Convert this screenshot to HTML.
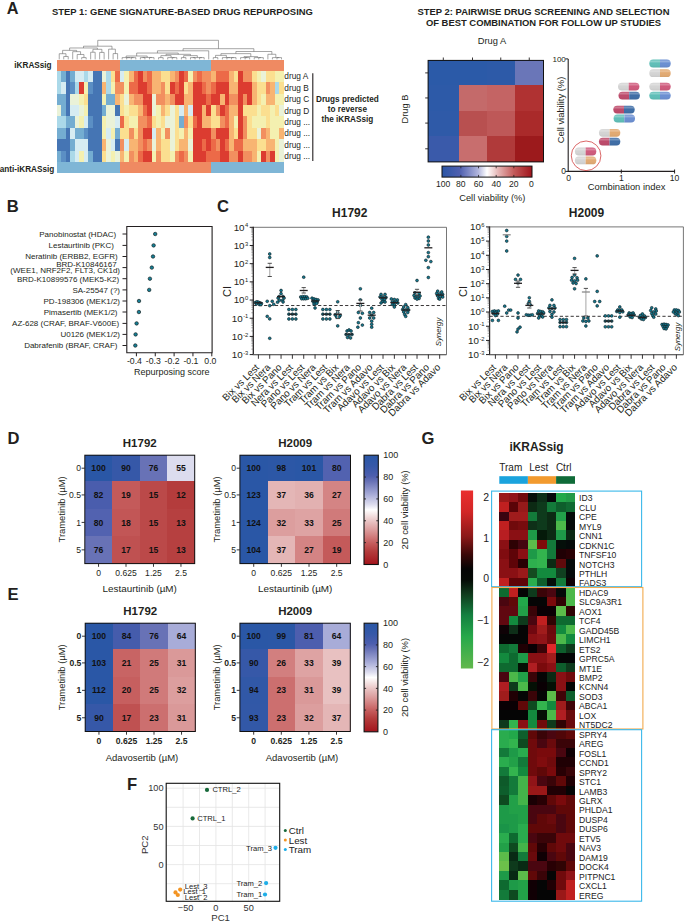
<!DOCTYPE html><html><head><meta charset="utf-8"><style>html,body{margin:0;padding:0;background:#fff}svg{display:block}text{font-family:"Liberation Sans",sans-serif}</style></head><body><svg width="685" height="924" viewBox="0 0 685 924"><rect width="685" height="924" fill="#fff"/><text x="6.80" y="13.90" font-size="16.3" font-weight="bold" fill="#231f20">A</text>
<text x="52.00" y="15.30" font-size="9.43" font-weight="bold" fill="#231f20">STEP 1: GENE SIGNATURE-BASED DRUG REPURPOSING</text>
<text x="543.50" y="14.80" font-size="9.43" font-weight="bold" text-anchor="middle" fill="#231f20">STEP 2: PAIRWISE DRUG SCREENING AND SELECTION</text>
<text x="543.50" y="26.10" font-size="9.43" font-weight="bold" text-anchor="middle" fill="#231f20">OF BEST COMBINATION FOR FOLLOW UP STUDIES</text>
<g shape-rendering="crispEdges">
<rect x="57.00" y="70.80" width="4.89" height="11.79" fill="#abd9e9"/>
<rect x="61.49" y="70.80" width="4.89" height="11.79" fill="#74add1"/>
<rect x="65.98" y="70.80" width="4.89" height="11.79" fill="#4575b4"/>
<rect x="70.47" y="70.80" width="4.89" height="11.79" fill="#74add1"/>
<rect x="74.96" y="70.80" width="4.89" height="11.79" fill="#d6ecf2"/>
<rect x="79.45" y="70.80" width="4.89" height="11.79" fill="#d6ecf2"/>
<rect x="83.94" y="70.80" width="4.89" height="11.79" fill="#abd9e9"/>
<rect x="88.42" y="70.80" width="4.89" height="11.79" fill="#d6ecf2"/>
<rect x="92.91" y="70.80" width="4.89" height="11.79" fill="#4575b4"/>
<rect x="97.40" y="70.80" width="4.89" height="11.79" fill="#4575b4"/>
<rect x="101.89" y="70.80" width="4.89" height="11.79" fill="#eaf2d8"/>
<rect x="106.38" y="70.80" width="4.89" height="11.79" fill="#abd9e9"/>
<rect x="110.87" y="70.80" width="4.89" height="11.79" fill="#fbdf90"/>
<rect x="115.36" y="70.80" width="4.89" height="11.79" fill="#ec6a48"/>
<rect x="119.85" y="70.80" width="4.96" height="11.79" fill="#d6ecf2"/>
<rect x="124.41" y="70.80" width="4.96" height="11.79" fill="#f4f0b0"/>
<rect x="128.97" y="70.80" width="4.96" height="11.79" fill="#f8b472"/>
<rect x="133.52" y="70.80" width="4.96" height="11.79" fill="#ec6a48"/>
<rect x="138.08" y="70.80" width="4.96" height="11.79" fill="#dc3c30"/>
<rect x="142.64" y="70.80" width="4.96" height="11.79" fill="#f28f5f"/>
<rect x="147.19" y="70.80" width="4.96" height="11.79" fill="#ec6a48"/>
<rect x="151.75" y="70.80" width="4.96" height="11.79" fill="#f8b472"/>
<rect x="156.31" y="70.80" width="4.96" height="11.79" fill="#f8b472"/>
<rect x="160.87" y="70.80" width="4.96" height="11.79" fill="#fbdf90"/>
<rect x="165.43" y="70.80" width="4.96" height="11.79" fill="#fbdf90"/>
<rect x="169.98" y="70.80" width="4.96" height="11.79" fill="#f8b472"/>
<rect x="174.54" y="70.80" width="4.96" height="11.79" fill="#f28f5f"/>
<rect x="179.10" y="70.80" width="4.96" height="11.79" fill="#dc3c30"/>
<rect x="183.66" y="70.80" width="4.96" height="11.79" fill="#ec6a48"/>
<rect x="188.21" y="70.80" width="4.96" height="11.79" fill="#f4f0b0"/>
<rect x="192.77" y="70.80" width="4.96" height="11.79" fill="#f28f5f"/>
<rect x="197.33" y="70.80" width="4.96" height="11.79" fill="#ec6a48"/>
<rect x="201.88" y="70.80" width="4.96" height="11.79" fill="#f28f5f"/>
<rect x="206.44" y="70.80" width="4.96" height="11.79" fill="#f28f5f"/>
<rect x="211.00" y="70.80" width="4.95" height="11.79" fill="#f8b472"/>
<rect x="215.55" y="70.80" width="4.95" height="11.79" fill="#ec6a48"/>
<rect x="220.10" y="70.80" width="4.95" height="11.79" fill="#ec6a48"/>
<rect x="224.65" y="70.80" width="4.95" height="11.79" fill="#ec6a48"/>
<rect x="229.20" y="70.80" width="4.95" height="11.79" fill="#f8b472"/>
<rect x="233.75" y="70.80" width="4.95" height="11.79" fill="#fbdf90"/>
<rect x="238.30" y="70.80" width="4.95" height="11.79" fill="#dc3c30"/>
<rect x="242.85" y="70.80" width="4.95" height="11.79" fill="#f28f5f"/>
<rect x="247.40" y="70.80" width="4.95" height="11.79" fill="#f28f5f"/>
<rect x="251.95" y="70.80" width="4.95" height="11.79" fill="#fbdf90"/>
<rect x="256.50" y="70.80" width="4.95" height="11.79" fill="#f4f0b0"/>
<rect x="261.05" y="70.80" width="4.95" height="11.79" fill="#eaf2d8"/>
<rect x="265.60" y="70.80" width="4.95" height="11.79" fill="#fbdf90"/>
<rect x="270.15" y="70.80" width="4.95" height="11.79" fill="#fbdf90"/>
<rect x="274.70" y="70.80" width="4.95" height="11.79" fill="#f4f0b0"/>
<rect x="279.25" y="70.80" width="4.95" height="11.79" fill="#f4f0b0"/>
<rect x="57.00" y="82.19" width="4.89" height="11.79" fill="#abd9e9"/>
<rect x="61.49" y="82.19" width="4.89" height="11.79" fill="#d6ecf2"/>
<rect x="65.98" y="82.19" width="4.89" height="11.79" fill="#4575b4"/>
<rect x="70.47" y="82.19" width="4.89" height="11.79" fill="#5b8fc4"/>
<rect x="74.96" y="82.19" width="4.89" height="11.79" fill="#abd9e9"/>
<rect x="79.45" y="82.19" width="4.89" height="11.79" fill="#dc3c30"/>
<rect x="83.94" y="82.19" width="4.89" height="11.79" fill="#f4f0b0"/>
<rect x="88.42" y="82.19" width="4.89" height="11.79" fill="#5b8fc4"/>
<rect x="92.91" y="82.19" width="4.89" height="11.79" fill="#4575b4"/>
<rect x="97.40" y="82.19" width="4.89" height="11.79" fill="#4575b4"/>
<rect x="101.89" y="82.19" width="4.89" height="11.79" fill="#f8b472"/>
<rect x="106.38" y="82.19" width="4.89" height="11.79" fill="#abd9e9"/>
<rect x="110.87" y="82.19" width="4.89" height="11.79" fill="#f4f0b0"/>
<rect x="115.36" y="82.19" width="4.89" height="11.79" fill="#f28f5f"/>
<rect x="119.85" y="82.19" width="4.96" height="11.79" fill="#f28f5f"/>
<rect x="124.41" y="82.19" width="4.96" height="11.79" fill="#f4f0b0"/>
<rect x="128.97" y="82.19" width="4.96" height="11.79" fill="#ec6a48"/>
<rect x="133.52" y="82.19" width="4.96" height="11.79" fill="#ec6a48"/>
<rect x="138.08" y="82.19" width="4.96" height="11.79" fill="#dc3c30"/>
<rect x="142.64" y="82.19" width="4.96" height="11.79" fill="#dc3c30"/>
<rect x="147.19" y="82.19" width="4.96" height="11.79" fill="#ec6a48"/>
<rect x="151.75" y="82.19" width="4.96" height="11.79" fill="#f8b472"/>
<rect x="156.31" y="82.19" width="4.96" height="11.79" fill="#f8b472"/>
<rect x="160.87" y="82.19" width="4.96" height="11.79" fill="#f28f5f"/>
<rect x="165.43" y="82.19" width="4.96" height="11.79" fill="#fbdf90"/>
<rect x="169.98" y="82.19" width="4.96" height="11.79" fill="#dc3c30"/>
<rect x="174.54" y="82.19" width="4.96" height="11.79" fill="#ec6a48"/>
<rect x="179.10" y="82.19" width="4.96" height="11.79" fill="#dc3c30"/>
<rect x="183.66" y="82.19" width="4.96" height="11.79" fill="#fbdf90"/>
<rect x="188.21" y="82.19" width="4.96" height="11.79" fill="#f8b472"/>
<rect x="192.77" y="82.19" width="4.96" height="11.79" fill="#dc3c30"/>
<rect x="197.33" y="82.19" width="4.96" height="11.79" fill="#dc3c30"/>
<rect x="201.88" y="82.19" width="4.96" height="11.79" fill="#ec6a48"/>
<rect x="206.44" y="82.19" width="4.96" height="11.79" fill="#f28f5f"/>
<rect x="211.00" y="82.19" width="4.95" height="11.79" fill="#ec6a48"/>
<rect x="215.55" y="82.19" width="4.95" height="11.79" fill="#dc3c30"/>
<rect x="220.10" y="82.19" width="4.95" height="11.79" fill="#dc3c30"/>
<rect x="224.65" y="82.19" width="4.95" height="11.79" fill="#dc3c30"/>
<rect x="229.20" y="82.19" width="4.95" height="11.79" fill="#f8b472"/>
<rect x="233.75" y="82.19" width="4.95" height="11.79" fill="#f8b472"/>
<rect x="238.30" y="82.19" width="4.95" height="11.79" fill="#dc3c30"/>
<rect x="242.85" y="82.19" width="4.95" height="11.79" fill="#dc3c30"/>
<rect x="247.40" y="82.19" width="4.95" height="11.79" fill="#dc3c30"/>
<rect x="251.95" y="82.19" width="4.95" height="11.79" fill="#f8b472"/>
<rect x="256.50" y="82.19" width="4.95" height="11.79" fill="#fbdf90"/>
<rect x="261.05" y="82.19" width="4.95" height="11.79" fill="#fbdf90"/>
<rect x="265.60" y="82.19" width="4.95" height="11.79" fill="#f28f5f"/>
<rect x="270.15" y="82.19" width="4.95" height="11.79" fill="#f8b472"/>
<rect x="274.70" y="82.19" width="4.95" height="11.79" fill="#abd9e9"/>
<rect x="279.25" y="82.19" width="4.95" height="11.79" fill="#fbdf90"/>
<rect x="57.00" y="93.58" width="4.89" height="11.79" fill="#74add1"/>
<rect x="61.49" y="93.58" width="4.89" height="11.79" fill="#74add1"/>
<rect x="65.98" y="93.58" width="4.89" height="11.79" fill="#4575b4"/>
<rect x="70.47" y="93.58" width="4.89" height="11.79" fill="#eaf2d8"/>
<rect x="74.96" y="93.58" width="4.89" height="11.79" fill="#eaf2d8"/>
<rect x="79.45" y="93.58" width="4.89" height="11.79" fill="#f4f0b0"/>
<rect x="83.94" y="93.58" width="4.89" height="11.79" fill="#fbdf90"/>
<rect x="88.42" y="93.58" width="4.89" height="11.79" fill="#4575b4"/>
<rect x="92.91" y="93.58" width="4.89" height="11.79" fill="#4575b4"/>
<rect x="97.40" y="93.58" width="4.89" height="11.79" fill="#4575b4"/>
<rect x="101.89" y="93.58" width="4.89" height="11.79" fill="#f4f0b0"/>
<rect x="106.38" y="93.58" width="4.89" height="11.79" fill="#74add1"/>
<rect x="110.87" y="93.58" width="4.89" height="11.79" fill="#74add1"/>
<rect x="115.36" y="93.58" width="4.89" height="11.79" fill="#f8b472"/>
<rect x="119.85" y="93.58" width="4.96" height="11.79" fill="#fbdf90"/>
<rect x="124.41" y="93.58" width="4.96" height="11.79" fill="#eaf2d8"/>
<rect x="128.97" y="93.58" width="4.96" height="11.79" fill="#f8b472"/>
<rect x="133.52" y="93.58" width="4.96" height="11.79" fill="#f28f5f"/>
<rect x="138.08" y="93.58" width="4.96" height="11.79" fill="#f28f5f"/>
<rect x="142.64" y="93.58" width="4.96" height="11.79" fill="#dc3c30"/>
<rect x="147.19" y="93.58" width="4.96" height="11.79" fill="#dc3c30"/>
<rect x="151.75" y="93.58" width="4.96" height="11.79" fill="#eaf2d8"/>
<rect x="156.31" y="93.58" width="4.96" height="11.79" fill="#f28f5f"/>
<rect x="160.87" y="93.58" width="4.96" height="11.79" fill="#f28f5f"/>
<rect x="165.43" y="93.58" width="4.96" height="11.79" fill="#f8b472"/>
<rect x="169.98" y="93.58" width="4.96" height="11.79" fill="#f28f5f"/>
<rect x="174.54" y="93.58" width="4.96" height="11.79" fill="#dc3c30"/>
<rect x="179.10" y="93.58" width="4.96" height="11.79" fill="#dc3c30"/>
<rect x="183.66" y="93.58" width="4.96" height="11.79" fill="#f8b472"/>
<rect x="188.21" y="93.58" width="4.96" height="11.79" fill="#f8b472"/>
<rect x="192.77" y="93.58" width="4.96" height="11.79" fill="#dc3c30"/>
<rect x="197.33" y="93.58" width="4.96" height="11.79" fill="#dc3c30"/>
<rect x="201.88" y="93.58" width="4.96" height="11.79" fill="#dc3c30"/>
<rect x="206.44" y="93.58" width="4.96" height="11.79" fill="#ec6a48"/>
<rect x="211.00" y="93.58" width="4.95" height="11.79" fill="#dc3c30"/>
<rect x="215.55" y="93.58" width="4.95" height="11.79" fill="#dc3c30"/>
<rect x="220.10" y="93.58" width="4.95" height="11.79" fill="#f8b472"/>
<rect x="224.65" y="93.58" width="4.95" height="11.79" fill="#dc3c30"/>
<rect x="229.20" y="93.58" width="4.95" height="11.79" fill="#f28f5f"/>
<rect x="233.75" y="93.58" width="4.95" height="11.79" fill="#f28f5f"/>
<rect x="238.30" y="93.58" width="4.95" height="11.79" fill="#dc3c30"/>
<rect x="242.85" y="93.58" width="4.95" height="11.79" fill="#f28f5f"/>
<rect x="247.40" y="93.58" width="4.95" height="11.79" fill="#dc3c30"/>
<rect x="251.95" y="93.58" width="4.95" height="11.79" fill="#f8b472"/>
<rect x="256.50" y="93.58" width="4.95" height="11.79" fill="#fbdf90"/>
<rect x="261.05" y="93.58" width="4.95" height="11.79" fill="#f4f0b0"/>
<rect x="265.60" y="93.58" width="4.95" height="11.79" fill="#f8b472"/>
<rect x="270.15" y="93.58" width="4.95" height="11.79" fill="#f8b472"/>
<rect x="274.70" y="93.58" width="4.95" height="11.79" fill="#f4f0b0"/>
<rect x="279.25" y="93.58" width="4.95" height="11.79" fill="#f4f0b0"/>
<rect x="57.00" y="104.96" width="4.89" height="11.79" fill="#eaf2d8"/>
<rect x="61.49" y="104.96" width="4.89" height="11.79" fill="#74add1"/>
<rect x="65.98" y="104.96" width="4.89" height="11.79" fill="#4575b4"/>
<rect x="70.47" y="104.96" width="4.89" height="11.79" fill="#d6ecf2"/>
<rect x="74.96" y="104.96" width="4.89" height="11.79" fill="#d6ecf2"/>
<rect x="79.45" y="104.96" width="4.89" height="11.79" fill="#eaf2d8"/>
<rect x="83.94" y="104.96" width="4.89" height="11.79" fill="#f4f0b0"/>
<rect x="88.42" y="104.96" width="4.89" height="11.79" fill="#4575b4"/>
<rect x="92.91" y="104.96" width="4.89" height="11.79" fill="#4575b4"/>
<rect x="97.40" y="104.96" width="4.89" height="11.79" fill="#4575b4"/>
<rect x="101.89" y="104.96" width="4.89" height="11.79" fill="#74add1"/>
<rect x="106.38" y="104.96" width="4.89" height="11.79" fill="#eaf2d8"/>
<rect x="110.87" y="104.96" width="4.89" height="11.79" fill="#eaf2d8"/>
<rect x="115.36" y="104.96" width="4.89" height="11.79" fill="#4575b4"/>
<rect x="119.85" y="104.96" width="4.96" height="11.79" fill="#fbdf90"/>
<rect x="124.41" y="104.96" width="4.96" height="11.79" fill="#f4f0b0"/>
<rect x="128.97" y="104.96" width="4.96" height="11.79" fill="#fbdf90"/>
<rect x="133.52" y="104.96" width="4.96" height="11.79" fill="#fbdf90"/>
<rect x="138.08" y="104.96" width="4.96" height="11.79" fill="#f8b472"/>
<rect x="142.64" y="104.96" width="4.96" height="11.79" fill="#ec6a48"/>
<rect x="147.19" y="104.96" width="4.96" height="11.79" fill="#dc3c30"/>
<rect x="151.75" y="104.96" width="4.96" height="11.79" fill="#eaf2d8"/>
<rect x="156.31" y="104.96" width="4.96" height="11.79" fill="#f4f0b0"/>
<rect x="160.87" y="104.96" width="4.96" height="11.79" fill="#f8b472"/>
<rect x="165.43" y="104.96" width="4.96" height="11.79" fill="#fbdf90"/>
<rect x="169.98" y="104.96" width="4.96" height="11.79" fill="#eaf2d8"/>
<rect x="174.54" y="104.96" width="4.96" height="11.79" fill="#fbdf90"/>
<rect x="179.10" y="104.96" width="4.96" height="11.79" fill="#d6ecf2"/>
<rect x="183.66" y="104.96" width="4.96" height="11.79" fill="#f8b472"/>
<rect x="188.21" y="104.96" width="4.96" height="11.79" fill="#d6ecf2"/>
<rect x="192.77" y="104.96" width="4.96" height="11.79" fill="#dc3c30"/>
<rect x="197.33" y="104.96" width="4.96" height="11.79" fill="#dc3c30"/>
<rect x="201.88" y="104.96" width="4.96" height="11.79" fill="#f8b472"/>
<rect x="206.44" y="104.96" width="4.96" height="11.79" fill="#dc3c30"/>
<rect x="211.00" y="104.96" width="4.95" height="11.79" fill="#fbdf90"/>
<rect x="215.55" y="104.96" width="4.95" height="11.79" fill="#f28f5f"/>
<rect x="220.10" y="104.96" width="4.95" height="11.79" fill="#dc3c30"/>
<rect x="224.65" y="104.96" width="4.95" height="11.79" fill="#ec6a48"/>
<rect x="229.20" y="104.96" width="4.95" height="11.79" fill="#f8b472"/>
<rect x="233.75" y="104.96" width="4.95" height="11.79" fill="#f8b472"/>
<rect x="238.30" y="104.96" width="4.95" height="11.79" fill="#dc3c30"/>
<rect x="242.85" y="104.96" width="4.95" height="11.79" fill="#fbdf90"/>
<rect x="247.40" y="104.96" width="4.95" height="11.79" fill="#fbdf90"/>
<rect x="251.95" y="104.96" width="4.95" height="11.79" fill="#fbdf90"/>
<rect x="256.50" y="104.96" width="4.95" height="11.79" fill="#f4f0b0"/>
<rect x="261.05" y="104.96" width="4.95" height="11.79" fill="#fbdf90"/>
<rect x="265.60" y="104.96" width="4.95" height="11.79" fill="#fbdf90"/>
<rect x="270.15" y="104.96" width="4.95" height="11.79" fill="#f4f0b0"/>
<rect x="274.70" y="104.96" width="4.95" height="11.79" fill="#fbdf90"/>
<rect x="279.25" y="104.96" width="4.95" height="11.79" fill="#eaf2d8"/>
<rect x="57.00" y="116.35" width="4.89" height="11.79" fill="#abd9e9"/>
<rect x="61.49" y="116.35" width="4.89" height="11.79" fill="#abd9e9"/>
<rect x="65.98" y="116.35" width="4.89" height="11.79" fill="#74add1"/>
<rect x="70.47" y="116.35" width="4.89" height="11.79" fill="#74add1"/>
<rect x="74.96" y="116.35" width="4.89" height="11.79" fill="#eaf2d8"/>
<rect x="79.45" y="116.35" width="4.89" height="11.79" fill="#f4f0b0"/>
<rect x="83.94" y="116.35" width="4.89" height="11.79" fill="#d6ecf2"/>
<rect x="88.42" y="116.35" width="4.89" height="11.79" fill="#5b8fc4"/>
<rect x="92.91" y="116.35" width="4.89" height="11.79" fill="#4575b4"/>
<rect x="97.40" y="116.35" width="4.89" height="11.79" fill="#4575b4"/>
<rect x="101.89" y="116.35" width="4.89" height="11.79" fill="#f4f0b0"/>
<rect x="106.38" y="116.35" width="4.89" height="11.79" fill="#eaf2d8"/>
<rect x="110.87" y="116.35" width="4.89" height="11.79" fill="#eaf2d8"/>
<rect x="115.36" y="116.35" width="4.89" height="11.79" fill="#d6ecf2"/>
<rect x="119.85" y="116.35" width="4.96" height="11.79" fill="#ec6a48"/>
<rect x="124.41" y="116.35" width="4.96" height="11.79" fill="#fbdf90"/>
<rect x="128.97" y="116.35" width="4.96" height="11.79" fill="#f4f0b0"/>
<rect x="133.52" y="116.35" width="4.96" height="11.79" fill="#f4f0b0"/>
<rect x="138.08" y="116.35" width="4.96" height="11.79" fill="#f28f5f"/>
<rect x="142.64" y="116.35" width="4.96" height="11.79" fill="#f28f5f"/>
<rect x="147.19" y="116.35" width="4.96" height="11.79" fill="#ec6a48"/>
<rect x="151.75" y="116.35" width="4.96" height="11.79" fill="#fbdf90"/>
<rect x="156.31" y="116.35" width="4.96" height="11.79" fill="#f4f0b0"/>
<rect x="160.87" y="116.35" width="4.96" height="11.79" fill="#fbdf90"/>
<rect x="165.43" y="116.35" width="4.96" height="11.79" fill="#eaf2d8"/>
<rect x="169.98" y="116.35" width="4.96" height="11.79" fill="#eaf2d8"/>
<rect x="174.54" y="116.35" width="4.96" height="11.79" fill="#fbdf90"/>
<rect x="179.10" y="116.35" width="4.96" height="11.79" fill="#74add1"/>
<rect x="183.66" y="116.35" width="4.96" height="11.79" fill="#f28f5f"/>
<rect x="188.21" y="116.35" width="4.96" height="11.79" fill="#fbdf90"/>
<rect x="192.77" y="116.35" width="4.96" height="11.79" fill="#ec6a48"/>
<rect x="197.33" y="116.35" width="4.96" height="11.79" fill="#dc3c30"/>
<rect x="201.88" y="116.35" width="4.96" height="11.79" fill="#f8b472"/>
<rect x="206.44" y="116.35" width="4.96" height="11.79" fill="#f8b472"/>
<rect x="211.00" y="116.35" width="4.95" height="11.79" fill="#fbdf90"/>
<rect x="215.55" y="116.35" width="4.95" height="11.79" fill="#fbdf90"/>
<rect x="220.10" y="116.35" width="4.95" height="11.79" fill="#f28f5f"/>
<rect x="224.65" y="116.35" width="4.95" height="11.79" fill="#ec6a48"/>
<rect x="229.20" y="116.35" width="4.95" height="11.79" fill="#f8b472"/>
<rect x="233.75" y="116.35" width="4.95" height="11.79" fill="#f4f0b0"/>
<rect x="238.30" y="116.35" width="4.95" height="11.79" fill="#dc3c30"/>
<rect x="242.85" y="116.35" width="4.95" height="11.79" fill="#f28f5f"/>
<rect x="247.40" y="116.35" width="4.95" height="11.79" fill="#fbdf90"/>
<rect x="251.95" y="116.35" width="4.95" height="11.79" fill="#f4f0b0"/>
<rect x="256.50" y="116.35" width="4.95" height="11.79" fill="#f4f0b0"/>
<rect x="261.05" y="116.35" width="4.95" height="11.79" fill="#f4f0b0"/>
<rect x="265.60" y="116.35" width="4.95" height="11.79" fill="#fbdf90"/>
<rect x="270.15" y="116.35" width="4.95" height="11.79" fill="#f4f0b0"/>
<rect x="274.70" y="116.35" width="4.95" height="11.79" fill="#f4f0b0"/>
<rect x="279.25" y="116.35" width="4.95" height="11.79" fill="#f4f0b0"/>
<rect x="57.00" y="127.74" width="4.89" height="11.79" fill="#74add1"/>
<rect x="61.49" y="127.74" width="4.89" height="11.79" fill="#74add1"/>
<rect x="65.98" y="127.74" width="4.89" height="11.79" fill="#4575b4"/>
<rect x="70.47" y="127.74" width="4.89" height="11.79" fill="#d6ecf2"/>
<rect x="74.96" y="127.74" width="4.89" height="11.79" fill="#74add1"/>
<rect x="79.45" y="127.74" width="4.89" height="11.79" fill="#74add1"/>
<rect x="83.94" y="127.74" width="4.89" height="11.79" fill="#5b8fc4"/>
<rect x="88.42" y="127.74" width="4.89" height="11.79" fill="#4575b4"/>
<rect x="92.91" y="127.74" width="4.89" height="11.79" fill="#4575b4"/>
<rect x="97.40" y="127.74" width="4.89" height="11.79" fill="#4575b4"/>
<rect x="101.89" y="127.74" width="4.89" height="11.79" fill="#f4f0b0"/>
<rect x="106.38" y="127.74" width="4.89" height="11.79" fill="#d6ecf2"/>
<rect x="110.87" y="127.74" width="4.89" height="11.79" fill="#f4f0b0"/>
<rect x="115.36" y="127.74" width="4.89" height="11.79" fill="#74add1"/>
<rect x="119.85" y="127.74" width="4.96" height="11.79" fill="#fbdf90"/>
<rect x="124.41" y="127.74" width="4.96" height="11.79" fill="#fbdf90"/>
<rect x="128.97" y="127.74" width="4.96" height="11.79" fill="#f28f5f"/>
<rect x="133.52" y="127.74" width="4.96" height="11.79" fill="#fbdf90"/>
<rect x="138.08" y="127.74" width="4.96" height="11.79" fill="#f28f5f"/>
<rect x="142.64" y="127.74" width="4.96" height="11.79" fill="#dc3c30"/>
<rect x="147.19" y="127.74" width="4.96" height="11.79" fill="#dc3c30"/>
<rect x="151.75" y="127.74" width="4.96" height="11.79" fill="#d6ecf2"/>
<rect x="156.31" y="127.74" width="4.96" height="11.79" fill="#f8b472"/>
<rect x="160.87" y="127.74" width="4.96" height="11.79" fill="#f4f0b0"/>
<rect x="165.43" y="127.74" width="4.96" height="11.79" fill="#f28f5f"/>
<rect x="169.98" y="127.74" width="4.96" height="11.79" fill="#eaf2d8"/>
<rect x="174.54" y="127.74" width="4.96" height="11.79" fill="#fbdf90"/>
<rect x="179.10" y="127.74" width="4.96" height="11.79" fill="#f4f0b0"/>
<rect x="183.66" y="127.74" width="4.96" height="11.79" fill="#f8b472"/>
<rect x="188.21" y="127.74" width="4.96" height="11.79" fill="#f4f0b0"/>
<rect x="192.77" y="127.74" width="4.96" height="11.79" fill="#dc3c30"/>
<rect x="197.33" y="127.74" width="4.96" height="11.79" fill="#dc3c30"/>
<rect x="201.88" y="127.74" width="4.96" height="11.79" fill="#dc3c30"/>
<rect x="206.44" y="127.74" width="4.96" height="11.79" fill="#dc3c30"/>
<rect x="211.00" y="127.74" width="4.95" height="11.79" fill="#f28f5f"/>
<rect x="215.55" y="127.74" width="4.95" height="11.79" fill="#dc3c30"/>
<rect x="220.10" y="127.74" width="4.95" height="11.79" fill="#dc3c30"/>
<rect x="224.65" y="127.74" width="4.95" height="11.79" fill="#dc3c30"/>
<rect x="229.20" y="127.74" width="4.95" height="11.79" fill="#f8b472"/>
<rect x="233.75" y="127.74" width="4.95" height="11.79" fill="#fbdf90"/>
<rect x="238.30" y="127.74" width="4.95" height="11.79" fill="#dc3c30"/>
<rect x="242.85" y="127.74" width="4.95" height="11.79" fill="#f28f5f"/>
<rect x="247.40" y="127.74" width="4.95" height="11.79" fill="#fbdf90"/>
<rect x="251.95" y="127.74" width="4.95" height="11.79" fill="#fbdf90"/>
<rect x="256.50" y="127.74" width="4.95" height="11.79" fill="#eaf2d8"/>
<rect x="261.05" y="127.74" width="4.95" height="11.79" fill="#f28f5f"/>
<rect x="265.60" y="127.74" width="4.95" height="11.79" fill="#f8b472"/>
<rect x="270.15" y="127.74" width="4.95" height="11.79" fill="#f4f0b0"/>
<rect x="274.70" y="127.74" width="4.95" height="11.79" fill="#f4f0b0"/>
<rect x="279.25" y="127.74" width="4.95" height="11.79" fill="#f8b472"/>
<rect x="57.00" y="139.12" width="4.89" height="11.79" fill="#4575b4"/>
<rect x="61.49" y="139.12" width="4.89" height="11.79" fill="#4575b4"/>
<rect x="65.98" y="139.12" width="4.89" height="11.79" fill="#4575b4"/>
<rect x="70.47" y="139.12" width="4.89" height="11.79" fill="#74add1"/>
<rect x="74.96" y="139.12" width="4.89" height="11.79" fill="#d6ecf2"/>
<rect x="79.45" y="139.12" width="4.89" height="11.79" fill="#d6ecf2"/>
<rect x="83.94" y="139.12" width="4.89" height="11.79" fill="#d6ecf2"/>
<rect x="88.42" y="139.12" width="4.89" height="11.79" fill="#4575b4"/>
<rect x="92.91" y="139.12" width="4.89" height="11.79" fill="#4575b4"/>
<rect x="97.40" y="139.12" width="4.89" height="11.79" fill="#4575b4"/>
<rect x="101.89" y="139.12" width="4.89" height="11.79" fill="#f8b472"/>
<rect x="106.38" y="139.12" width="4.89" height="11.79" fill="#eaf2d8"/>
<rect x="110.87" y="139.12" width="4.89" height="11.79" fill="#d6ecf2"/>
<rect x="115.36" y="139.12" width="4.89" height="11.79" fill="#4575b4"/>
<rect x="119.85" y="139.12" width="4.96" height="11.79" fill="#f28f5f"/>
<rect x="124.41" y="139.12" width="4.96" height="11.79" fill="#d6ecf2"/>
<rect x="128.97" y="139.12" width="4.96" height="11.79" fill="#f8b472"/>
<rect x="133.52" y="139.12" width="4.96" height="11.79" fill="#f8b472"/>
<rect x="138.08" y="139.12" width="4.96" height="11.79" fill="#f28f5f"/>
<rect x="142.64" y="139.12" width="4.96" height="11.79" fill="#ec6a48"/>
<rect x="147.19" y="139.12" width="4.96" height="11.79" fill="#f28f5f"/>
<rect x="151.75" y="139.12" width="4.96" height="11.79" fill="#eaf2d8"/>
<rect x="156.31" y="139.12" width="4.96" height="11.79" fill="#f8b472"/>
<rect x="160.87" y="139.12" width="4.96" height="11.79" fill="#fbdf90"/>
<rect x="165.43" y="139.12" width="4.96" height="11.79" fill="#fbdf90"/>
<rect x="169.98" y="139.12" width="4.96" height="11.79" fill="#eaf2d8"/>
<rect x="174.54" y="139.12" width="4.96" height="11.79" fill="#fbdf90"/>
<rect x="179.10" y="139.12" width="4.96" height="11.79" fill="#f8b472"/>
<rect x="183.66" y="139.12" width="4.96" height="11.79" fill="#f8b472"/>
<rect x="188.21" y="139.12" width="4.96" height="11.79" fill="#eaf2d8"/>
<rect x="192.77" y="139.12" width="4.96" height="11.79" fill="#dc3c30"/>
<rect x="197.33" y="139.12" width="4.96" height="11.79" fill="#dc3c30"/>
<rect x="201.88" y="139.12" width="4.96" height="11.79" fill="#ec6a48"/>
<rect x="206.44" y="139.12" width="4.96" height="11.79" fill="#dc3c30"/>
<rect x="211.00" y="139.12" width="4.95" height="11.79" fill="#ec6a48"/>
<rect x="215.55" y="139.12" width="4.95" height="11.79" fill="#f28f5f"/>
<rect x="220.10" y="139.12" width="4.95" height="11.79" fill="#dc3c30"/>
<rect x="224.65" y="139.12" width="4.95" height="11.79" fill="#ec6a48"/>
<rect x="229.20" y="139.12" width="4.95" height="11.79" fill="#f8b472"/>
<rect x="233.75" y="139.12" width="4.95" height="11.79" fill="#ec6a48"/>
<rect x="238.30" y="139.12" width="4.95" height="11.79" fill="#ec6a48"/>
<rect x="242.85" y="139.12" width="4.95" height="11.79" fill="#f8b472"/>
<rect x="247.40" y="139.12" width="4.95" height="11.79" fill="#f8b472"/>
<rect x="251.95" y="139.12" width="4.95" height="11.79" fill="#f8b472"/>
<rect x="256.50" y="139.12" width="4.95" height="11.79" fill="#fbdf90"/>
<rect x="261.05" y="139.12" width="4.95" height="11.79" fill="#fbdf90"/>
<rect x="265.60" y="139.12" width="4.95" height="11.79" fill="#f8b472"/>
<rect x="270.15" y="139.12" width="4.95" height="11.79" fill="#f8b472"/>
<rect x="274.70" y="139.12" width="4.95" height="11.79" fill="#f4f0b0"/>
<rect x="279.25" y="139.12" width="4.95" height="11.79" fill="#eaf2d8"/>
<rect x="57.00" y="150.51" width="4.89" height="11.79" fill="#74add1"/>
<rect x="61.49" y="150.51" width="4.89" height="11.79" fill="#5b8fc4"/>
<rect x="65.98" y="150.51" width="4.89" height="11.79" fill="#4575b4"/>
<rect x="70.47" y="150.51" width="4.89" height="11.79" fill="#abd9e9"/>
<rect x="74.96" y="150.51" width="4.89" height="11.79" fill="#d6ecf2"/>
<rect x="79.45" y="150.51" width="4.89" height="11.79" fill="#f4f0b0"/>
<rect x="83.94" y="150.51" width="4.89" height="11.79" fill="#d6ecf2"/>
<rect x="88.42" y="150.51" width="4.89" height="11.79" fill="#74add1"/>
<rect x="92.91" y="150.51" width="4.89" height="11.79" fill="#4575b4"/>
<rect x="97.40" y="150.51" width="4.89" height="11.79" fill="#4575b4"/>
<rect x="101.89" y="150.51" width="4.89" height="11.79" fill="#fbdf90"/>
<rect x="106.38" y="150.51" width="4.89" height="11.79" fill="#eaf2d8"/>
<rect x="110.87" y="150.51" width="4.89" height="11.79" fill="#f4f0b0"/>
<rect x="115.36" y="150.51" width="4.89" height="11.79" fill="#eaf2d8"/>
<rect x="119.85" y="150.51" width="4.96" height="11.79" fill="#f8b472"/>
<rect x="124.41" y="150.51" width="4.96" height="11.79" fill="#f4f0b0"/>
<rect x="128.97" y="150.51" width="4.96" height="11.79" fill="#f28f5f"/>
<rect x="133.52" y="150.51" width="4.96" height="11.79" fill="#f8b472"/>
<rect x="138.08" y="150.51" width="4.96" height="11.79" fill="#ec6a48"/>
<rect x="142.64" y="150.51" width="4.96" height="11.79" fill="#dc3c30"/>
<rect x="147.19" y="150.51" width="4.96" height="11.79" fill="#dc3c30"/>
<rect x="151.75" y="150.51" width="4.96" height="11.79" fill="#f4f0b0"/>
<rect x="156.31" y="150.51" width="4.96" height="11.79" fill="#f28f5f"/>
<rect x="160.87" y="150.51" width="4.96" height="11.79" fill="#fbdf90"/>
<rect x="165.43" y="150.51" width="4.96" height="11.79" fill="#fbdf90"/>
<rect x="169.98" y="150.51" width="4.96" height="11.79" fill="#f4f0b0"/>
<rect x="174.54" y="150.51" width="4.96" height="11.79" fill="#f28f5f"/>
<rect x="179.10" y="150.51" width="4.96" height="11.79" fill="#ec6a48"/>
<rect x="183.66" y="150.51" width="4.96" height="11.79" fill="#f28f5f"/>
<rect x="188.21" y="150.51" width="4.96" height="11.79" fill="#f4f0b0"/>
<rect x="192.77" y="150.51" width="4.96" height="11.79" fill="#dc3c30"/>
<rect x="197.33" y="150.51" width="4.96" height="11.79" fill="#dc3c30"/>
<rect x="201.88" y="150.51" width="4.96" height="11.79" fill="#dc3c30"/>
<rect x="206.44" y="150.51" width="4.96" height="11.79" fill="#ec6a48"/>
<rect x="211.00" y="150.51" width="4.95" height="11.79" fill="#ec6a48"/>
<rect x="215.55" y="150.51" width="4.95" height="11.79" fill="#ec6a48"/>
<rect x="220.10" y="150.51" width="4.95" height="11.79" fill="#dc3c30"/>
<rect x="224.65" y="150.51" width="4.95" height="11.79" fill="#dc3c30"/>
<rect x="229.20" y="150.51" width="4.95" height="11.79" fill="#f28f5f"/>
<rect x="233.75" y="150.51" width="4.95" height="11.79" fill="#f28f5f"/>
<rect x="238.30" y="150.51" width="4.95" height="11.79" fill="#dc3c30"/>
<rect x="242.85" y="150.51" width="4.95" height="11.79" fill="#f28f5f"/>
<rect x="247.40" y="150.51" width="4.95" height="11.79" fill="#f28f5f"/>
<rect x="251.95" y="150.51" width="4.95" height="11.79" fill="#f8b472"/>
<rect x="256.50" y="150.51" width="4.95" height="11.79" fill="#f4f0b0"/>
<rect x="261.05" y="150.51" width="4.95" height="11.79" fill="#dc3c30"/>
<rect x="265.60" y="150.51" width="4.95" height="11.79" fill="#f28f5f"/>
<rect x="270.15" y="150.51" width="4.95" height="11.79" fill="#dc3c30"/>
<rect x="274.70" y="150.51" width="4.95" height="11.79" fill="#f4f0b0"/>
<rect x="279.25" y="150.51" width="4.95" height="11.79" fill="#eaf2d8"/>
<rect x="57.00" y="59.60" width="62.85" height="11.20" fill="#ef8a62"/>
<rect x="119.85" y="59.60" width="91.15" height="11.20" fill="#7fb6d6"/>
<rect x="211.00" y="59.60" width="72.80" height="11.20" fill="#ef8a62"/>
<rect x="57.00" y="161.90" width="62.85" height="11.40" fill="#7fb6d6"/>
<rect x="119.85" y="161.90" width="91.15" height="11.40" fill="#ef8a62"/>
<rect x="211.00" y="161.90" width="72.80" height="11.40" fill="#7fb6d6"/>
</g>
<text x="51.60" y="68.40" font-size="8.2" font-weight="bold" text-anchor="end" fill="#231f20">iKRASsig</text>
<text x="54.30" y="171.80" font-size="8.2" font-weight="bold" text-anchor="end" fill="#231f20">anti-iKRASsig</text>
<text x="284.30" y="79.49" font-size="8.3" fill="#231f20">drug A</text>
<text x="284.30" y="90.88" font-size="8.3" fill="#231f20">drug B</text>
<text x="284.30" y="102.27" font-size="8.3" fill="#231f20">drug C</text>
<text x="284.30" y="113.66" font-size="8.3" fill="#231f20">drug D</text>
<text x="284.30" y="125.04" font-size="8.3" fill="#231f20">drug ...</text>
<text x="284.30" y="136.43" font-size="8.3" fill="#231f20">drug ...</text>
<text x="284.30" y="147.82" font-size="8.3" fill="#231f20">drug ...</text>
<text x="284.30" y="159.21" font-size="8.3" fill="#231f20">drug ...</text>
<line x1="312.80" y1="73.20" x2="312.80" y2="160.90" stroke="#231f20" stroke-width="1.1"/>
<text x="347.40" y="101.90" font-size="8.2" font-weight="bold" text-anchor="middle" fill="#231f20">Drugs predicted</text>
<text x="347.40" y="111.90" font-size="8.2" font-weight="bold" text-anchor="middle" fill="#231f20">to reverse</text>
<text x="347.40" y="121.90" font-size="8.2" font-weight="bold" text-anchor="middle" fill="#231f20">the iKRASsig</text>
<g stroke="#6a6a6a" stroke-width="0.6" fill="none">
<line x1="63.73" y1="59.40" x2="63.73" y2="56.48"/>
<line x1="68.22" y1="59.40" x2="68.22" y2="56.48"/>
<line x1="63.73" y1="56.48" x2="68.22" y2="56.48"/>
<line x1="59.24" y1="59.40" x2="59.24" y2="53.71"/>
<line x1="65.98" y1="56.48" x2="65.98" y2="53.71"/>
<line x1="59.24" y1="53.71" x2="65.98" y2="53.71"/>
<line x1="81.69" y1="59.40" x2="81.69" y2="57.60"/>
<line x1="86.18" y1="59.40" x2="86.18" y2="57.60"/>
<line x1="81.69" y1="57.60" x2="86.18" y2="57.60"/>
<line x1="77.20" y1="59.40" x2="77.20" y2="54.48"/>
<line x1="83.94" y1="57.60" x2="83.94" y2="54.48"/>
<line x1="77.20" y1="54.48" x2="83.94" y2="54.48"/>
<line x1="72.71" y1="59.40" x2="72.71" y2="51.66"/>
<line x1="80.57" y1="54.48" x2="80.57" y2="51.66"/>
<line x1="72.71" y1="51.66" x2="80.57" y2="51.66"/>
<line x1="62.61" y1="53.71" x2="62.61" y2="50.35"/>
<line x1="76.64" y1="51.66" x2="76.64" y2="50.35"/>
<line x1="62.61" y1="50.35" x2="76.64" y2="50.35"/>
<line x1="90.67" y1="59.40" x2="90.67" y2="52.24"/>
<line x1="95.16" y1="59.40" x2="95.16" y2="52.24"/>
<line x1="90.67" y1="52.24" x2="95.16" y2="52.24"/>
<line x1="99.65" y1="59.40" x2="99.65" y2="52.42"/>
<line x1="104.14" y1="59.40" x2="104.14" y2="52.42"/>
<line x1="99.65" y1="52.42" x2="104.14" y2="52.42"/>
<line x1="92.91" y1="52.24" x2="92.91" y2="49.31"/>
<line x1="101.89" y1="52.42" x2="101.89" y2="49.31"/>
<line x1="92.91" y1="49.31" x2="101.89" y2="49.31"/>
<line x1="69.63" y1="50.35" x2="69.63" y2="47.98"/>
<line x1="97.40" y1="49.31" x2="97.40" y2="47.98"/>
<line x1="69.63" y1="47.98" x2="97.40" y2="47.98"/>
<line x1="113.12" y1="59.40" x2="113.12" y2="53.58"/>
<line x1="117.61" y1="59.40" x2="117.61" y2="53.58"/>
<line x1="113.12" y1="53.58" x2="117.61" y2="53.58"/>
<line x1="108.63" y1="59.40" x2="108.63" y2="49.17"/>
<line x1="115.36" y1="53.58" x2="115.36" y2="49.17"/>
<line x1="108.63" y1="49.17" x2="115.36" y2="49.17"/>
<line x1="83.51" y1="47.98" x2="83.51" y2="46.20"/>
<line x1="111.99" y1="49.17" x2="111.99" y2="46.20"/>
<line x1="83.51" y1="46.20" x2="111.99" y2="46.20"/>
<line x1="131.24" y1="59.40" x2="131.24" y2="57.60"/>
<line x1="135.80" y1="59.40" x2="135.80" y2="57.60"/>
<line x1="131.24" y1="57.60" x2="135.80" y2="57.60"/>
<line x1="126.69" y1="59.40" x2="126.69" y2="57.60"/>
<line x1="133.52" y1="57.60" x2="133.52" y2="57.60"/>
<line x1="126.69" y1="57.60" x2="133.52" y2="57.60"/>
<line x1="122.13" y1="59.40" x2="122.13" y2="57.60"/>
<line x1="130.10" y1="57.60" x2="130.10" y2="57.60"/>
<line x1="122.13" y1="57.60" x2="130.10" y2="57.60"/>
<line x1="140.36" y1="59.40" x2="140.36" y2="57.60"/>
<line x1="144.92" y1="59.40" x2="144.92" y2="57.60"/>
<line x1="140.36" y1="57.60" x2="144.92" y2="57.60"/>
<line x1="149.47" y1="59.40" x2="149.47" y2="57.60"/>
<line x1="154.03" y1="59.40" x2="154.03" y2="57.60"/>
<line x1="149.47" y1="57.60" x2="154.03" y2="57.60"/>
<line x1="142.64" y1="57.60" x2="142.64" y2="57.46"/>
<line x1="151.75" y1="57.60" x2="151.75" y2="57.46"/>
<line x1="142.64" y1="57.46" x2="151.75" y2="57.46"/>
<line x1="126.12" y1="57.60" x2="126.12" y2="56.00"/>
<line x1="147.19" y1="57.46" x2="147.19" y2="56.00"/>
<line x1="126.12" y1="56.00" x2="147.19" y2="56.00"/>
<line x1="158.59" y1="59.40" x2="158.59" y2="57.60"/>
<line x1="163.15" y1="59.40" x2="163.15" y2="57.60"/>
<line x1="158.59" y1="57.60" x2="163.15" y2="57.60"/>
<line x1="172.26" y1="59.40" x2="172.26" y2="57.60"/>
<line x1="176.82" y1="59.40" x2="176.82" y2="57.60"/>
<line x1="172.26" y1="57.60" x2="176.82" y2="57.60"/>
<line x1="167.70" y1="59.40" x2="167.70" y2="57.60"/>
<line x1="174.54" y1="57.60" x2="174.54" y2="57.60"/>
<line x1="167.70" y1="57.60" x2="174.54" y2="57.60"/>
<line x1="160.87" y1="57.60" x2="160.87" y2="55.64"/>
<line x1="171.12" y1="57.60" x2="171.12" y2="55.64"/>
<line x1="160.87" y1="55.64" x2="171.12" y2="55.64"/>
<line x1="181.38" y1="59.40" x2="181.38" y2="57.60"/>
<line x1="185.93" y1="59.40" x2="185.93" y2="57.60"/>
<line x1="181.38" y1="57.60" x2="185.93" y2="57.60"/>
<line x1="190.49" y1="59.40" x2="190.49" y2="57.60"/>
<line x1="195.05" y1="59.40" x2="195.05" y2="57.60"/>
<line x1="190.49" y1="57.60" x2="195.05" y2="57.60"/>
<line x1="199.61" y1="59.40" x2="199.61" y2="57.60"/>
<line x1="204.16" y1="59.40" x2="204.16" y2="57.60"/>
<line x1="199.61" y1="57.60" x2="204.16" y2="57.60"/>
<line x1="192.77" y1="57.60" x2="192.77" y2="57.60"/>
<line x1="201.88" y1="57.60" x2="201.88" y2="57.60"/>
<line x1="192.77" y1="57.60" x2="201.88" y2="57.60"/>
<line x1="183.66" y1="57.60" x2="183.66" y2="55.63"/>
<line x1="197.33" y1="57.60" x2="197.33" y2="55.63"/>
<line x1="183.66" y1="55.63" x2="197.33" y2="55.63"/>
<line x1="165.99" y1="55.64" x2="165.99" y2="54.32"/>
<line x1="190.49" y1="55.63" x2="190.49" y2="54.32"/>
<line x1="165.99" y1="54.32" x2="190.49" y2="54.32"/>
<line x1="136.66" y1="56.00" x2="136.66" y2="53.04"/>
<line x1="178.24" y1="54.32" x2="178.24" y2="53.04"/>
<line x1="136.66" y1="53.04" x2="178.24" y2="53.04"/>
<line x1="157.45" y1="53.04" x2="157.45" y2="50.80"/>
<line x1="208.72" y1="59.40" x2="208.72" y2="50.80"/>
<line x1="157.45" y1="50.80" x2="208.72" y2="50.80"/>
<line x1="213.28" y1="59.40" x2="213.28" y2="57.60"/>
<line x1="217.83" y1="59.40" x2="217.83" y2="57.60"/>
<line x1="213.28" y1="57.60" x2="217.83" y2="57.60"/>
<line x1="231.47" y1="59.40" x2="231.47" y2="57.60"/>
<line x1="236.03" y1="59.40" x2="236.03" y2="57.60"/>
<line x1="231.47" y1="57.60" x2="236.03" y2="57.60"/>
<line x1="226.93" y1="59.40" x2="226.93" y2="57.60"/>
<line x1="233.75" y1="57.60" x2="233.75" y2="57.60"/>
<line x1="226.93" y1="57.60" x2="233.75" y2="57.60"/>
<line x1="222.38" y1="59.40" x2="222.38" y2="57.60"/>
<line x1="230.34" y1="57.60" x2="230.34" y2="57.60"/>
<line x1="222.38" y1="57.60" x2="230.34" y2="57.60"/>
<line x1="215.55" y1="57.60" x2="215.55" y2="55.36"/>
<line x1="226.36" y1="57.60" x2="226.36" y2="55.36"/>
<line x1="215.55" y1="55.36" x2="226.36" y2="55.36"/>
<line x1="245.12" y1="59.40" x2="245.12" y2="57.60"/>
<line x1="249.68" y1="59.40" x2="249.68" y2="57.60"/>
<line x1="245.12" y1="57.60" x2="249.68" y2="57.60"/>
<line x1="240.58" y1="59.40" x2="240.58" y2="57.60"/>
<line x1="247.40" y1="57.60" x2="247.40" y2="57.60"/>
<line x1="240.58" y1="57.60" x2="247.40" y2="57.60"/>
<line x1="258.77" y1="59.40" x2="258.77" y2="57.60"/>
<line x1="263.32" y1="59.40" x2="263.32" y2="57.60"/>
<line x1="258.77" y1="57.60" x2="263.32" y2="57.60"/>
<line x1="254.22" y1="59.40" x2="254.22" y2="57.60"/>
<line x1="261.05" y1="57.60" x2="261.05" y2="57.60"/>
<line x1="254.22" y1="57.60" x2="261.05" y2="57.60"/>
<line x1="243.99" y1="57.60" x2="243.99" y2="56.61"/>
<line x1="257.64" y1="57.60" x2="257.64" y2="56.61"/>
<line x1="243.99" y1="56.61" x2="257.64" y2="56.61"/>
<line x1="220.95" y1="55.36" x2="220.95" y2="53.65"/>
<line x1="250.81" y1="56.61" x2="250.81" y2="53.65"/>
<line x1="220.95" y1="53.65" x2="250.81" y2="53.65"/>
<line x1="276.97" y1="59.40" x2="276.97" y2="57.60"/>
<line x1="281.52" y1="59.40" x2="281.52" y2="57.60"/>
<line x1="276.97" y1="57.60" x2="281.52" y2="57.60"/>
<line x1="272.42" y1="59.40" x2="272.42" y2="57.60"/>
<line x1="279.25" y1="57.60" x2="279.25" y2="57.60"/>
<line x1="272.42" y1="57.60" x2="279.25" y2="57.60"/>
<line x1="267.88" y1="59.40" x2="267.88" y2="54.28"/>
<line x1="275.84" y1="57.60" x2="275.84" y2="54.28"/>
<line x1="267.88" y1="54.28" x2="275.84" y2="54.28"/>
<line x1="235.88" y1="53.65" x2="235.88" y2="51.50"/>
<line x1="271.86" y1="54.28" x2="271.86" y2="51.50"/>
<line x1="235.88" y1="51.50" x2="271.86" y2="51.50"/>
<line x1="183.09" y1="50.80" x2="183.09" y2="48.70"/>
<line x1="253.87" y1="51.50" x2="253.87" y2="48.70"/>
<line x1="183.09" y1="48.70" x2="253.87" y2="48.70"/>
<line x1="97.75" y1="46.20" x2="97.75" y2="40.30"/>
<line x1="218.48" y1="48.70" x2="218.48" y2="40.30"/>
<line x1="97.75" y1="40.30" x2="218.48" y2="40.30"/>
</g>
<text x="492.00" y="44.20" font-size="9.3" text-anchor="middle" fill="#231f20">Drug A</text>
<text x="408.30" y="109.00" font-size="9.3" text-anchor="middle" fill="#231f20" transform="rotate(-90 408.3 109)">Drug B</text>
<g shape-rendering="crispEdges">
<rect x="428.10" y="60.40" width="30.70" height="25.30" fill="#2b5aa8"/>
<rect x="458.50" y="60.40" width="28.30" height="25.30" fill="#2b5aa8"/>
<rect x="486.50" y="60.40" width="28.80" height="25.30" fill="#2d5aa8"/>
<rect x="515.00" y="60.40" width="28.80" height="25.30" fill="#6a76b8"/>
<rect x="428.10" y="85.40" width="30.70" height="25.40" fill="#2d5aa8"/>
<rect x="458.50" y="85.40" width="28.30" height="25.40" fill="#c46a6a"/>
<rect x="486.50" y="85.40" width="28.80" height="25.40" fill="#c46464"/>
<rect x="515.00" y="85.40" width="28.80" height="25.40" fill="#b03232"/>
<rect x="428.10" y="110.50" width="30.70" height="25.50" fill="#2f5aa8"/>
<rect x="458.50" y="110.50" width="28.30" height="25.50" fill="#b85050"/>
<rect x="486.50" y="110.50" width="28.80" height="25.50" fill="#be5858"/>
<rect x="515.00" y="110.50" width="28.80" height="25.50" fill="#aa2a2a"/>
<rect x="428.10" y="135.70" width="30.70" height="26.50" fill="#3a5aaa"/>
<rect x="458.50" y="135.70" width="28.30" height="26.50" fill="#c86e6e"/>
<rect x="486.50" y="135.70" width="28.80" height="26.50" fill="#b03a3a"/>
<rect x="515.00" y="135.70" width="28.80" height="26.50" fill="#9c1a1c"/>
</g>
<rect x="428.1" y="60.4" width="115.4" height="101.5" fill="none" stroke="#111" stroke-width="1"/>
<line x1="443.30" y1="57.50" x2="443.30" y2="60.40" stroke="#231f20" stroke-width="0.9"/>
<line x1="472.50" y1="57.50" x2="472.50" y2="60.40" stroke="#231f20" stroke-width="0.9"/>
<line x1="500.75" y1="57.50" x2="500.75" y2="60.40" stroke="#231f20" stroke-width="0.9"/>
<line x1="529.25" y1="57.50" x2="529.25" y2="60.40" stroke="#231f20" stroke-width="0.9"/>
<line x1="425.20" y1="72.90" x2="428.10" y2="72.90" stroke="#231f20" stroke-width="0.9"/>
<line x1="425.20" y1="97.95" x2="428.10" y2="97.95" stroke="#231f20" stroke-width="0.9"/>
<line x1="425.20" y1="123.10" x2="428.10" y2="123.10" stroke="#231f20" stroke-width="0.9"/>
<line x1="425.20" y1="148.80" x2="428.10" y2="148.80" stroke="#231f20" stroke-width="0.9"/>
<defs><linearGradient id="cbA" x1="0" x2="1" y1="0" y2="0"><stop offset="0" stop-color="#2a55a5"/><stop offset="0.2" stop-color="#5060b0"/><stop offset="0.4" stop-color="#b0b4dc"/><stop offset="0.5" stop-color="#ffffff"/><stop offset="0.62" stop-color="#e6b8b8"/><stop offset="0.8" stop-color="#c45a5a"/><stop offset="1" stop-color="#a0141c"/></linearGradient></defs>
<rect x="442" y="166.1" width="90" height="11" fill="url(#cbA)" stroke="#111" stroke-width="1"/>
<text x="443.20" y="186.60" font-size="8.6" text-anchor="middle" fill="#231f20">100</text>
<text x="460.86" y="186.60" font-size="8.6" text-anchor="middle" fill="#231f20">80</text>
<line x1="460.86" y1="166.10" x2="460.86" y2="168.30" stroke="#231f20" stroke-width="0.8"/>
<line x1="460.86" y1="174.90" x2="460.86" y2="177.10" stroke="#231f20" stroke-width="0.8"/>
<text x="478.52" y="186.60" font-size="8.6" text-anchor="middle" fill="#231f20">60</text>
<line x1="478.52" y1="166.10" x2="478.52" y2="168.30" stroke="#231f20" stroke-width="0.8"/>
<line x1="478.52" y1="174.90" x2="478.52" y2="177.10" stroke="#231f20" stroke-width="0.8"/>
<text x="496.18" y="186.60" font-size="8.6" text-anchor="middle" fill="#231f20">40</text>
<line x1="496.18" y1="166.10" x2="496.18" y2="168.30" stroke="#231f20" stroke-width="0.8"/>
<line x1="496.18" y1="174.90" x2="496.18" y2="177.10" stroke="#231f20" stroke-width="0.8"/>
<text x="513.84" y="186.60" font-size="8.6" text-anchor="middle" fill="#231f20">20</text>
<line x1="513.84" y1="166.10" x2="513.84" y2="168.30" stroke="#231f20" stroke-width="0.8"/>
<line x1="513.84" y1="174.90" x2="513.84" y2="177.10" stroke="#231f20" stroke-width="0.8"/>
<text x="531.50" y="186.60" font-size="8.6" text-anchor="middle" fill="#231f20">0</text>
<text x="492.30" y="200.50" font-size="9.3" text-anchor="middle" fill="#231f20">Cell viability (%)</text>
<line x1="568.20" y1="58.90" x2="568.20" y2="171.80" stroke="#231f20" stroke-width="1.1"/>
<line x1="567.70" y1="171.40" x2="675.00" y2="171.40" stroke="#231f20" stroke-width="1.1"/>
<line x1="565.30" y1="58.90" x2="568.20" y2="58.90" stroke="#231f20" stroke-width="1"/>
<line x1="565.30" y1="171.40" x2="568.20" y2="171.40" stroke="#231f20" stroke-width="1"/>
<line x1="621.30" y1="169.50" x2="621.30" y2="173.50" stroke="#231f20" stroke-width="1"/>
<line x1="674.60" y1="169.50" x2="674.60" y2="173.50" stroke="#231f20" stroke-width="1"/>
<text x="565.80" y="61.80" font-size="8.0" text-anchor="end" fill="#231f20">100</text>
<text x="565.80" y="174.40" font-size="8.4" text-anchor="end" fill="#231f20">0</text>
<text x="568.70" y="180.70" font-size="8.6" text-anchor="middle" fill="#231f20">0</text>
<text x="621.30" y="180.70" font-size="8.6" text-anchor="middle" fill="#231f20">1</text>
<text x="674.60" y="180.70" font-size="8.6" text-anchor="middle" fill="#231f20">10</text>
<text x="626.50" y="189.60" font-size="9.4" text-anchor="middle" fill="#231f20">Combination index</text>
<text x="563.60" y="110.00" font-size="9.4" text-anchor="middle" fill="#231f20" transform="rotate(-90 563.6 110)">Cell viability (%)</text>
<defs><linearGradient id="pillG" x1="0" x2="0" y1="0" y2="1"><stop offset="0" stop-color="#fff" stop-opacity="0.05"/><stop offset="0.25" stop-color="#fff" stop-opacity="0.28"/><stop offset="0.45" stop-color="#fff" stop-opacity="0"/><stop offset="1" stop-color="#000" stop-opacity="0.06"/></linearGradient></defs>
<path d="M660.00,59.60 H653.20 A3.90,3.90 0 0 0 653.20,67.40 H660.00 Z" fill="#5fbfb8"/>
<path d="M660.00,59.60 H666.80 A3.90,3.90 0 0 1 666.80,67.40 H660.00 Z" fill="#6b8fd2"/>
<path d="M653.20,59.60 H666.80 A3.90,3.90 0 0 1 666.80,67.40 H653.20 A3.90,3.90 0 0 1 653.20,59.60 Z" fill="url(#pillG)"/>
<path d="M660.00,69.30 H653.20 A3.90,3.90 0 0 0 653.20,77.10 H660.00 Z" fill="#d4d4d4"/>
<path d="M660.00,69.30 H666.80 A3.90,3.90 0 0 1 666.80,77.10 H660.00 Z" fill="#e2aa72"/>
<path d="M653.20,69.30 H666.80 A3.90,3.90 0 0 1 666.80,77.10 H653.20 A3.90,3.90 0 0 1 653.20,69.30 Z" fill="url(#pillG)"/>
<path d="M628.70,82.70 H621.90 A3.90,3.90 0 0 0 621.90,90.50 H628.70 Z" fill="#d4d4d4"/>
<path d="M628.70,82.70 H635.50 A3.90,3.90 0 0 1 635.50,90.50 H628.70 Z" fill="#cf5a7c"/>
<path d="M621.90,82.70 H635.50 A3.90,3.90 0 0 1 635.50,90.50 H621.90 A3.90,3.90 0 0 1 621.90,82.70 Z" fill="url(#pillG)"/>
<path d="M660.00,82.70 H653.20 A3.90,3.90 0 0 0 653.20,90.50 H660.00 Z" fill="#d4d4d4"/>
<path d="M660.00,82.70 H666.80 A3.90,3.90 0 0 1 666.80,90.50 H660.00 Z" fill="#cf5a7c"/>
<path d="M653.20,82.70 H666.80 A3.90,3.90 0 0 1 666.80,90.50 H653.20 A3.90,3.90 0 0 1 653.20,82.70 Z" fill="url(#pillG)"/>
<path d="M629.20,91.70 H622.40 A3.90,3.90 0 0 0 622.40,99.50 H629.20 Z" fill="#bd4a6a"/>
<path d="M629.20,91.70 H636.00 A3.90,3.90 0 0 1 636.00,99.50 H629.20 Z" fill="#3e6da6"/>
<path d="M622.40,91.70 H636.00 A3.90,3.90 0 0 1 636.00,99.50 H622.40 A3.90,3.90 0 0 1 622.40,91.70 Z" fill="url(#pillG)"/>
<path d="M660.00,91.70 H653.20 A3.90,3.90 0 0 0 653.20,99.50 H660.00 Z" fill="#5fbfb8"/>
<path d="M660.00,91.70 H666.80 A3.90,3.90 0 0 1 666.80,99.50 H660.00 Z" fill="#6b8fd2"/>
<path d="M653.20,91.70 H666.80 A3.90,3.90 0 0 1 666.80,99.50 H653.20 A3.90,3.90 0 0 1 653.20,91.70 Z" fill="url(#pillG)"/>
<path d="M624.00,105.70 H617.20 A3.90,3.90 0 0 0 617.20,113.50 H624.00 Z" fill="#bd4a6a"/>
<path d="M624.00,105.70 H630.80 A3.90,3.90 0 0 1 630.80,113.50 H624.00 Z" fill="#3e6da6"/>
<path d="M617.20,105.70 H630.80 A3.90,3.90 0 0 1 630.80,113.50 H617.20 A3.90,3.90 0 0 1 617.20,105.70 Z" fill="url(#pillG)"/>
<path d="M624.30,114.60 H617.50 A3.90,3.90 0 0 0 617.50,122.40 H624.30 Z" fill="#5fbfb8"/>
<path d="M624.30,114.60 H631.10 A3.90,3.90 0 0 1 631.10,122.40 H624.30 Z" fill="#6b8fd2"/>
<path d="M617.50,114.60 H631.10 A3.90,3.90 0 0 1 631.10,122.40 H617.50 A3.90,3.90 0 0 1 617.50,114.60 Z" fill="url(#pillG)"/>
<path d="M609.60,128.90 H602.80 A3.90,3.90 0 0 0 602.80,136.70 H609.60 Z" fill="#d4d4d4"/>
<path d="M609.60,128.90 H616.40 A3.90,3.90 0 0 1 616.40,136.70 H609.60 Z" fill="#e2aa72"/>
<path d="M602.80,128.90 H616.40 A3.90,3.90 0 0 1 616.40,136.70 H602.80 A3.90,3.90 0 0 1 602.80,128.90 Z" fill="url(#pillG)"/>
<path d="M609.60,137.70 H602.80 A3.90,3.90 0 0 0 602.80,145.50 H609.60 Z" fill="#bd4a6a"/>
<path d="M609.60,137.70 H616.40 A3.90,3.90 0 0 1 616.40,145.50 H609.60 Z" fill="#3e6da6"/>
<path d="M602.80,137.70 H616.40 A3.90,3.90 0 0 1 616.40,145.50 H602.80 A3.90,3.90 0 0 1 602.80,137.70 Z" fill="url(#pillG)"/>
<path d="M585.60,147.60 H578.80 A3.90,3.90 0 0 0 578.80,155.40 H585.60 Z" fill="#d4d4d4"/>
<path d="M585.60,147.60 H592.40 A3.90,3.90 0 0 1 592.40,155.40 H585.60 Z" fill="#cf5a7c"/>
<path d="M578.80,147.60 H592.40 A3.90,3.90 0 0 1 592.40,155.40 H578.80 A3.90,3.90 0 0 1 578.80,147.60 Z" fill="url(#pillG)"/>
<path d="M585.60,156.50 H578.80 A3.90,3.90 0 0 0 578.80,164.30 H585.60 Z" fill="#d4d4d4"/>
<path d="M585.60,156.50 H592.40 A3.90,3.90 0 0 1 592.40,164.30 H585.60 Z" fill="#e2aa72"/>
<path d="M578.80,156.50 H592.40 A3.90,3.90 0 0 1 592.40,164.30 H578.80 A3.90,3.90 0 0 1 578.80,156.50 Z" fill="url(#pillG)"/>
<circle cx="586.1" cy="155.8" r="14.8" fill="none" stroke="#d04040" stroke-width="0.8"/>
<text x="6.70" y="212.40" font-size="16.6" font-weight="bold" fill="#231f20">B</text>
<text x="116.20" y="236.90" font-size="8" text-anchor="end" fill="#231f20">Panobinostat (HDAC)</text>
<line x1="122.50" y1="234.00" x2="126.80" y2="234.00" stroke="#231f20" stroke-width="1"/>
<circle cx="155.20" cy="234.00" r="1.75" fill="#167f96" stroke="#101818" stroke-width="0.65"/>
<text x="113.90" y="248.30" font-size="8" text-anchor="end" fill="#231f20">Lestaurtinib (PKC)</text>
<line x1="122.50" y1="245.40" x2="126.80" y2="245.40" stroke="#231f20" stroke-width="1"/>
<circle cx="153.60" cy="245.40" r="1.75" fill="#167f96" stroke="#101818" stroke-width="0.65"/>
<text x="117.70" y="259.40" font-size="8" text-anchor="end" fill="#231f20">Neratinib (ERBB2, EGFR)</text>
<line x1="122.50" y1="256.50" x2="126.80" y2="256.50" stroke="#231f20" stroke-width="1"/>
<circle cx="153.00" cy="256.50" r="1.75" fill="#167f96" stroke="#101818" stroke-width="0.65"/>
<line x1="122.50" y1="267.60" x2="126.80" y2="267.60" stroke="#231f20" stroke-width="1"/>
<circle cx="151.80" cy="267.60" r="1.75" fill="#167f96" stroke="#101818" stroke-width="0.65"/>
<text x="119.20" y="281.60" font-size="8" text-anchor="end" fill="#231f20">BRD-K10899576 (MEK5-K2)</text>
<line x1="122.50" y1="278.70" x2="126.80" y2="278.70" stroke="#231f20" stroke-width="1"/>
<circle cx="149.90" cy="278.70" r="1.75" fill="#167f96" stroke="#101818" stroke-width="0.65"/>
<text x="120.00" y="292.80" font-size="8" text-anchor="end" fill="#231f20">SA-25547 (?)</text>
<line x1="122.50" y1="289.90" x2="126.80" y2="289.90" stroke="#231f20" stroke-width="1"/>
<circle cx="149.20" cy="289.90" r="1.75" fill="#167f96" stroke="#101818" stroke-width="0.65"/>
<text x="120.00" y="303.90" font-size="8" text-anchor="end" fill="#231f20">PD-198306 (MEK1/2)</text>
<line x1="122.50" y1="301.00" x2="126.80" y2="301.00" stroke="#231f20" stroke-width="1"/>
<circle cx="139.00" cy="301.00" r="1.75" fill="#167f96" stroke="#101818" stroke-width="0.65"/>
<text x="117.50" y="314.90" font-size="8" text-anchor="end" fill="#231f20">Pimasertib (MEK1/2)</text>
<line x1="122.50" y1="312.00" x2="126.80" y2="312.00" stroke="#231f20" stroke-width="1"/>
<circle cx="138.90" cy="312.00" r="1.75" fill="#167f96" stroke="#101818" stroke-width="0.65"/>
<text x="119.20" y="326.30" font-size="8" text-anchor="end" fill="#231f20">AZ-628 (CRAF, BRAF-V600E)</text>
<line x1="122.50" y1="323.40" x2="126.80" y2="323.40" stroke="#231f20" stroke-width="1"/>
<circle cx="136.60" cy="323.40" r="1.75" fill="#167f96" stroke="#101818" stroke-width="0.65"/>
<text x="120.00" y="337.30" font-size="8" text-anchor="end" fill="#231f20">U0126 (MEK1/2)</text>
<line x1="122.50" y1="334.40" x2="126.80" y2="334.40" stroke="#231f20" stroke-width="1"/>
<circle cx="135.60" cy="334.40" r="1.75" fill="#167f96" stroke="#101818" stroke-width="0.65"/>
<text x="117.50" y="348.40" font-size="8" text-anchor="end" fill="#231f20">Dabrafenib (BRAF, CRAF)</text>
<line x1="122.50" y1="345.50" x2="126.80" y2="345.50" stroke="#231f20" stroke-width="1"/>
<circle cx="135.30" cy="345.50" r="1.75" fill="#167f96" stroke="#101818" stroke-width="0.65"/>
<text x="116.70" y="267.40" font-size="8" text-anchor="end" fill="#231f20">BRD-K10846167</text>
<text x="120.00" y="273.40" font-size="8" text-anchor="end" fill="#231f20">(WEE1, NRF2F2, FLT3, CK1d)</text>
<path d="M126.8,226.5 H212.1 V352.8 H126.8 Z" fill="none" stroke="#231f20" stroke-width="1.1"/>
<line x1="136.40" y1="352.80" x2="136.40" y2="356.30" stroke="#231f20" stroke-width="1"/>
<text x="134.40" y="364.40" font-size="8.7" text-anchor="middle" fill="#231f20">-0.4</text>
<line x1="155.25" y1="352.80" x2="155.25" y2="356.30" stroke="#231f20" stroke-width="1"/>
<text x="153.25" y="364.40" font-size="8.7" text-anchor="middle" fill="#231f20">-0.3</text>
<line x1="174.10" y1="352.80" x2="174.10" y2="356.30" stroke="#231f20" stroke-width="1"/>
<text x="172.10" y="364.40" font-size="8.7" text-anchor="middle" fill="#231f20">-0.2</text>
<line x1="192.95" y1="352.80" x2="192.95" y2="356.30" stroke="#231f20" stroke-width="1"/>
<text x="190.95" y="364.40" font-size="8.7" text-anchor="middle" fill="#231f20">-0.1</text>
<line x1="211.80" y1="352.80" x2="211.80" y2="356.30" stroke="#231f20" stroke-width="1"/>
<text x="210.40" y="364.40" font-size="8.7" text-anchor="middle" fill="#231f20">0.0</text>
<text x="171.80" y="375.30" font-size="9.0" text-anchor="middle" fill="#231f20">Repurposing score</text>
<text x="217.00" y="212.30" font-size="16.6" font-weight="bold" fill="#231f20">C</text>
<text x="349.80" y="217.20" font-size="12" font-weight="bold" text-anchor="middle" fill="#231f20">H1792</text>
<text x="586.50" y="217.20" font-size="12" font-weight="bold" text-anchor="middle" fill="#231f20">H2009</text>
<path d="M253.3,227.3 H446.5 V354.6 H253.3 Z" fill="none" stroke="#666" stroke-width="0.9"/>
<line x1="253.30" y1="226.80" x2="253.30" y2="355.10" stroke="#231f20" stroke-width="1.1"/>
<line x1="252.80" y1="354.60" x2="446.50" y2="354.60" stroke="#666" stroke-width="1.1"/>
<line x1="249.70" y1="354.60" x2="253.30" y2="354.60" stroke="#231f20" stroke-width="1"/>
<text x="248.30" y="357.90" font-size="9.8" text-anchor="end" fill="#231f20">10<tspan dx="0.5" dy="-3.2" font-size="5.8">-3</tspan></text>
<line x1="251.30" y1="349.13" x2="253.30" y2="349.13" stroke="#555" stroke-width="0.5"/>
<line x1="251.30" y1="345.92" x2="253.30" y2="345.92" stroke="#555" stroke-width="0.5"/>
<line x1="251.30" y1="343.65" x2="253.30" y2="343.65" stroke="#555" stroke-width="0.5"/>
<line x1="251.30" y1="341.89" x2="253.30" y2="341.89" stroke="#555" stroke-width="0.5"/>
<line x1="251.30" y1="340.45" x2="253.30" y2="340.45" stroke="#555" stroke-width="0.5"/>
<line x1="251.30" y1="339.23" x2="253.30" y2="339.23" stroke="#555" stroke-width="0.5"/>
<line x1="251.30" y1="338.18" x2="253.30" y2="338.18" stroke="#555" stroke-width="0.5"/>
<line x1="251.30" y1="337.25" x2="253.30" y2="337.25" stroke="#555" stroke-width="0.5"/>
<line x1="249.70" y1="336.41" x2="253.30" y2="336.41" stroke="#231f20" stroke-width="1"/>
<text x="248.30" y="339.71" font-size="9.8" text-anchor="end" fill="#231f20">10<tspan dx="0.5" dy="-3.2" font-size="5.8">-2</tspan></text>
<line x1="251.30" y1="330.94" x2="253.30" y2="330.94" stroke="#555" stroke-width="0.5"/>
<line x1="251.30" y1="327.74" x2="253.30" y2="327.74" stroke="#555" stroke-width="0.5"/>
<line x1="251.30" y1="325.47" x2="253.30" y2="325.47" stroke="#555" stroke-width="0.5"/>
<line x1="251.30" y1="323.70" x2="253.30" y2="323.70" stroke="#555" stroke-width="0.5"/>
<line x1="251.30" y1="322.26" x2="253.30" y2="322.26" stroke="#555" stroke-width="0.5"/>
<line x1="251.30" y1="321.05" x2="253.30" y2="321.05" stroke="#555" stroke-width="0.5"/>
<line x1="251.30" y1="319.99" x2="253.30" y2="319.99" stroke="#555" stroke-width="0.5"/>
<line x1="251.30" y1="319.06" x2="253.30" y2="319.06" stroke="#555" stroke-width="0.5"/>
<line x1="249.70" y1="318.23" x2="253.30" y2="318.23" stroke="#231f20" stroke-width="1"/>
<text x="248.30" y="321.53" font-size="9.8" text-anchor="end" fill="#231f20">10<tspan dx="0.5" dy="-3.2" font-size="5.8">-1</tspan></text>
<line x1="251.30" y1="312.75" x2="253.30" y2="312.75" stroke="#555" stroke-width="0.5"/>
<line x1="251.30" y1="309.55" x2="253.30" y2="309.55" stroke="#555" stroke-width="0.5"/>
<line x1="251.30" y1="307.28" x2="253.30" y2="307.28" stroke="#555" stroke-width="0.5"/>
<line x1="251.30" y1="305.52" x2="253.30" y2="305.52" stroke="#555" stroke-width="0.5"/>
<line x1="251.30" y1="304.08" x2="253.30" y2="304.08" stroke="#555" stroke-width="0.5"/>
<line x1="251.30" y1="302.86" x2="253.30" y2="302.86" stroke="#555" stroke-width="0.5"/>
<line x1="251.30" y1="301.81" x2="253.30" y2="301.81" stroke="#555" stroke-width="0.5"/>
<line x1="251.30" y1="300.87" x2="253.30" y2="300.87" stroke="#555" stroke-width="0.5"/>
<line x1="249.70" y1="300.04" x2="253.30" y2="300.04" stroke="#231f20" stroke-width="1"/>
<text x="248.30" y="303.34" font-size="9.8" text-anchor="end" fill="#231f20">10<tspan dx="0.5" dy="-3.2" font-size="5.8">0</tspan></text>
<line x1="251.30" y1="294.57" x2="253.30" y2="294.57" stroke="#555" stroke-width="0.5"/>
<line x1="251.30" y1="291.37" x2="253.30" y2="291.37" stroke="#555" stroke-width="0.5"/>
<line x1="251.30" y1="289.09" x2="253.30" y2="289.09" stroke="#555" stroke-width="0.5"/>
<line x1="251.30" y1="287.33" x2="253.30" y2="287.33" stroke="#555" stroke-width="0.5"/>
<line x1="251.30" y1="285.89" x2="253.30" y2="285.89" stroke="#555" stroke-width="0.5"/>
<line x1="251.30" y1="284.67" x2="253.30" y2="284.67" stroke="#555" stroke-width="0.5"/>
<line x1="251.30" y1="283.62" x2="253.30" y2="283.62" stroke="#555" stroke-width="0.5"/>
<line x1="251.30" y1="282.69" x2="253.30" y2="282.69" stroke="#555" stroke-width="0.5"/>
<line x1="249.70" y1="281.86" x2="253.30" y2="281.86" stroke="#231f20" stroke-width="1"/>
<text x="248.30" y="285.16" font-size="9.8" text-anchor="end" fill="#231f20">10<tspan dx="0.5" dy="-3.2" font-size="5.8">1</tspan></text>
<line x1="251.30" y1="276.38" x2="253.30" y2="276.38" stroke="#555" stroke-width="0.5"/>
<line x1="251.30" y1="273.18" x2="253.30" y2="273.18" stroke="#555" stroke-width="0.5"/>
<line x1="251.30" y1="270.91" x2="253.30" y2="270.91" stroke="#555" stroke-width="0.5"/>
<line x1="251.30" y1="269.15" x2="253.30" y2="269.15" stroke="#555" stroke-width="0.5"/>
<line x1="251.30" y1="267.71" x2="253.30" y2="267.71" stroke="#555" stroke-width="0.5"/>
<line x1="251.30" y1="266.49" x2="253.30" y2="266.49" stroke="#555" stroke-width="0.5"/>
<line x1="251.30" y1="265.43" x2="253.30" y2="265.43" stroke="#555" stroke-width="0.5"/>
<line x1="251.30" y1="264.50" x2="253.30" y2="264.50" stroke="#555" stroke-width="0.5"/>
<line x1="249.70" y1="263.67" x2="253.30" y2="263.67" stroke="#231f20" stroke-width="1"/>
<text x="248.30" y="266.97" font-size="9.8" text-anchor="end" fill="#231f20">10<tspan dx="0.5" dy="-3.2" font-size="5.8">2</tspan></text>
<line x1="251.30" y1="258.20" x2="253.30" y2="258.20" stroke="#555" stroke-width="0.5"/>
<line x1="251.30" y1="254.99" x2="253.30" y2="254.99" stroke="#555" stroke-width="0.5"/>
<line x1="251.30" y1="252.72" x2="253.30" y2="252.72" stroke="#555" stroke-width="0.5"/>
<line x1="251.30" y1="250.96" x2="253.30" y2="250.96" stroke="#555" stroke-width="0.5"/>
<line x1="251.30" y1="249.52" x2="253.30" y2="249.52" stroke="#555" stroke-width="0.5"/>
<line x1="251.30" y1="248.30" x2="253.30" y2="248.30" stroke="#555" stroke-width="0.5"/>
<line x1="251.30" y1="247.25" x2="253.30" y2="247.25" stroke="#555" stroke-width="0.5"/>
<line x1="251.30" y1="246.32" x2="253.30" y2="246.32" stroke="#555" stroke-width="0.5"/>
<line x1="249.70" y1="245.49" x2="253.30" y2="245.49" stroke="#231f20" stroke-width="1"/>
<text x="248.30" y="248.79" font-size="9.8" text-anchor="end" fill="#231f20">10<tspan dx="0.5" dy="-3.2" font-size="5.8">3</tspan></text>
<line x1="251.30" y1="240.01" x2="253.30" y2="240.01" stroke="#555" stroke-width="0.5"/>
<line x1="251.30" y1="236.81" x2="253.30" y2="236.81" stroke="#555" stroke-width="0.5"/>
<line x1="251.30" y1="234.54" x2="253.30" y2="234.54" stroke="#555" stroke-width="0.5"/>
<line x1="251.30" y1="232.77" x2="253.30" y2="232.77" stroke="#555" stroke-width="0.5"/>
<line x1="251.30" y1="231.33" x2="253.30" y2="231.33" stroke="#555" stroke-width="0.5"/>
<line x1="251.30" y1="230.12" x2="253.30" y2="230.12" stroke="#555" stroke-width="0.5"/>
<line x1="251.30" y1="229.06" x2="253.30" y2="229.06" stroke="#555" stroke-width="0.5"/>
<line x1="251.30" y1="228.13" x2="253.30" y2="228.13" stroke="#555" stroke-width="0.5"/>
<line x1="249.70" y1="227.30" x2="253.30" y2="227.30" stroke="#231f20" stroke-width="1"/>
<text x="248.30" y="230.60" font-size="9.8" text-anchor="end" fill="#231f20">10<tspan dx="0.5" dy="-3.2" font-size="5.8">4</tspan></text>
<line x1="258.40" y1="354.60" x2="258.40" y2="358.80" stroke="#231f20" stroke-width="0.9"/>
<text x="259.80" y="368.00" font-size="9.8" text-anchor="end" fill="#231f20" transform="rotate(-45 259.79999999999995 368.0)">Bix vs Lest</text>
<line x1="269.73" y1="354.60" x2="269.73" y2="358.80" stroke="#231f20" stroke-width="0.9"/>
<text x="271.13" y="368.00" font-size="9.8" text-anchor="end" fill="#231f20" transform="rotate(-45 271.12999999999994 368.0)">Bix vs Nera</text>
<line x1="281.06" y1="354.60" x2="281.06" y2="358.80" stroke="#231f20" stroke-width="0.9"/>
<text x="282.46" y="368.00" font-size="9.8" text-anchor="end" fill="#231f20" transform="rotate(-45 282.46 368.0)">Bix vs Pano</text>
<line x1="292.39" y1="354.60" x2="292.39" y2="358.80" stroke="#231f20" stroke-width="0.9"/>
<text x="293.79" y="368.00" font-size="9.8" text-anchor="end" fill="#231f20" transform="rotate(-45 293.78999999999996 368.0)">Nera vs Lest</text>
<line x1="303.72" y1="354.60" x2="303.72" y2="358.80" stroke="#231f20" stroke-width="0.9"/>
<text x="305.12" y="368.00" font-size="9.8" text-anchor="end" fill="#231f20" transform="rotate(-45 305.11999999999995 368.0)">Pano vs Lest</text>
<line x1="315.05" y1="354.60" x2="315.05" y2="358.80" stroke="#231f20" stroke-width="0.9"/>
<text x="316.45" y="368.00" font-size="9.8" text-anchor="end" fill="#231f20" transform="rotate(-45 316.44999999999993 368.0)">Pano vs Nera</text>
<line x1="326.38" y1="354.60" x2="326.38" y2="358.80" stroke="#231f20" stroke-width="0.9"/>
<text x="327.78" y="368.00" font-size="9.8" text-anchor="end" fill="#231f20" transform="rotate(-45 327.78 368.0)">Tram vs Lest</text>
<line x1="337.71" y1="354.60" x2="337.71" y2="358.80" stroke="#231f20" stroke-width="0.9"/>
<text x="339.11" y="368.00" font-size="9.8" text-anchor="end" fill="#231f20" transform="rotate(-45 339.10999999999996 368.0)">Tram vs Bix</text>
<line x1="349.04" y1="354.60" x2="349.04" y2="358.80" stroke="#231f20" stroke-width="0.9"/>
<text x="350.44" y="368.00" font-size="9.8" text-anchor="end" fill="#231f20" transform="rotate(-45 350.43999999999994 368.0)">Tram vs Nera</text>
<line x1="360.37" y1="354.60" x2="360.37" y2="358.80" stroke="#231f20" stroke-width="0.9"/>
<text x="361.77" y="368.00" font-size="9.8" text-anchor="end" fill="#231f20" transform="rotate(-45 361.77 368.0)">Tram vs Pano</text>
<line x1="371.70" y1="354.60" x2="371.70" y2="358.80" stroke="#231f20" stroke-width="0.9"/>
<text x="373.10" y="368.00" font-size="9.8" text-anchor="end" fill="#231f20" transform="rotate(-45 373.09999999999997 368.0)">Tram vs Adavo</text>
<line x1="383.03" y1="354.60" x2="383.03" y2="358.80" stroke="#231f20" stroke-width="0.9"/>
<text x="384.43" y="368.00" font-size="9.8" text-anchor="end" fill="#231f20" transform="rotate(-45 384.42999999999995 368.0)">Adavo vs Lest</text>
<line x1="394.36" y1="354.60" x2="394.36" y2="358.80" stroke="#231f20" stroke-width="0.9"/>
<text x="395.76" y="368.00" font-size="9.8" text-anchor="end" fill="#231f20" transform="rotate(-45 395.76 368.0)">Adavo vs Bix</text>
<line x1="405.69" y1="354.60" x2="405.69" y2="358.80" stroke="#231f20" stroke-width="0.9"/>
<text x="407.09" y="368.00" font-size="9.8" text-anchor="end" fill="#231f20" transform="rotate(-45 407.0899999999999 368.0)">Adavo vs Nera</text>
<line x1="417.02" y1="354.60" x2="417.02" y2="358.80" stroke="#231f20" stroke-width="0.9"/>
<text x="418.42" y="368.00" font-size="9.8" text-anchor="end" fill="#231f20" transform="rotate(-45 418.41999999999996 368.0)">Dabra vs Lest</text>
<line x1="428.35" y1="354.60" x2="428.35" y2="358.80" stroke="#231f20" stroke-width="0.9"/>
<text x="429.75" y="368.00" font-size="9.8" text-anchor="end" fill="#231f20" transform="rotate(-45 429.74999999999994 368.0)">Dabra vs Pano</text>
<line x1="439.68" y1="354.60" x2="439.68" y2="358.80" stroke="#231f20" stroke-width="0.9"/>
<text x="441.08" y="368.00" font-size="9.8" text-anchor="end" fill="#231f20" transform="rotate(-45 441.0799999999999 368.0)">Dabra vs Adavo</text>
<line x1="253.30" y1="305.52" x2="446.50" y2="305.52" stroke="#231f20" stroke-width="0.9" stroke-dasharray="3.2,2.2"/>
<text x="231.10" y="291.40" font-size="11" text-anchor="middle" fill="#231f20" transform="rotate(-90 231.1 291.4)">CI</text>
<path d="M489.6,226.9 H683.4 V354.6 H489.6 Z" fill="none" stroke="#666" stroke-width="0.9"/>
<line x1="489.60" y1="226.40" x2="489.60" y2="355.10" stroke="#231f20" stroke-width="1.1"/>
<line x1="489.10" y1="354.60" x2="683.40" y2="354.60" stroke="#666" stroke-width="1.1"/>
<line x1="486.00" y1="354.60" x2="489.60" y2="354.60" stroke="#231f20" stroke-width="1"/>
<text x="484.60" y="357.90" font-size="9.8" text-anchor="end" fill="#231f20">10<tspan dx="0.5" dy="-3.2" font-size="5.8">-3</tspan></text>
<line x1="487.60" y1="350.33" x2="489.60" y2="350.33" stroke="#555" stroke-width="0.5"/>
<line x1="487.60" y1="347.83" x2="489.60" y2="347.83" stroke="#555" stroke-width="0.5"/>
<line x1="487.60" y1="346.06" x2="489.60" y2="346.06" stroke="#555" stroke-width="0.5"/>
<line x1="487.60" y1="344.68" x2="489.60" y2="344.68" stroke="#555" stroke-width="0.5"/>
<line x1="487.60" y1="343.56" x2="489.60" y2="343.56" stroke="#555" stroke-width="0.5"/>
<line x1="487.60" y1="342.61" x2="489.60" y2="342.61" stroke="#555" stroke-width="0.5"/>
<line x1="487.60" y1="341.79" x2="489.60" y2="341.79" stroke="#555" stroke-width="0.5"/>
<line x1="487.60" y1="341.06" x2="489.60" y2="341.06" stroke="#555" stroke-width="0.5"/>
<line x1="486.00" y1="340.41" x2="489.60" y2="340.41" stroke="#231f20" stroke-width="1"/>
<text x="484.60" y="343.71" font-size="9.8" text-anchor="end" fill="#231f20">10<tspan dx="0.5" dy="-3.2" font-size="5.8">-2</tspan></text>
<line x1="487.60" y1="336.14" x2="489.60" y2="336.14" stroke="#555" stroke-width="0.5"/>
<line x1="487.60" y1="333.64" x2="489.60" y2="333.64" stroke="#555" stroke-width="0.5"/>
<line x1="487.60" y1="331.87" x2="489.60" y2="331.87" stroke="#555" stroke-width="0.5"/>
<line x1="487.60" y1="330.49" x2="489.60" y2="330.49" stroke="#555" stroke-width="0.5"/>
<line x1="487.60" y1="329.37" x2="489.60" y2="329.37" stroke="#555" stroke-width="0.5"/>
<line x1="487.60" y1="328.42" x2="489.60" y2="328.42" stroke="#555" stroke-width="0.5"/>
<line x1="487.60" y1="327.60" x2="489.60" y2="327.60" stroke="#555" stroke-width="0.5"/>
<line x1="487.60" y1="326.87" x2="489.60" y2="326.87" stroke="#555" stroke-width="0.5"/>
<line x1="486.00" y1="326.22" x2="489.60" y2="326.22" stroke="#231f20" stroke-width="1"/>
<text x="484.60" y="329.52" font-size="9.8" text-anchor="end" fill="#231f20">10<tspan dx="0.5" dy="-3.2" font-size="5.8">-1</tspan></text>
<line x1="487.60" y1="321.95" x2="489.60" y2="321.95" stroke="#555" stroke-width="0.5"/>
<line x1="487.60" y1="319.45" x2="489.60" y2="319.45" stroke="#555" stroke-width="0.5"/>
<line x1="487.60" y1="317.68" x2="489.60" y2="317.68" stroke="#555" stroke-width="0.5"/>
<line x1="487.60" y1="316.30" x2="489.60" y2="316.30" stroke="#555" stroke-width="0.5"/>
<line x1="487.60" y1="315.18" x2="489.60" y2="315.18" stroke="#555" stroke-width="0.5"/>
<line x1="487.60" y1="314.23" x2="489.60" y2="314.23" stroke="#555" stroke-width="0.5"/>
<line x1="487.60" y1="313.41" x2="489.60" y2="313.41" stroke="#555" stroke-width="0.5"/>
<line x1="487.60" y1="312.68" x2="489.60" y2="312.68" stroke="#555" stroke-width="0.5"/>
<line x1="486.00" y1="312.03" x2="489.60" y2="312.03" stroke="#231f20" stroke-width="1"/>
<text x="484.60" y="315.33" font-size="9.8" text-anchor="end" fill="#231f20">10<tspan dx="0.5" dy="-3.2" font-size="5.8">0</tspan></text>
<line x1="487.60" y1="307.76" x2="489.60" y2="307.76" stroke="#555" stroke-width="0.5"/>
<line x1="487.60" y1="305.26" x2="489.60" y2="305.26" stroke="#555" stroke-width="0.5"/>
<line x1="487.60" y1="303.49" x2="489.60" y2="303.49" stroke="#555" stroke-width="0.5"/>
<line x1="487.60" y1="302.12" x2="489.60" y2="302.12" stroke="#555" stroke-width="0.5"/>
<line x1="487.60" y1="300.99" x2="489.60" y2="300.99" stroke="#555" stroke-width="0.5"/>
<line x1="487.60" y1="300.04" x2="489.60" y2="300.04" stroke="#555" stroke-width="0.5"/>
<line x1="487.60" y1="299.22" x2="489.60" y2="299.22" stroke="#555" stroke-width="0.5"/>
<line x1="487.60" y1="298.49" x2="489.60" y2="298.49" stroke="#555" stroke-width="0.5"/>
<line x1="486.00" y1="297.84" x2="489.60" y2="297.84" stroke="#231f20" stroke-width="1"/>
<text x="484.60" y="301.14" font-size="9.8" text-anchor="end" fill="#231f20">10<tspan dx="0.5" dy="-3.2" font-size="5.8">1</tspan></text>
<line x1="487.60" y1="293.57" x2="489.60" y2="293.57" stroke="#555" stroke-width="0.5"/>
<line x1="487.60" y1="291.07" x2="489.60" y2="291.07" stroke="#555" stroke-width="0.5"/>
<line x1="487.60" y1="289.30" x2="489.60" y2="289.30" stroke="#555" stroke-width="0.5"/>
<line x1="487.60" y1="287.93" x2="489.60" y2="287.93" stroke="#555" stroke-width="0.5"/>
<line x1="487.60" y1="286.80" x2="489.60" y2="286.80" stroke="#555" stroke-width="0.5"/>
<line x1="487.60" y1="285.85" x2="489.60" y2="285.85" stroke="#555" stroke-width="0.5"/>
<line x1="487.60" y1="285.03" x2="489.60" y2="285.03" stroke="#555" stroke-width="0.5"/>
<line x1="487.60" y1="284.30" x2="489.60" y2="284.30" stroke="#555" stroke-width="0.5"/>
<line x1="486.00" y1="283.66" x2="489.60" y2="283.66" stroke="#231f20" stroke-width="1"/>
<text x="484.60" y="286.96" font-size="9.8" text-anchor="end" fill="#231f20">10<tspan dx="0.5" dy="-3.2" font-size="5.8">2</tspan></text>
<line x1="487.60" y1="279.38" x2="489.60" y2="279.38" stroke="#555" stroke-width="0.5"/>
<line x1="487.60" y1="276.89" x2="489.60" y2="276.89" stroke="#555" stroke-width="0.5"/>
<line x1="487.60" y1="275.11" x2="489.60" y2="275.11" stroke="#555" stroke-width="0.5"/>
<line x1="487.60" y1="273.74" x2="489.60" y2="273.74" stroke="#555" stroke-width="0.5"/>
<line x1="487.60" y1="272.61" x2="489.60" y2="272.61" stroke="#555" stroke-width="0.5"/>
<line x1="487.60" y1="271.66" x2="489.60" y2="271.66" stroke="#555" stroke-width="0.5"/>
<line x1="487.60" y1="270.84" x2="489.60" y2="270.84" stroke="#555" stroke-width="0.5"/>
<line x1="487.60" y1="270.12" x2="489.60" y2="270.12" stroke="#555" stroke-width="0.5"/>
<line x1="486.00" y1="269.47" x2="489.60" y2="269.47" stroke="#231f20" stroke-width="1"/>
<text x="484.60" y="272.77" font-size="9.8" text-anchor="end" fill="#231f20">10<tspan dx="0.5" dy="-3.2" font-size="5.8">3</tspan></text>
<line x1="487.60" y1="265.20" x2="489.60" y2="265.20" stroke="#555" stroke-width="0.5"/>
<line x1="487.60" y1="262.70" x2="489.60" y2="262.70" stroke="#555" stroke-width="0.5"/>
<line x1="487.60" y1="260.92" x2="489.60" y2="260.92" stroke="#555" stroke-width="0.5"/>
<line x1="487.60" y1="259.55" x2="489.60" y2="259.55" stroke="#555" stroke-width="0.5"/>
<line x1="487.60" y1="258.43" x2="489.60" y2="258.43" stroke="#555" stroke-width="0.5"/>
<line x1="487.60" y1="257.48" x2="489.60" y2="257.48" stroke="#555" stroke-width="0.5"/>
<line x1="487.60" y1="256.65" x2="489.60" y2="256.65" stroke="#555" stroke-width="0.5"/>
<line x1="487.60" y1="255.93" x2="489.60" y2="255.93" stroke="#555" stroke-width="0.5"/>
<line x1="486.00" y1="255.28" x2="489.60" y2="255.28" stroke="#231f20" stroke-width="1"/>
<text x="484.60" y="258.58" font-size="9.8" text-anchor="end" fill="#231f20">10<tspan dx="0.5" dy="-3.2" font-size="5.8">4</tspan></text>
<line x1="487.60" y1="251.01" x2="489.60" y2="251.01" stroke="#555" stroke-width="0.5"/>
<line x1="487.60" y1="248.51" x2="489.60" y2="248.51" stroke="#555" stroke-width="0.5"/>
<line x1="487.60" y1="246.74" x2="489.60" y2="246.74" stroke="#555" stroke-width="0.5"/>
<line x1="487.60" y1="245.36" x2="489.60" y2="245.36" stroke="#555" stroke-width="0.5"/>
<line x1="487.60" y1="244.24" x2="489.60" y2="244.24" stroke="#555" stroke-width="0.5"/>
<line x1="487.60" y1="243.29" x2="489.60" y2="243.29" stroke="#555" stroke-width="0.5"/>
<line x1="487.60" y1="242.46" x2="489.60" y2="242.46" stroke="#555" stroke-width="0.5"/>
<line x1="487.60" y1="241.74" x2="489.60" y2="241.74" stroke="#555" stroke-width="0.5"/>
<line x1="486.00" y1="241.09" x2="489.60" y2="241.09" stroke="#231f20" stroke-width="1"/>
<text x="484.60" y="244.39" font-size="9.8" text-anchor="end" fill="#231f20">10<tspan dx="0.5" dy="-3.2" font-size="5.8">5</tspan></text>
<line x1="487.60" y1="236.82" x2="489.60" y2="236.82" stroke="#555" stroke-width="0.5"/>
<line x1="487.60" y1="234.32" x2="489.60" y2="234.32" stroke="#555" stroke-width="0.5"/>
<line x1="487.60" y1="232.55" x2="489.60" y2="232.55" stroke="#555" stroke-width="0.5"/>
<line x1="487.60" y1="231.17" x2="489.60" y2="231.17" stroke="#555" stroke-width="0.5"/>
<line x1="487.60" y1="230.05" x2="489.60" y2="230.05" stroke="#555" stroke-width="0.5"/>
<line x1="487.60" y1="229.10" x2="489.60" y2="229.10" stroke="#555" stroke-width="0.5"/>
<line x1="487.60" y1="228.28" x2="489.60" y2="228.28" stroke="#555" stroke-width="0.5"/>
<line x1="487.60" y1="227.55" x2="489.60" y2="227.55" stroke="#555" stroke-width="0.5"/>
<line x1="486.00" y1="226.90" x2="489.60" y2="226.90" stroke="#231f20" stroke-width="1"/>
<text x="484.60" y="230.20" font-size="9.8" text-anchor="end" fill="#231f20">10<tspan dx="0.5" dy="-3.2" font-size="5.8">6</tspan></text>
<line x1="495.40" y1="354.60" x2="495.40" y2="358.80" stroke="#231f20" stroke-width="0.9"/>
<text x="496.80" y="368.00" font-size="9.8" text-anchor="end" fill="#231f20" transform="rotate(-45 496.79999999999995 368.0)">Bix vs Lest</text>
<line x1="506.71" y1="354.60" x2="506.71" y2="358.80" stroke="#231f20" stroke-width="0.9"/>
<text x="508.11" y="368.00" font-size="9.8" text-anchor="end" fill="#231f20" transform="rotate(-45 508.10999999999996 368.0)">Bix vs Nera</text>
<line x1="518.02" y1="354.60" x2="518.02" y2="358.80" stroke="#231f20" stroke-width="0.9"/>
<text x="519.42" y="368.00" font-size="9.8" text-anchor="end" fill="#231f20" transform="rotate(-45 519.42 368.0)">Bix vs Pano</text>
<line x1="529.33" y1="354.60" x2="529.33" y2="358.80" stroke="#231f20" stroke-width="0.9"/>
<text x="530.73" y="368.00" font-size="9.8" text-anchor="end" fill="#231f20" transform="rotate(-45 530.7299999999999 368.0)">Nera vs Lest</text>
<line x1="540.64" y1="354.60" x2="540.64" y2="358.80" stroke="#231f20" stroke-width="0.9"/>
<text x="542.04" y="368.00" font-size="9.8" text-anchor="end" fill="#231f20" transform="rotate(-45 542.04 368.0)">Pano vs Lest</text>
<line x1="551.95" y1="354.60" x2="551.95" y2="358.80" stroke="#231f20" stroke-width="0.9"/>
<text x="553.35" y="368.00" font-size="9.8" text-anchor="end" fill="#231f20" transform="rotate(-45 553.3499999999999 368.0)">Pano vs Nera</text>
<line x1="563.26" y1="354.60" x2="563.26" y2="358.80" stroke="#231f20" stroke-width="0.9"/>
<text x="564.66" y="368.00" font-size="9.8" text-anchor="end" fill="#231f20" transform="rotate(-45 564.66 368.0)">Tram vs Lest</text>
<line x1="574.57" y1="354.60" x2="574.57" y2="358.80" stroke="#231f20" stroke-width="0.9"/>
<text x="575.97" y="368.00" font-size="9.8" text-anchor="end" fill="#231f20" transform="rotate(-45 575.9699999999999 368.0)">Tram vs Bix</text>
<line x1="585.88" y1="354.60" x2="585.88" y2="358.80" stroke="#231f20" stroke-width="0.9"/>
<text x="587.28" y="368.00" font-size="9.8" text-anchor="end" fill="#231f20" transform="rotate(-45 587.28 368.0)">Tram vs Nera</text>
<line x1="597.19" y1="354.60" x2="597.19" y2="358.80" stroke="#231f20" stroke-width="0.9"/>
<text x="598.59" y="368.00" font-size="9.8" text-anchor="end" fill="#231f20" transform="rotate(-45 598.5899999999999 368.0)">Tram vs Pano</text>
<line x1="608.50" y1="354.60" x2="608.50" y2="358.80" stroke="#231f20" stroke-width="0.9"/>
<text x="609.90" y="368.00" font-size="9.8" text-anchor="end" fill="#231f20" transform="rotate(-45 609.9 368.0)">Tram vs Adavo</text>
<line x1="619.81" y1="354.60" x2="619.81" y2="358.80" stroke="#231f20" stroke-width="0.9"/>
<text x="621.21" y="368.00" font-size="9.8" text-anchor="end" fill="#231f20" transform="rotate(-45 621.2099999999999 368.0)">Adavo vs Lest</text>
<line x1="631.12" y1="354.60" x2="631.12" y2="358.80" stroke="#231f20" stroke-width="0.9"/>
<text x="632.52" y="368.00" font-size="9.8" text-anchor="end" fill="#231f20" transform="rotate(-45 632.52 368.0)">Adavo vs Bix</text>
<line x1="642.43" y1="354.60" x2="642.43" y2="358.80" stroke="#231f20" stroke-width="0.9"/>
<text x="643.83" y="368.00" font-size="9.8" text-anchor="end" fill="#231f20" transform="rotate(-45 643.8299999999999 368.0)">Adavo vs Nera</text>
<line x1="653.74" y1="354.60" x2="653.74" y2="358.80" stroke="#231f20" stroke-width="0.9"/>
<text x="655.14" y="368.00" font-size="9.8" text-anchor="end" fill="#231f20" transform="rotate(-45 655.14 368.0)">Dabra vs Lest</text>
<line x1="665.05" y1="354.60" x2="665.05" y2="358.80" stroke="#231f20" stroke-width="0.9"/>
<text x="666.45" y="368.00" font-size="9.8" text-anchor="end" fill="#231f20" transform="rotate(-45 666.4499999999999 368.0)">Dabra vs Pano</text>
<line x1="676.36" y1="354.60" x2="676.36" y2="358.80" stroke="#231f20" stroke-width="0.9"/>
<text x="677.76" y="368.00" font-size="9.8" text-anchor="end" fill="#231f20" transform="rotate(-45 677.76 368.0)">Dabra vs Adavo</text>
<line x1="489.60" y1="316.30" x2="683.40" y2="316.30" stroke="#231f20" stroke-width="0.9" stroke-dasharray="3.2,2.2"/>
<text x="467.30" y="291.40" font-size="11" text-anchor="middle" fill="#231f20" transform="rotate(-90 467.3 291.4)">CI</text>
<circle cx="255.40" cy="302.50" r="1.4" fill="#157a90" stroke="#0d1a1e" stroke-width="0.6"/>
<circle cx="256.90" cy="301.80" r="1.4" fill="#157a90" stroke="#0d1a1e" stroke-width="0.6"/>
<circle cx="258.40" cy="302.20" r="1.4" fill="#157a90" stroke="#0d1a1e" stroke-width="0.6"/>
<circle cx="259.90" cy="302.80" r="1.4" fill="#157a90" stroke="#0d1a1e" stroke-width="0.6"/>
<circle cx="261.40" cy="303.50" r="1.4" fill="#157a90" stroke="#0d1a1e" stroke-width="0.6"/>
<circle cx="256.40" cy="304.00" r="1.4" fill="#157a90" stroke="#0d1a1e" stroke-width="0.6"/>
<circle cx="259.40" cy="304.50" r="1.4" fill="#157a90" stroke="#0d1a1e" stroke-width="0.6"/>
<circle cx="260.90" cy="304.70" r="1.4" fill="#157a90" stroke="#0d1a1e" stroke-width="0.6"/>
<g>
<line x1="254.40" y1="302.80" x2="262.40" y2="302.80" stroke="#231f20" stroke-width="1.3"/>
</g>
<circle cx="269.73" cy="254.00" r="1.4" fill="#157a90" stroke="#0d1a1e" stroke-width="0.6"/>
<circle cx="269.73" cy="257.50" r="1.4" fill="#157a90" stroke="#0d1a1e" stroke-width="0.6"/>
<circle cx="267.23" cy="301.30" r="1.4" fill="#157a90" stroke="#0d1a1e" stroke-width="0.6"/>
<circle cx="272.23" cy="301.30" r="1.4" fill="#157a90" stroke="#0d1a1e" stroke-width="0.6"/>
<circle cx="273.73" cy="304.30" r="1.4" fill="#157a90" stroke="#0d1a1e" stroke-width="0.6"/>
<circle cx="269.73" cy="305.70" r="1.4" fill="#157a90" stroke="#0d1a1e" stroke-width="0.6"/>
<circle cx="267.23" cy="316.40" r="1.4" fill="#157a90" stroke="#0d1a1e" stroke-width="0.6"/>
<circle cx="269.73" cy="318.90" r="1.4" fill="#157a90" stroke="#0d1a1e" stroke-width="0.6"/>
<circle cx="269.73" cy="338.30" r="1.4" fill="#157a90" stroke="#0d1a1e" stroke-width="0.6"/>
<g>
<line x1="269.73" y1="263.30" x2="269.73" y2="276.50" stroke="#b4b4b4" stroke-width="1.2"/>
<line x1="267.63" y1="263.30" x2="271.83" y2="263.30" stroke="#3a3a3a" stroke-width="0.9"/>
<line x1="267.63" y1="276.50" x2="271.83" y2="276.50" stroke="#3a3a3a" stroke-width="0.9"/>
<line x1="265.73" y1="267.40" x2="273.73" y2="267.40" stroke="#231f20" stroke-width="1.3"/>
</g>
<circle cx="281.06" cy="290.50" r="1.4" fill="#157a90" stroke="#0d1a1e" stroke-width="0.6"/>
<circle cx="281.06" cy="293.70" r="1.4" fill="#157a90" stroke="#0d1a1e" stroke-width="0.6"/>
<circle cx="279.06" cy="296.60" r="1.4" fill="#157a90" stroke="#0d1a1e" stroke-width="0.6"/>
<circle cx="283.06" cy="296.60" r="1.4" fill="#157a90" stroke="#0d1a1e" stroke-width="0.6"/>
<circle cx="278.06" cy="298.10" r="1.4" fill="#157a90" stroke="#0d1a1e" stroke-width="0.6"/>
<circle cx="284.06" cy="298.10" r="1.4" fill="#157a90" stroke="#0d1a1e" stroke-width="0.6"/>
<circle cx="279.56" cy="300.30" r="1.4" fill="#157a90" stroke="#0d1a1e" stroke-width="0.6"/>
<circle cx="282.56" cy="300.30" r="1.4" fill="#157a90" stroke="#0d1a1e" stroke-width="0.6"/>
<circle cx="277.56" cy="302.20" r="1.4" fill="#157a90" stroke="#0d1a1e" stroke-width="0.6"/>
<circle cx="283.06" cy="302.00" r="1.4" fill="#157a90" stroke="#0d1a1e" stroke-width="0.6"/>
<g>
<line x1="277.06" y1="296.60" x2="285.06" y2="296.60" stroke="#231f20" stroke-width="1.3"/>
</g>
<circle cx="288.89" cy="309.50" r="1.4" fill="#157a90" stroke="#0d1a1e" stroke-width="0.6"/>
<circle cx="292.39" cy="309.50" r="1.4" fill="#157a90" stroke="#0d1a1e" stroke-width="0.6"/>
<circle cx="295.89" cy="309.50" r="1.4" fill="#157a90" stroke="#0d1a1e" stroke-width="0.6"/>
<circle cx="288.89" cy="314.20" r="1.4" fill="#157a90" stroke="#0d1a1e" stroke-width="0.6"/>
<circle cx="292.39" cy="314.20" r="1.4" fill="#157a90" stroke="#0d1a1e" stroke-width="0.6"/>
<circle cx="295.89" cy="314.20" r="1.4" fill="#157a90" stroke="#0d1a1e" stroke-width="0.6"/>
<circle cx="288.89" cy="319.00" r="1.4" fill="#157a90" stroke="#0d1a1e" stroke-width="0.6"/>
<circle cx="292.39" cy="319.00" r="1.4" fill="#157a90" stroke="#0d1a1e" stroke-width="0.6"/>
<circle cx="295.89" cy="319.00" r="1.4" fill="#157a90" stroke="#0d1a1e" stroke-width="0.6"/>
<g>
<line x1="288.39" y1="314.20" x2="296.39" y2="314.20" stroke="#231f20" stroke-width="1.3"/>
</g>
<circle cx="303.72" cy="277.20" r="1.4" fill="#157a90" stroke="#0d1a1e" stroke-width="0.6"/>
<circle cx="300.72" cy="297.00" r="1.4" fill="#157a90" stroke="#0d1a1e" stroke-width="0.6"/>
<circle cx="302.72" cy="296.60" r="1.4" fill="#157a90" stroke="#0d1a1e" stroke-width="0.6"/>
<circle cx="304.72" cy="296.60" r="1.4" fill="#157a90" stroke="#0d1a1e" stroke-width="0.6"/>
<circle cx="306.72" cy="297.00" r="1.4" fill="#157a90" stroke="#0d1a1e" stroke-width="0.6"/>
<circle cx="301.72" cy="298.80" r="1.4" fill="#157a90" stroke="#0d1a1e" stroke-width="0.6"/>
<circle cx="303.72" cy="298.80" r="1.4" fill="#157a90" stroke="#0d1a1e" stroke-width="0.6"/>
<circle cx="305.72" cy="298.80" r="1.4" fill="#157a90" stroke="#0d1a1e" stroke-width="0.6"/>
<circle cx="307.72" cy="298.30" r="1.4" fill="#157a90" stroke="#0d1a1e" stroke-width="0.6"/>
<g>
<line x1="303.72" y1="287.60" x2="303.72" y2="293.00" stroke="#b4b4b4" stroke-width="1.2"/>
<line x1="301.62" y1="287.60" x2="305.82" y2="287.60" stroke="#3a3a3a" stroke-width="0.9"/>
<line x1="301.62" y1="293.00" x2="305.82" y2="293.00" stroke="#3a3a3a" stroke-width="0.9"/>
<line x1="299.72" y1="290.50" x2="307.72" y2="290.50" stroke="#231f20" stroke-width="1.3"/>
</g>
<circle cx="312.05" cy="298.20" r="1.4" fill="#157a90" stroke="#0d1a1e" stroke-width="0.6"/>
<circle cx="314.05" cy="299.00" r="1.4" fill="#157a90" stroke="#0d1a1e" stroke-width="0.6"/>
<circle cx="316.05" cy="299.50" r="1.4" fill="#157a90" stroke="#0d1a1e" stroke-width="0.6"/>
<circle cx="318.05" cy="300.00" r="1.4" fill="#157a90" stroke="#0d1a1e" stroke-width="0.6"/>
<circle cx="313.05" cy="301.50" r="1.4" fill="#157a90" stroke="#0d1a1e" stroke-width="0.6"/>
<circle cx="315.05" cy="302.00" r="1.4" fill="#157a90" stroke="#0d1a1e" stroke-width="0.6"/>
<circle cx="317.05" cy="302.50" r="1.4" fill="#157a90" stroke="#0d1a1e" stroke-width="0.6"/>
<circle cx="314.05" cy="304.00" r="1.4" fill="#157a90" stroke="#0d1a1e" stroke-width="0.6"/>
<circle cx="316.55" cy="303.50" r="1.4" fill="#157a90" stroke="#0d1a1e" stroke-width="0.6"/>
<circle cx="315.05" cy="308.00" r="1.4" fill="#157a90" stroke="#0d1a1e" stroke-width="0.6"/>
<g>
<line x1="311.05" y1="301.00" x2="319.05" y2="301.00" stroke="#231f20" stroke-width="1.3"/>
</g>
<circle cx="322.88" cy="309.50" r="1.4" fill="#157a90" stroke="#0d1a1e" stroke-width="0.6"/>
<circle cx="326.38" cy="309.50" r="1.4" fill="#157a90" stroke="#0d1a1e" stroke-width="0.6"/>
<circle cx="329.88" cy="309.50" r="1.4" fill="#157a90" stroke="#0d1a1e" stroke-width="0.6"/>
<circle cx="322.88" cy="314.20" r="1.4" fill="#157a90" stroke="#0d1a1e" stroke-width="0.6"/>
<circle cx="326.38" cy="314.20" r="1.4" fill="#157a90" stroke="#0d1a1e" stroke-width="0.6"/>
<circle cx="329.88" cy="314.20" r="1.4" fill="#157a90" stroke="#0d1a1e" stroke-width="0.6"/>
<circle cx="322.88" cy="319.00" r="1.4" fill="#157a90" stroke="#0d1a1e" stroke-width="0.6"/>
<circle cx="326.38" cy="319.00" r="1.4" fill="#157a90" stroke="#0d1a1e" stroke-width="0.6"/>
<circle cx="329.88" cy="319.00" r="1.4" fill="#157a90" stroke="#0d1a1e" stroke-width="0.6"/>
<g>
<line x1="322.38" y1="314.20" x2="330.38" y2="314.20" stroke="#231f20" stroke-width="1.3"/>
</g>
<circle cx="337.71" cy="301.80" r="1.4" fill="#157a90" stroke="#0d1a1e" stroke-width="0.6"/>
<circle cx="337.71" cy="312.40" r="1.4" fill="#157a90" stroke="#0d1a1e" stroke-width="0.6"/>
<circle cx="335.21" cy="315.00" r="1.4" fill="#157a90" stroke="#0d1a1e" stroke-width="0.6"/>
<circle cx="340.21" cy="315.50" r="1.4" fill="#157a90" stroke="#0d1a1e" stroke-width="0.6"/>
<circle cx="336.71" cy="317.00" r="1.4" fill="#157a90" stroke="#0d1a1e" stroke-width="0.6"/>
<circle cx="339.21" cy="317.00" r="1.4" fill="#157a90" stroke="#0d1a1e" stroke-width="0.6"/>
<circle cx="337.71" cy="325.90" r="1.4" fill="#157a90" stroke="#0d1a1e" stroke-width="0.6"/>
<g>
<line x1="337.71" y1="310.50" x2="337.71" y2="318.60" stroke="#b4b4b4" stroke-width="1.2"/>
<line x1="335.61" y1="310.50" x2="339.81" y2="310.50" stroke="#3a3a3a" stroke-width="0.9"/>
<line x1="335.61" y1="318.60" x2="339.81" y2="318.60" stroke="#3a3a3a" stroke-width="0.9"/>
<line x1="333.71" y1="314.20" x2="341.71" y2="314.20" stroke="#231f20" stroke-width="1.3"/>
</g>
<circle cx="347.04" cy="331.00" r="1.4" fill="#157a90" stroke="#0d1a1e" stroke-width="0.6"/>
<circle cx="349.04" cy="330.00" r="1.4" fill="#157a90" stroke="#0d1a1e" stroke-width="0.6"/>
<circle cx="351.04" cy="331.00" r="1.4" fill="#157a90" stroke="#0d1a1e" stroke-width="0.6"/>
<circle cx="346.04" cy="334.50" r="1.4" fill="#157a90" stroke="#0d1a1e" stroke-width="0.6"/>
<circle cx="349.04" cy="335.00" r="1.4" fill="#157a90" stroke="#0d1a1e" stroke-width="0.6"/>
<circle cx="352.04" cy="334.50" r="1.4" fill="#157a90" stroke="#0d1a1e" stroke-width="0.6"/>
<circle cx="347.54" cy="337.50" r="1.4" fill="#157a90" stroke="#0d1a1e" stroke-width="0.6"/>
<circle cx="350.54" cy="338.00" r="1.4" fill="#157a90" stroke="#0d1a1e" stroke-width="0.6"/>
<g>
<line x1="345.04" y1="334.10" x2="353.04" y2="334.10" stroke="#231f20" stroke-width="1.3"/>
</g>
<circle cx="360.37" cy="288.80" r="1.4" fill="#157a90" stroke="#0d1a1e" stroke-width="0.6"/>
<circle cx="360.37" cy="299.90" r="1.4" fill="#157a90" stroke="#0d1a1e" stroke-width="0.6"/>
<circle cx="360.37" cy="305.40" r="1.4" fill="#157a90" stroke="#0d1a1e" stroke-width="0.6"/>
<circle cx="358.37" cy="312.50" r="1.4" fill="#157a90" stroke="#0d1a1e" stroke-width="0.6"/>
<circle cx="362.37" cy="313.30" r="1.4" fill="#157a90" stroke="#0d1a1e" stroke-width="0.6"/>
<circle cx="360.37" cy="318.00" r="1.4" fill="#157a90" stroke="#0d1a1e" stroke-width="0.6"/>
<circle cx="358.37" cy="322.70" r="1.4" fill="#157a90" stroke="#0d1a1e" stroke-width="0.6"/>
<circle cx="362.37" cy="325.10" r="1.4" fill="#157a90" stroke="#0d1a1e" stroke-width="0.6"/>
<circle cx="357.87" cy="327.20" r="1.4" fill="#157a90" stroke="#0d1a1e" stroke-width="0.6"/>
<g>
<line x1="360.37" y1="300.00" x2="360.37" y2="311.00" stroke="#b4b4b4" stroke-width="1.2"/>
<line x1="358.27" y1="300.00" x2="362.47" y2="300.00" stroke="#3a3a3a" stroke-width="0.9"/>
<line x1="358.27" y1="311.00" x2="362.47" y2="311.00" stroke="#3a3a3a" stroke-width="0.9"/>
<line x1="356.37" y1="303.40" x2="364.37" y2="303.40" stroke="#231f20" stroke-width="1.3"/>
</g>
<circle cx="371.70" cy="308.20" r="1.4" fill="#157a90" stroke="#0d1a1e" stroke-width="0.6"/>
<circle cx="369.70" cy="312.50" r="1.4" fill="#157a90" stroke="#0d1a1e" stroke-width="0.6"/>
<circle cx="373.70" cy="312.50" r="1.4" fill="#157a90" stroke="#0d1a1e" stroke-width="0.6"/>
<circle cx="371.70" cy="315.20" r="1.4" fill="#157a90" stroke="#0d1a1e" stroke-width="0.6"/>
<circle cx="369.70" cy="318.00" r="1.4" fill="#157a90" stroke="#0d1a1e" stroke-width="0.6"/>
<circle cx="373.70" cy="318.00" r="1.4" fill="#157a90" stroke="#0d1a1e" stroke-width="0.6"/>
<circle cx="371.70" cy="321.20" r="1.4" fill="#157a90" stroke="#0d1a1e" stroke-width="0.6"/>
<circle cx="371.70" cy="324.30" r="1.4" fill="#157a90" stroke="#0d1a1e" stroke-width="0.6"/>
<circle cx="371.70" cy="327.20" r="1.4" fill="#157a90" stroke="#0d1a1e" stroke-width="0.6"/>
<g>
<line x1="367.70" y1="315.20" x2="375.70" y2="315.20" stroke="#231f20" stroke-width="1.3"/>
</g>
<circle cx="381.03" cy="294.40" r="1.4" fill="#157a90" stroke="#0d1a1e" stroke-width="0.6"/>
<circle cx="385.03" cy="294.40" r="1.4" fill="#157a90" stroke="#0d1a1e" stroke-width="0.6"/>
<circle cx="380.03" cy="297.00" r="1.4" fill="#157a90" stroke="#0d1a1e" stroke-width="0.6"/>
<circle cx="383.03" cy="297.00" r="1.4" fill="#157a90" stroke="#0d1a1e" stroke-width="0.6"/>
<circle cx="386.03" cy="297.50" r="1.4" fill="#157a90" stroke="#0d1a1e" stroke-width="0.6"/>
<circle cx="382.03" cy="299.50" r="1.4" fill="#157a90" stroke="#0d1a1e" stroke-width="0.6"/>
<circle cx="384.53" cy="299.50" r="1.4" fill="#157a90" stroke="#0d1a1e" stroke-width="0.6"/>
<circle cx="383.03" cy="301.50" r="1.4" fill="#157a90" stroke="#0d1a1e" stroke-width="0.6"/>
<circle cx="381.03" cy="303.00" r="1.4" fill="#157a90" stroke="#0d1a1e" stroke-width="0.6"/>
<circle cx="385.03" cy="302.00" r="1.4" fill="#157a90" stroke="#0d1a1e" stroke-width="0.6"/>
<g>
<line x1="379.03" y1="297.80" x2="387.03" y2="297.80" stroke="#231f20" stroke-width="1.3"/>
</g>
<circle cx="391.36" cy="299.00" r="1.4" fill="#157a90" stroke="#0d1a1e" stroke-width="0.6"/>
<circle cx="394.36" cy="299.50" r="1.4" fill="#157a90" stroke="#0d1a1e" stroke-width="0.6"/>
<circle cx="397.36" cy="300.00" r="1.4" fill="#157a90" stroke="#0d1a1e" stroke-width="0.6"/>
<circle cx="392.36" cy="302.00" r="1.4" fill="#157a90" stroke="#0d1a1e" stroke-width="0.6"/>
<circle cx="394.36" cy="302.50" r="1.4" fill="#157a90" stroke="#0d1a1e" stroke-width="0.6"/>
<circle cx="396.36" cy="302.00" r="1.4" fill="#157a90" stroke="#0d1a1e" stroke-width="0.6"/>
<circle cx="397.86" cy="303.00" r="1.4" fill="#157a90" stroke="#0d1a1e" stroke-width="0.6"/>
<circle cx="392.36" cy="304.50" r="1.4" fill="#157a90" stroke="#0d1a1e" stroke-width="0.6"/>
<circle cx="394.36" cy="305.00" r="1.4" fill="#157a90" stroke="#0d1a1e" stroke-width="0.6"/>
<circle cx="394.36" cy="307.00" r="1.4" fill="#157a90" stroke="#0d1a1e" stroke-width="0.6"/>
<g>
<line x1="390.36" y1="302.60" x2="398.36" y2="302.60" stroke="#231f20" stroke-width="1.3"/>
</g>
<circle cx="405.69" cy="304.60" r="1.4" fill="#157a90" stroke="#0d1a1e" stroke-width="0.6"/>
<circle cx="403.69" cy="307.00" r="1.4" fill="#157a90" stroke="#0d1a1e" stroke-width="0.6"/>
<circle cx="407.69" cy="307.50" r="1.4" fill="#157a90" stroke="#0d1a1e" stroke-width="0.6"/>
<circle cx="402.69" cy="309.50" r="1.4" fill="#157a90" stroke="#0d1a1e" stroke-width="0.6"/>
<circle cx="405.69" cy="310.00" r="1.4" fill="#157a90" stroke="#0d1a1e" stroke-width="0.6"/>
<circle cx="408.69" cy="310.00" r="1.4" fill="#157a90" stroke="#0d1a1e" stroke-width="0.6"/>
<circle cx="403.69" cy="312.00" r="1.4" fill="#157a90" stroke="#0d1a1e" stroke-width="0.6"/>
<circle cx="407.69" cy="312.50" r="1.4" fill="#157a90" stroke="#0d1a1e" stroke-width="0.6"/>
<circle cx="404.69" cy="314.50" r="1.4" fill="#157a90" stroke="#0d1a1e" stroke-width="0.6"/>
<circle cx="405.69" cy="316.40" r="1.4" fill="#157a90" stroke="#0d1a1e" stroke-width="0.6"/>
<g>
<line x1="401.69" y1="310.00" x2="409.69" y2="310.00" stroke="#231f20" stroke-width="1.3"/>
</g>
<circle cx="417.02" cy="280.50" r="1.4" fill="#157a90" stroke="#0d1a1e" stroke-width="0.6"/>
<circle cx="415.02" cy="292.80" r="1.4" fill="#157a90" stroke="#0d1a1e" stroke-width="0.6"/>
<circle cx="419.02" cy="293.50" r="1.4" fill="#157a90" stroke="#0d1a1e" stroke-width="0.6"/>
<circle cx="414.02" cy="295.50" r="1.4" fill="#157a90" stroke="#0d1a1e" stroke-width="0.6"/>
<circle cx="417.02" cy="296.00" r="1.4" fill="#157a90" stroke="#0d1a1e" stroke-width="0.6"/>
<circle cx="420.02" cy="296.00" r="1.4" fill="#157a90" stroke="#0d1a1e" stroke-width="0.6"/>
<circle cx="415.02" cy="298.00" r="1.4" fill="#157a90" stroke="#0d1a1e" stroke-width="0.6"/>
<circle cx="419.02" cy="298.50" r="1.4" fill="#157a90" stroke="#0d1a1e" stroke-width="0.6"/>
<circle cx="417.02" cy="299.10" r="1.4" fill="#157a90" stroke="#0d1a1e" stroke-width="0.6"/>
<g>
<line x1="417.02" y1="289.30" x2="417.02" y2="295.20" stroke="#b4b4b4" stroke-width="1.2"/>
<line x1="414.92" y1="289.30" x2="419.12" y2="289.30" stroke="#3a3a3a" stroke-width="0.9"/>
<line x1="414.92" y1="295.20" x2="419.12" y2="295.20" stroke="#3a3a3a" stroke-width="0.9"/>
<line x1="413.02" y1="292.30" x2="421.02" y2="292.30" stroke="#231f20" stroke-width="1.3"/>
</g>
<circle cx="428.35" cy="237.20" r="1.4" fill="#157a90" stroke="#0d1a1e" stroke-width="0.6"/>
<circle cx="428.35" cy="241.00" r="1.4" fill="#157a90" stroke="#0d1a1e" stroke-width="0.6"/>
<circle cx="428.35" cy="245.00" r="1.4" fill="#157a90" stroke="#0d1a1e" stroke-width="0.6"/>
<circle cx="428.35" cy="252.60" r="1.4" fill="#157a90" stroke="#0d1a1e" stroke-width="0.6"/>
<circle cx="428.35" cy="256.70" r="1.4" fill="#157a90" stroke="#0d1a1e" stroke-width="0.6"/>
<circle cx="425.85" cy="260.30" r="1.4" fill="#157a90" stroke="#0d1a1e" stroke-width="0.6"/>
<circle cx="430.85" cy="261.60" r="1.4" fill="#157a90" stroke="#0d1a1e" stroke-width="0.6"/>
<circle cx="428.35" cy="267.60" r="1.4" fill="#157a90" stroke="#0d1a1e" stroke-width="0.6"/>
<circle cx="428.35" cy="277.50" r="1.4" fill="#157a90" stroke="#0d1a1e" stroke-width="0.6"/>
<g>
<line x1="424.35" y1="247.80" x2="432.35" y2="247.80" stroke="#231f20" stroke-width="1.3"/>
</g>
<circle cx="437.68" cy="291.20" r="1.4" fill="#157a90" stroke="#0d1a1e" stroke-width="0.6"/>
<circle cx="441.68" cy="292.00" r="1.4" fill="#157a90" stroke="#0d1a1e" stroke-width="0.6"/>
<circle cx="436.68" cy="293.50" r="1.4" fill="#157a90" stroke="#0d1a1e" stroke-width="0.6"/>
<circle cx="439.68" cy="294.00" r="1.4" fill="#157a90" stroke="#0d1a1e" stroke-width="0.6"/>
<circle cx="442.68" cy="294.50" r="1.4" fill="#157a90" stroke="#0d1a1e" stroke-width="0.6"/>
<circle cx="437.68" cy="296.00" r="1.4" fill="#157a90" stroke="#0d1a1e" stroke-width="0.6"/>
<circle cx="440.68" cy="296.50" r="1.4" fill="#157a90" stroke="#0d1a1e" stroke-width="0.6"/>
<circle cx="442.68" cy="297.00" r="1.4" fill="#157a90" stroke="#0d1a1e" stroke-width="0.6"/>
<circle cx="438.68" cy="298.50" r="1.4" fill="#157a90" stroke="#0d1a1e" stroke-width="0.6"/>
<circle cx="439.68" cy="299.10" r="1.4" fill="#157a90" stroke="#0d1a1e" stroke-width="0.6"/>
<g>
<line x1="435.68" y1="295.00" x2="443.68" y2="295.00" stroke="#231f20" stroke-width="1.3"/>
</g>
<circle cx="492.40" cy="311.50" r="1.4" fill="#157a90" stroke="#0d1a1e" stroke-width="0.6"/>
<circle cx="494.40" cy="311.00" r="1.4" fill="#157a90" stroke="#0d1a1e" stroke-width="0.6"/>
<circle cx="496.40" cy="311.50" r="1.4" fill="#157a90" stroke="#0d1a1e" stroke-width="0.6"/>
<circle cx="498.40" cy="311.00" r="1.4" fill="#157a90" stroke="#0d1a1e" stroke-width="0.6"/>
<circle cx="493.40" cy="313.50" r="1.4" fill="#157a90" stroke="#0d1a1e" stroke-width="0.6"/>
<circle cx="495.40" cy="313.00" r="1.4" fill="#157a90" stroke="#0d1a1e" stroke-width="0.6"/>
<circle cx="497.40" cy="314.00" r="1.4" fill="#157a90" stroke="#0d1a1e" stroke-width="0.6"/>
<circle cx="492.40" cy="320.40" r="1.4" fill="#157a90" stroke="#0d1a1e" stroke-width="0.6"/>
<circle cx="498.40" cy="320.40" r="1.4" fill="#157a90" stroke="#0d1a1e" stroke-width="0.6"/>
<circle cx="495.40" cy="315.50" r="1.4" fill="#157a90" stroke="#0d1a1e" stroke-width="0.6"/>
<g>
<line x1="491.40" y1="313.50" x2="499.40" y2="313.50" stroke="#231f20" stroke-width="1.3"/>
</g>
<circle cx="506.71" cy="230.50" r="1.4" fill="#157a90" stroke="#0d1a1e" stroke-width="0.6"/>
<circle cx="506.71" cy="236.40" r="1.4" fill="#157a90" stroke="#0d1a1e" stroke-width="0.6"/>
<circle cx="506.71" cy="241.10" r="1.4" fill="#157a90" stroke="#0d1a1e" stroke-width="0.6"/>
<circle cx="506.71" cy="251.00" r="1.4" fill="#157a90" stroke="#0d1a1e" stroke-width="0.6"/>
<circle cx="504.71" cy="306.20" r="1.4" fill="#157a90" stroke="#0d1a1e" stroke-width="0.6"/>
<circle cx="508.71" cy="310.10" r="1.4" fill="#157a90" stroke="#0d1a1e" stroke-width="0.6"/>
<circle cx="510.71" cy="310.10" r="1.4" fill="#157a90" stroke="#0d1a1e" stroke-width="0.6"/>
<circle cx="506.71" cy="313.00" r="1.4" fill="#157a90" stroke="#0d1a1e" stroke-width="0.6"/>
<g>
<line x1="502.71" y1="234.80" x2="510.71" y2="234.80" stroke="#8a8a8a" stroke-width="1.3"/>
</g>
<circle cx="518.02" cy="275.10" r="1.4" fill="#157a90" stroke="#0d1a1e" stroke-width="0.6"/>
<circle cx="515.52" cy="279.40" r="1.4" fill="#157a90" stroke="#0d1a1e" stroke-width="0.6"/>
<circle cx="520.52" cy="279.40" r="1.4" fill="#157a90" stroke="#0d1a1e" stroke-width="0.6"/>
<circle cx="518.02" cy="283.30" r="1.4" fill="#157a90" stroke="#0d1a1e" stroke-width="0.6"/>
<circle cx="518.02" cy="313.00" r="1.4" fill="#157a90" stroke="#0d1a1e" stroke-width="0.6"/>
<circle cx="518.02" cy="318.00" r="1.4" fill="#157a90" stroke="#0d1a1e" stroke-width="0.6"/>
<circle cx="520.02" cy="327.20" r="1.4" fill="#157a90" stroke="#0d1a1e" stroke-width="0.6"/>
<circle cx="518.02" cy="329.10" r="1.4" fill="#157a90" stroke="#0d1a1e" stroke-width="0.6"/>
<circle cx="517.02" cy="331.90" r="1.4" fill="#157a90" stroke="#0d1a1e" stroke-width="0.6"/>
<g>
<line x1="518.02" y1="281.00" x2="518.02" y2="287.30" stroke="#b4b4b4" stroke-width="1.2"/>
<line x1="515.92" y1="281.00" x2="520.12" y2="281.00" stroke="#3a3a3a" stroke-width="0.9"/>
<line x1="515.92" y1="287.30" x2="520.12" y2="287.30" stroke="#3a3a3a" stroke-width="0.9"/>
<line x1="514.02" y1="283.30" x2="522.02" y2="283.30" stroke="#231f20" stroke-width="1.3"/>
</g>
<circle cx="529.33" cy="297.80" r="1.4" fill="#157a90" stroke="#0d1a1e" stroke-width="0.6"/>
<circle cx="529.33" cy="301.50" r="1.4" fill="#157a90" stroke="#0d1a1e" stroke-width="0.6"/>
<circle cx="528.33" cy="303.80" r="1.4" fill="#157a90" stroke="#0d1a1e" stroke-width="0.6"/>
<circle cx="530.33" cy="305.00" r="1.4" fill="#157a90" stroke="#0d1a1e" stroke-width="0.6"/>
<circle cx="526.33" cy="314.80" r="1.4" fill="#157a90" stroke="#0d1a1e" stroke-width="0.6"/>
<circle cx="528.33" cy="315.20" r="1.4" fill="#157a90" stroke="#0d1a1e" stroke-width="0.6"/>
<circle cx="530.33" cy="315.20" r="1.4" fill="#157a90" stroke="#0d1a1e" stroke-width="0.6"/>
<circle cx="532.33" cy="314.80" r="1.4" fill="#157a90" stroke="#0d1a1e" stroke-width="0.6"/>
<g>
<line x1="529.33" y1="303.00" x2="529.33" y2="308.00" stroke="#b4b4b4" stroke-width="1.2"/>
<line x1="527.23" y1="303.00" x2="531.43" y2="303.00" stroke="#3a3a3a" stroke-width="0.9"/>
<line x1="527.23" y1="308.00" x2="531.43" y2="308.00" stroke="#3a3a3a" stroke-width="0.9"/>
<line x1="525.33" y1="305.40" x2="533.33" y2="305.40" stroke="#231f20" stroke-width="1.3"/>
</g>
<circle cx="538.64" cy="311.00" r="1.4" fill="#157a90" stroke="#0d1a1e" stroke-width="0.6"/>
<circle cx="540.64" cy="311.50" r="1.4" fill="#157a90" stroke="#0d1a1e" stroke-width="0.6"/>
<circle cx="542.64" cy="311.80" r="1.4" fill="#157a90" stroke="#0d1a1e" stroke-width="0.6"/>
<circle cx="537.64" cy="313.50" r="1.4" fill="#157a90" stroke="#0d1a1e" stroke-width="0.6"/>
<circle cx="540.64" cy="314.00" r="1.4" fill="#157a90" stroke="#0d1a1e" stroke-width="0.6"/>
<circle cx="543.64" cy="313.00" r="1.4" fill="#157a90" stroke="#0d1a1e" stroke-width="0.6"/>
<circle cx="539.64" cy="316.00" r="1.4" fill="#157a90" stroke="#0d1a1e" stroke-width="0.6"/>
<circle cx="541.64" cy="316.00" r="1.4" fill="#157a90" stroke="#0d1a1e" stroke-width="0.6"/>
<circle cx="538.64" cy="318.00" r="1.4" fill="#157a90" stroke="#0d1a1e" stroke-width="0.6"/>
<circle cx="542.64" cy="317.00" r="1.4" fill="#157a90" stroke="#0d1a1e" stroke-width="0.6"/>
<g>
<line x1="536.64" y1="314.00" x2="544.64" y2="314.00" stroke="#231f20" stroke-width="1.3"/>
</g>
<circle cx="551.95" cy="299.90" r="1.4" fill="#157a90" stroke="#0d1a1e" stroke-width="0.6"/>
<circle cx="549.95" cy="305.40" r="1.4" fill="#157a90" stroke="#0d1a1e" stroke-width="0.6"/>
<circle cx="553.95" cy="305.40" r="1.4" fill="#157a90" stroke="#0d1a1e" stroke-width="0.6"/>
<circle cx="548.95" cy="308.00" r="1.4" fill="#157a90" stroke="#0d1a1e" stroke-width="0.6"/>
<circle cx="551.95" cy="308.60" r="1.4" fill="#157a90" stroke="#0d1a1e" stroke-width="0.6"/>
<circle cx="554.95" cy="308.00" r="1.4" fill="#157a90" stroke="#0d1a1e" stroke-width="0.6"/>
<circle cx="549.95" cy="311.50" r="1.4" fill="#157a90" stroke="#0d1a1e" stroke-width="0.6"/>
<circle cx="553.95" cy="312.00" r="1.4" fill="#157a90" stroke="#0d1a1e" stroke-width="0.6"/>
<circle cx="551.95" cy="314.50" r="1.4" fill="#157a90" stroke="#0d1a1e" stroke-width="0.6"/>
<circle cx="551.95" cy="317.20" r="1.4" fill="#157a90" stroke="#0d1a1e" stroke-width="0.6"/>
<g>
<line x1="547.95" y1="308.60" x2="555.95" y2="308.60" stroke="#231f20" stroke-width="1.3"/>
</g>
<circle cx="560.06" cy="319.60" r="1.4" fill="#157a90" stroke="#0d1a1e" stroke-width="0.6"/>
<circle cx="563.26" cy="319.60" r="1.4" fill="#157a90" stroke="#0d1a1e" stroke-width="0.6"/>
<circle cx="566.46" cy="319.60" r="1.4" fill="#157a90" stroke="#0d1a1e" stroke-width="0.6"/>
<circle cx="560.06" cy="322.50" r="1.4" fill="#157a90" stroke="#0d1a1e" stroke-width="0.6"/>
<circle cx="563.26" cy="322.50" r="1.4" fill="#157a90" stroke="#0d1a1e" stroke-width="0.6"/>
<circle cx="566.46" cy="322.50" r="1.4" fill="#157a90" stroke="#0d1a1e" stroke-width="0.6"/>
<circle cx="560.06" cy="326.70" r="1.4" fill="#157a90" stroke="#0d1a1e" stroke-width="0.6"/>
<circle cx="563.26" cy="326.70" r="1.4" fill="#157a90" stroke="#0d1a1e" stroke-width="0.6"/>
<circle cx="566.46" cy="326.70" r="1.4" fill="#157a90" stroke="#0d1a1e" stroke-width="0.6"/>
<g>
<line x1="559.26" y1="322.50" x2="567.26" y2="322.50" stroke="#231f20" stroke-width="1.3"/>
</g>
<circle cx="574.57" cy="258.40" r="1.4" fill="#157a90" stroke="#0d1a1e" stroke-width="0.6"/>
<circle cx="574.57" cy="275.10" r="1.4" fill="#157a90" stroke="#0d1a1e" stroke-width="0.6"/>
<circle cx="572.07" cy="277.50" r="1.4" fill="#157a90" stroke="#0d1a1e" stroke-width="0.6"/>
<circle cx="577.07" cy="277.80" r="1.4" fill="#157a90" stroke="#0d1a1e" stroke-width="0.6"/>
<circle cx="571.57" cy="280.20" r="1.4" fill="#157a90" stroke="#0d1a1e" stroke-width="0.6"/>
<circle cx="574.57" cy="280.80" r="1.4" fill="#157a90" stroke="#0d1a1e" stroke-width="0.6"/>
<circle cx="577.57" cy="280.20" r="1.4" fill="#157a90" stroke="#0d1a1e" stroke-width="0.6"/>
<circle cx="573.07" cy="283.00" r="1.4" fill="#157a90" stroke="#0d1a1e" stroke-width="0.6"/>
<circle cx="576.07" cy="283.50" r="1.4" fill="#157a90" stroke="#0d1a1e" stroke-width="0.6"/>
<circle cx="574.57" cy="288.80" r="1.4" fill="#157a90" stroke="#0d1a1e" stroke-width="0.6"/>
<g>
<line x1="574.57" y1="267.60" x2="574.57" y2="274.00" stroke="#b4b4b4" stroke-width="1.2"/>
<line x1="572.47" y1="267.60" x2="576.67" y2="267.60" stroke="#3a3a3a" stroke-width="0.9"/>
<line x1="572.47" y1="274.00" x2="576.67" y2="274.00" stroke="#3a3a3a" stroke-width="0.9"/>
<line x1="570.57" y1="270.40" x2="578.57" y2="270.40" stroke="#231f20" stroke-width="1.3"/>
</g>
<circle cx="585.88" cy="278.90" r="1.4" fill="#157a90" stroke="#0d1a1e" stroke-width="0.6"/>
<circle cx="583.88" cy="318.00" r="1.4" fill="#157a90" stroke="#0d1a1e" stroke-width="0.6"/>
<circle cx="587.88" cy="318.00" r="1.4" fill="#157a90" stroke="#0d1a1e" stroke-width="0.6"/>
<circle cx="582.88" cy="321.00" r="1.4" fill="#157a90" stroke="#0d1a1e" stroke-width="0.6"/>
<circle cx="585.88" cy="321.50" r="1.4" fill="#157a90" stroke="#0d1a1e" stroke-width="0.6"/>
<circle cx="588.88" cy="321.00" r="1.4" fill="#157a90" stroke="#0d1a1e" stroke-width="0.6"/>
<circle cx="585.88" cy="326.00" r="1.4" fill="#157a90" stroke="#0d1a1e" stroke-width="0.6"/>
<g>
<line x1="585.88" y1="288.40" x2="585.88" y2="316.00" stroke="#b4b4b4" stroke-width="1.2"/>
<line x1="583.78" y1="288.40" x2="587.98" y2="288.40" stroke="#3a3a3a" stroke-width="0.9"/>
<line x1="583.78" y1="316.00" x2="587.98" y2="316.00" stroke="#3a3a3a" stroke-width="0.9"/>
<line x1="581.88" y1="292.00" x2="589.88" y2="292.00" stroke="#8a8a8a" stroke-width="1.3"/>
</g>
<circle cx="597.19" cy="255.90" r="1.4" fill="#157a90" stroke="#0d1a1e" stroke-width="0.6"/>
<circle cx="597.19" cy="291.40" r="1.4" fill="#157a90" stroke="#0d1a1e" stroke-width="0.6"/>
<circle cx="594.69" cy="301.50" r="1.4" fill="#157a90" stroke="#0d1a1e" stroke-width="0.6"/>
<circle cx="599.69" cy="301.50" r="1.4" fill="#157a90" stroke="#0d1a1e" stroke-width="0.6"/>
<circle cx="597.19" cy="305.90" r="1.4" fill="#157a90" stroke="#0d1a1e" stroke-width="0.6"/>
<circle cx="605.30" cy="315.90" r="1.4" fill="#157a90" stroke="#0d1a1e" stroke-width="0.6"/>
<circle cx="608.50" cy="315.90" r="1.4" fill="#157a90" stroke="#0d1a1e" stroke-width="0.6"/>
<circle cx="611.70" cy="315.90" r="1.4" fill="#157a90" stroke="#0d1a1e" stroke-width="0.6"/>
<circle cx="605.30" cy="321.10" r="1.4" fill="#157a90" stroke="#0d1a1e" stroke-width="0.6"/>
<circle cx="608.50" cy="321.10" r="1.4" fill="#157a90" stroke="#0d1a1e" stroke-width="0.6"/>
<circle cx="611.70" cy="321.10" r="1.4" fill="#157a90" stroke="#0d1a1e" stroke-width="0.6"/>
<circle cx="605.30" cy="326.80" r="1.4" fill="#157a90" stroke="#0d1a1e" stroke-width="0.6"/>
<circle cx="608.50" cy="326.80" r="1.4" fill="#157a90" stroke="#0d1a1e" stroke-width="0.6"/>
<circle cx="611.70" cy="326.80" r="1.4" fill="#157a90" stroke="#0d1a1e" stroke-width="0.6"/>
<g>
<line x1="604.50" y1="321.10" x2="612.50" y2="321.10" stroke="#231f20" stroke-width="1.3"/>
</g>
<circle cx="619.81" cy="307.00" r="1.4" fill="#157a90" stroke="#0d1a1e" stroke-width="0.6"/>
<circle cx="617.81" cy="310.00" r="1.4" fill="#157a90" stroke="#0d1a1e" stroke-width="0.6"/>
<circle cx="619.81" cy="310.30" r="1.4" fill="#157a90" stroke="#0d1a1e" stroke-width="0.6"/>
<circle cx="621.81" cy="310.00" r="1.4" fill="#157a90" stroke="#0d1a1e" stroke-width="0.6"/>
<circle cx="616.81" cy="311.50" r="1.4" fill="#157a90" stroke="#0d1a1e" stroke-width="0.6"/>
<circle cx="622.81" cy="311.80" r="1.4" fill="#157a90" stroke="#0d1a1e" stroke-width="0.6"/>
<circle cx="619.81" cy="312.50" r="1.4" fill="#157a90" stroke="#0d1a1e" stroke-width="0.6"/>
<circle cx="619.81" cy="317.20" r="1.4" fill="#157a90" stroke="#0d1a1e" stroke-width="0.6"/>
<g>
<line x1="615.81" y1="311.00" x2="623.81" y2="311.00" stroke="#231f20" stroke-width="1.3"/>
</g>
<circle cx="629.12" cy="313.00" r="1.4" fill="#157a90" stroke="#0d1a1e" stroke-width="0.6"/>
<circle cx="631.12" cy="313.50" r="1.4" fill="#157a90" stroke="#0d1a1e" stroke-width="0.6"/>
<circle cx="633.12" cy="313.00" r="1.4" fill="#157a90" stroke="#0d1a1e" stroke-width="0.6"/>
<circle cx="628.12" cy="315.00" r="1.4" fill="#157a90" stroke="#0d1a1e" stroke-width="0.6"/>
<circle cx="631.12" cy="315.50" r="1.4" fill="#157a90" stroke="#0d1a1e" stroke-width="0.6"/>
<circle cx="634.12" cy="315.00" r="1.4" fill="#157a90" stroke="#0d1a1e" stroke-width="0.6"/>
<circle cx="630.12" cy="317.00" r="1.4" fill="#157a90" stroke="#0d1a1e" stroke-width="0.6"/>
<circle cx="632.12" cy="317.50" r="1.4" fill="#157a90" stroke="#0d1a1e" stroke-width="0.6"/>
<g>
<line x1="627.12" y1="315.30" x2="635.12" y2="315.30" stroke="#231f20" stroke-width="1.3"/>
</g>
<circle cx="642.43" cy="314.00" r="1.4" fill="#157a90" stroke="#0d1a1e" stroke-width="0.6"/>
<circle cx="640.43" cy="315.50" r="1.4" fill="#157a90" stroke="#0d1a1e" stroke-width="0.6"/>
<circle cx="644.43" cy="316.00" r="1.4" fill="#157a90" stroke="#0d1a1e" stroke-width="0.6"/>
<circle cx="639.43" cy="317.50" r="1.4" fill="#157a90" stroke="#0d1a1e" stroke-width="0.6"/>
<circle cx="642.43" cy="317.50" r="1.4" fill="#157a90" stroke="#0d1a1e" stroke-width="0.6"/>
<circle cx="645.43" cy="317.50" r="1.4" fill="#157a90" stroke="#0d1a1e" stroke-width="0.6"/>
<circle cx="641.43" cy="319.00" r="1.4" fill="#157a90" stroke="#0d1a1e" stroke-width="0.6"/>
<circle cx="643.43" cy="319.50" r="1.4" fill="#157a90" stroke="#0d1a1e" stroke-width="0.6"/>
<g>
<line x1="638.43" y1="317.50" x2="646.43" y2="317.50" stroke="#231f20" stroke-width="1.3"/>
</g>
<circle cx="651.74" cy="307.80" r="1.4" fill="#157a90" stroke="#0d1a1e" stroke-width="0.6"/>
<circle cx="655.74" cy="309.00" r="1.4" fill="#157a90" stroke="#0d1a1e" stroke-width="0.6"/>
<circle cx="650.74" cy="310.50" r="1.4" fill="#157a90" stroke="#0d1a1e" stroke-width="0.6"/>
<circle cx="656.24" cy="311.00" r="1.4" fill="#157a90" stroke="#0d1a1e" stroke-width="0.6"/>
<circle cx="653.74" cy="312.00" r="1.4" fill="#157a90" stroke="#0d1a1e" stroke-width="0.6"/>
<circle cx="651.74" cy="313.50" r="1.4" fill="#157a90" stroke="#0d1a1e" stroke-width="0.6"/>
<circle cx="655.74" cy="314.00" r="1.4" fill="#157a90" stroke="#0d1a1e" stroke-width="0.6"/>
<circle cx="652.74" cy="315.50" r="1.4" fill="#157a90" stroke="#0d1a1e" stroke-width="0.6"/>
<circle cx="653.74" cy="317.20" r="1.4" fill="#157a90" stroke="#0d1a1e" stroke-width="0.6"/>
<circle cx="662.05" cy="324.50" r="1.4" fill="#157a90" stroke="#0d1a1e" stroke-width="0.6"/>
<circle cx="664.05" cy="324.20" r="1.4" fill="#157a90" stroke="#0d1a1e" stroke-width="0.6"/>
<circle cx="666.05" cy="324.50" r="1.4" fill="#157a90" stroke="#0d1a1e" stroke-width="0.6"/>
<circle cx="668.05" cy="325.00" r="1.4" fill="#157a90" stroke="#0d1a1e" stroke-width="0.6"/>
<circle cx="663.05" cy="326.50" r="1.4" fill="#157a90" stroke="#0d1a1e" stroke-width="0.6"/>
<circle cx="665.05" cy="326.80" r="1.4" fill="#157a90" stroke="#0d1a1e" stroke-width="0.6"/>
<circle cx="667.05" cy="327.00" r="1.4" fill="#157a90" stroke="#0d1a1e" stroke-width="0.6"/>
<circle cx="664.05" cy="328.50" r="1.4" fill="#157a90" stroke="#0d1a1e" stroke-width="0.6"/>
<circle cx="666.05" cy="328.90" r="1.4" fill="#157a90" stroke="#0d1a1e" stroke-width="0.6"/>
<circle cx="674.36" cy="310.00" r="1.4" fill="#157a90" stroke="#0d1a1e" stroke-width="0.6"/>
<circle cx="676.36" cy="310.00" r="1.4" fill="#157a90" stroke="#0d1a1e" stroke-width="0.6"/>
<circle cx="678.36" cy="310.50" r="1.4" fill="#157a90" stroke="#0d1a1e" stroke-width="0.6"/>
<circle cx="673.36" cy="312.00" r="1.4" fill="#157a90" stroke="#0d1a1e" stroke-width="0.6"/>
<circle cx="676.36" cy="312.50" r="1.4" fill="#157a90" stroke="#0d1a1e" stroke-width="0.6"/>
<circle cx="679.36" cy="312.00" r="1.4" fill="#157a90" stroke="#0d1a1e" stroke-width="0.6"/>
<circle cx="675.36" cy="314.00" r="1.4" fill="#157a90" stroke="#0d1a1e" stroke-width="0.6"/>
<circle cx="677.36" cy="314.50" r="1.4" fill="#157a90" stroke="#0d1a1e" stroke-width="0.6"/>
<circle cx="678.36" cy="315.60" r="1.4" fill="#157a90" stroke="#0d1a1e" stroke-width="0.6"/>
<text x="441.40" y="332.00" font-size="7.8" font-style="italic" text-anchor="middle" fill="#231f20" transform="rotate(-90 441.4 332)">Synergy</text>
<text x="680.10" y="337.00" font-size="7.8" font-style="italic" text-anchor="middle" fill="#231f20" transform="rotate(-90 680.1 337)">Synergy</text>
<text x="7.60" y="443.80" font-size="16.6" font-weight="bold" fill="#231f20">D</text>
<g shape-rendering="crispEdges">
<rect x="84.80" y="455.20" width="27.77" height="26.30" fill="#2a57a6"/>
<rect x="112.27" y="455.20" width="27.77" height="26.30" fill="#3658a8"/>
<rect x="139.75" y="455.20" width="27.77" height="26.30" fill="#6872b6"/>
<rect x="167.22" y="455.20" width="27.77" height="26.30" fill="#dcdcee"/>
<rect x="84.80" y="481.20" width="27.77" height="27.77" fill="#4a5dad"/>
<rect x="112.27" y="481.20" width="27.77" height="27.77" fill="#c45a5a"/>
<rect x="139.75" y="481.20" width="27.77" height="27.77" fill="#bb4949"/>
<rect x="167.22" y="481.20" width="27.77" height="27.77" fill="#b43c3c"/>
<rect x="84.80" y="508.67" width="27.77" height="27.77" fill="#5262b0"/>
<rect x="112.27" y="508.67" width="27.77" height="27.77" fill="#c25656"/>
<rect x="139.75" y="508.67" width="27.77" height="27.77" fill="#bb4949"/>
<rect x="167.22" y="508.67" width="27.77" height="27.77" fill="#b64040"/>
<rect x="84.80" y="536.13" width="27.77" height="27.77" fill="#6872b6"/>
<rect x="112.27" y="536.13" width="27.77" height="27.77" fill="#bf5151"/>
<rect x="139.75" y="536.13" width="27.77" height="27.77" fill="#bb4949"/>
<rect x="167.22" y="536.13" width="27.77" height="27.77" fill="#b64040"/>
</g>
<rect x="84.8" y="455.2" width="109.90" height="108.40" fill="none" stroke="#111" stroke-width="1"/>
<text x="98.54" y="471.30" font-size="8.6" font-weight="bold" text-anchor="middle" fill="#111">100</text>
<text x="126.01" y="471.30" font-size="8.6" font-weight="bold" text-anchor="middle" fill="#111">90</text>
<text x="153.49" y="471.30" font-size="8.6" font-weight="bold" text-anchor="middle" fill="#111">76</text>
<text x="180.96" y="471.30" font-size="8.6" font-weight="bold" text-anchor="middle" fill="#111">55</text>
<text x="98.54" y="498.03" font-size="8.6" font-weight="bold" text-anchor="middle" fill="#111">82</text>
<text x="126.01" y="498.03" font-size="8.6" font-weight="bold" text-anchor="middle" fill="#111">19</text>
<text x="153.49" y="498.03" font-size="8.6" font-weight="bold" text-anchor="middle" fill="#111">15</text>
<text x="180.96" y="498.03" font-size="8.6" font-weight="bold" text-anchor="middle" fill="#111">12</text>
<text x="98.54" y="525.50" font-size="8.6" font-weight="bold" text-anchor="middle" fill="#111">80</text>
<text x="126.01" y="525.50" font-size="8.6" font-weight="bold" text-anchor="middle" fill="#111">18</text>
<text x="153.49" y="525.50" font-size="8.6" font-weight="bold" text-anchor="middle" fill="#111">15</text>
<text x="180.96" y="525.50" font-size="8.6" font-weight="bold" text-anchor="middle" fill="#111">13</text>
<text x="98.54" y="552.97" font-size="8.6" font-weight="bold" text-anchor="middle" fill="#111">76</text>
<text x="126.01" y="552.97" font-size="8.6" font-weight="bold" text-anchor="middle" fill="#111">17</text>
<text x="153.49" y="552.97" font-size="8.6" font-weight="bold" text-anchor="middle" fill="#111">15</text>
<text x="180.96" y="552.97" font-size="8.6" font-weight="bold" text-anchor="middle" fill="#111">13</text>
<text x="139.75" y="447.40" font-size="11.5" font-weight="bold" text-anchor="middle" fill="#231f20">H1792</text>
<line x1="81.60" y1="468.20" x2="84.80" y2="468.20" stroke="#231f20" stroke-width="0.9"/>
<text x="81.00" y="471.30" font-size="8.6" text-anchor="end" fill="#231f20">0</text>
<line x1="81.60" y1="494.93" x2="84.80" y2="494.93" stroke="#231f20" stroke-width="0.9"/>
<text x="81.00" y="498.03" font-size="8.6" text-anchor="end" fill="#231f20">0.5</text>
<line x1="81.60" y1="522.40" x2="84.80" y2="522.40" stroke="#231f20" stroke-width="0.9"/>
<text x="81.00" y="525.50" font-size="8.6" text-anchor="end" fill="#231f20">1</text>
<line x1="81.60" y1="549.87" x2="84.80" y2="549.87" stroke="#231f20" stroke-width="0.9"/>
<text x="81.00" y="552.97" font-size="8.6" text-anchor="end" fill="#231f20">5</text>
<line x1="98.54" y1="563.60" x2="98.54" y2="566.80" stroke="#231f20" stroke-width="0.9"/>
<text x="98.54" y="576.20" font-size="8.6" text-anchor="middle" fill="#231f20">0</text>
<line x1="126.01" y1="563.60" x2="126.01" y2="566.80" stroke="#231f20" stroke-width="0.9"/>
<text x="126.01" y="576.20" font-size="8.6" text-anchor="middle" fill="#231f20">0.625</text>
<line x1="153.49" y1="563.60" x2="153.49" y2="566.80" stroke="#231f20" stroke-width="0.9"/>
<text x="153.49" y="576.20" font-size="8.6" text-anchor="middle" fill="#231f20">1.25</text>
<line x1="180.96" y1="563.60" x2="180.96" y2="566.80" stroke="#231f20" stroke-width="0.9"/>
<text x="180.96" y="576.20" font-size="8.6" text-anchor="middle" fill="#231f20">2.5</text>
<text x="65.10" y="509.40" font-size="9.4" text-anchor="middle" fill="#231f20" transform="rotate(-90 65.1 509.4)">Trametinib (µM)</text>
<g shape-rendering="crispEdges">
<rect x="239.90" y="455.20" width="27.95" height="26.30" fill="#2a57a6"/>
<rect x="267.55" y="455.20" width="27.95" height="26.30" fill="#2c57a6"/>
<rect x="295.20" y="455.20" width="27.95" height="26.30" fill="#2a57a6"/>
<rect x="322.85" y="455.20" width="27.95" height="26.30" fill="#5262b0"/>
<rect x="239.90" y="481.20" width="27.95" height="27.77" fill="#2a57a6"/>
<rect x="267.55" y="481.20" width="27.95" height="27.77" fill="#e4b6b6"/>
<rect x="295.20" y="481.20" width="27.95" height="27.77" fill="#e2b1b1"/>
<rect x="322.85" y="481.20" width="27.95" height="27.77" fill="#d48484"/>
<rect x="239.90" y="508.67" width="27.95" height="27.77" fill="#2a57a6"/>
<rect x="267.55" y="508.67" width="27.95" height="27.77" fill="#dc9e9e"/>
<rect x="295.20" y="508.67" width="27.95" height="27.77" fill="#dea3a3"/>
<rect x="322.85" y="508.67" width="27.95" height="27.77" fill="#d07a7a"/>
<rect x="239.90" y="536.13" width="27.95" height="27.77" fill="#2a57a6"/>
<rect x="267.55" y="536.13" width="27.95" height="27.77" fill="#e4b6b6"/>
<rect x="295.20" y="536.13" width="27.95" height="27.77" fill="#d48484"/>
<rect x="322.85" y="536.13" width="27.95" height="27.77" fill="#c45a5a"/>
</g>
<rect x="239.9" y="455.2" width="110.60" height="108.40" fill="none" stroke="#111" stroke-width="1"/>
<text x="253.72" y="471.30" font-size="8.6" font-weight="bold" text-anchor="middle" fill="#111">100</text>
<text x="281.38" y="471.30" font-size="8.6" font-weight="bold" text-anchor="middle" fill="#111">98</text>
<text x="309.02" y="471.30" font-size="8.6" font-weight="bold" text-anchor="middle" fill="#111">101</text>
<text x="336.68" y="471.30" font-size="8.6" font-weight="bold" text-anchor="middle" fill="#111">80</text>
<text x="253.72" y="498.03" font-size="8.6" font-weight="bold" text-anchor="middle" fill="#111">123</text>
<text x="281.38" y="498.03" font-size="8.6" font-weight="bold" text-anchor="middle" fill="#111">37</text>
<text x="309.02" y="498.03" font-size="8.6" font-weight="bold" text-anchor="middle" fill="#111">36</text>
<text x="336.68" y="498.03" font-size="8.6" font-weight="bold" text-anchor="middle" fill="#111">27</text>
<text x="253.72" y="525.50" font-size="8.6" font-weight="bold" text-anchor="middle" fill="#111">124</text>
<text x="281.38" y="525.50" font-size="8.6" font-weight="bold" text-anchor="middle" fill="#111">32</text>
<text x="309.02" y="525.50" font-size="8.6" font-weight="bold" text-anchor="middle" fill="#111">33</text>
<text x="336.68" y="525.50" font-size="8.6" font-weight="bold" text-anchor="middle" fill="#111">25</text>
<text x="253.72" y="552.97" font-size="8.6" font-weight="bold" text-anchor="middle" fill="#111">104</text>
<text x="281.38" y="552.97" font-size="8.6" font-weight="bold" text-anchor="middle" fill="#111">37</text>
<text x="309.02" y="552.97" font-size="8.6" font-weight="bold" text-anchor="middle" fill="#111">27</text>
<text x="336.68" y="552.97" font-size="8.6" font-weight="bold" text-anchor="middle" fill="#111">19</text>
<text x="295.20" y="447.40" font-size="11.5" font-weight="bold" text-anchor="middle" fill="#231f20">H2009</text>
<line x1="236.70" y1="468.20" x2="239.90" y2="468.20" stroke="#231f20" stroke-width="0.9"/>
<text x="236.10" y="471.30" font-size="8.6" text-anchor="end" fill="#231f20">0</text>
<line x1="236.70" y1="494.93" x2="239.90" y2="494.93" stroke="#231f20" stroke-width="0.9"/>
<text x="236.10" y="498.03" font-size="8.6" text-anchor="end" fill="#231f20">0.5</text>
<line x1="236.70" y1="522.40" x2="239.90" y2="522.40" stroke="#231f20" stroke-width="0.9"/>
<text x="236.10" y="525.50" font-size="8.6" text-anchor="end" fill="#231f20">1</text>
<line x1="236.70" y1="549.87" x2="239.90" y2="549.87" stroke="#231f20" stroke-width="0.9"/>
<text x="236.10" y="552.97" font-size="8.6" text-anchor="end" fill="#231f20">5</text>
<line x1="253.72" y1="563.60" x2="253.72" y2="566.80" stroke="#231f20" stroke-width="0.9"/>
<text x="253.72" y="576.20" font-size="8.6" text-anchor="middle" fill="#231f20">0</text>
<line x1="281.38" y1="563.60" x2="281.38" y2="566.80" stroke="#231f20" stroke-width="0.9"/>
<text x="281.38" y="576.20" font-size="8.6" text-anchor="middle" fill="#231f20">0.625</text>
<line x1="309.02" y1="563.60" x2="309.02" y2="566.80" stroke="#231f20" stroke-width="0.9"/>
<text x="309.02" y="576.20" font-size="8.6" text-anchor="middle" fill="#231f20">1.25</text>
<line x1="336.68" y1="563.60" x2="336.68" y2="566.80" stroke="#231f20" stroke-width="0.9"/>
<text x="336.68" y="576.20" font-size="8.6" text-anchor="middle" fill="#231f20">2.5</text>
<text x="220.20" y="509.40" font-size="9.4" text-anchor="middle" fill="#231f20" transform="rotate(-90 220.20000000000002 509.4)">Trametinib (µM)</text>
<text x="139.75" y="592.00" font-size="9.9" text-anchor="middle" fill="#231f20">Lestaurtinib (µM)</text>
<text x="295.20" y="592.00" font-size="9.9" text-anchor="middle" fill="#231f20">Lestaurtinib (µM)</text>
<defs><linearGradient id="cbD" x1="0" x2="0" y1="1" y2="0"><stop offset="0.00" stop-color="#a3141c"/><stop offset="0.12" stop-color="#b43c3c"/><stop offset="0.19" stop-color="#c45a5a"/><stop offset="0.27" stop-color="#d48484"/><stop offset="0.32" stop-color="#dc9e9e"/><stop offset="0.37" stop-color="#e4b6b6"/><stop offset="0.45" stop-color="#f4e2e2"/><stop offset="0.50" stop-color="#ffffff"/><stop offset="0.55" stop-color="#dcdcee"/><stop offset="0.64" stop-color="#a8acd8"/><stop offset="0.76" stop-color="#6872b6"/><stop offset="0.81" stop-color="#4d5eae"/><stop offset="0.90" stop-color="#3658a8"/><stop offset="1.00" stop-color="#2a57a6"/></linearGradient></defs>
<rect x="364" y="455.2" width="14.30" height="109.30" fill="url(#cbD)" stroke="#111" stroke-width="1.1"/>
<text x="383.30" y="458.40" font-size="9" fill="#231f20">100</text>
<line x1="364.00" y1="477.06" x2="366.00" y2="477.06" stroke="#231f20" stroke-width="0.9"/>
<line x1="376.30" y1="477.06" x2="378.30" y2="477.06" stroke="#231f20" stroke-width="0.9"/>
<text x="383.30" y="480.26" font-size="9" fill="#231f20">80</text>
<line x1="364.00" y1="498.92" x2="366.00" y2="498.92" stroke="#231f20" stroke-width="0.9"/>
<line x1="376.30" y1="498.92" x2="378.30" y2="498.92" stroke="#231f20" stroke-width="0.9"/>
<text x="383.30" y="502.12" font-size="9" fill="#231f20">60</text>
<line x1="364.00" y1="520.78" x2="366.00" y2="520.78" stroke="#231f20" stroke-width="0.9"/>
<line x1="376.30" y1="520.78" x2="378.30" y2="520.78" stroke="#231f20" stroke-width="0.9"/>
<text x="383.30" y="523.98" font-size="9" fill="#231f20">40</text>
<line x1="364.00" y1="542.64" x2="366.00" y2="542.64" stroke="#231f20" stroke-width="0.9"/>
<line x1="376.30" y1="542.64" x2="378.30" y2="542.64" stroke="#231f20" stroke-width="0.9"/>
<text x="383.30" y="545.84" font-size="9" fill="#231f20">20</text>
<text x="383.30" y="567.70" font-size="9" fill="#231f20">0</text>
<text x="408.30" y="509.85" font-size="9.4" text-anchor="middle" fill="#231f20" transform="rotate(-90 408.3 509.85)">2D cell viability (%)</text>
<text x="7.60" y="600.00" font-size="16.6" font-weight="bold" fill="#231f20">E</text>
<g shape-rendering="crispEdges">
<rect x="85.20" y="623.20" width="27.83" height="26.30" fill="#2a57a6"/>
<rect x="112.73" y="623.20" width="27.83" height="26.30" fill="#455cac"/>
<rect x="140.25" y="623.20" width="27.83" height="26.30" fill="#6872b6"/>
<rect x="167.78" y="623.20" width="27.83" height="26.30" fill="#a8acd8"/>
<rect x="85.20" y="649.20" width="27.83" height="27.73" fill="#2a57a6"/>
<rect x="112.73" y="649.20" width="27.83" height="27.73" fill="#c86464"/>
<rect x="140.25" y="649.20" width="27.83" height="27.73" fill="#d07a7a"/>
<rect x="167.78" y="649.20" width="27.83" height="27.73" fill="#da9999"/>
<rect x="85.20" y="676.63" width="27.83" height="27.73" fill="#2a57a6"/>
<rect x="112.73" y="676.63" width="27.83" height="27.73" fill="#c65f5f"/>
<rect x="140.25" y="676.63" width="27.83" height="27.73" fill="#d07a7a"/>
<rect x="167.78" y="676.63" width="27.83" height="27.73" fill="#dc9e9e"/>
<rect x="85.20" y="704.07" width="27.83" height="27.73" fill="#3658a8"/>
<rect x="112.73" y="704.07" width="27.83" height="27.73" fill="#bf5151"/>
<rect x="140.25" y="704.07" width="27.83" height="27.73" fill="#cc6f6f"/>
<rect x="167.78" y="704.07" width="27.83" height="27.73" fill="#da9999"/>
</g>
<rect x="85.2" y="623.2" width="110.10" height="108.30" fill="none" stroke="#111" stroke-width="1"/>
<text x="98.96" y="639.30" font-size="8.6" font-weight="bold" text-anchor="middle" fill="#111">100</text>
<text x="126.49" y="639.30" font-size="8.6" font-weight="bold" text-anchor="middle" fill="#111">84</text>
<text x="154.01" y="639.30" font-size="8.6" font-weight="bold" text-anchor="middle" fill="#111">76</text>
<text x="181.54" y="639.30" font-size="8.6" font-weight="bold" text-anchor="middle" fill="#111">64</text>
<text x="98.96" y="666.02" font-size="8.6" font-weight="bold" text-anchor="middle" fill="#111">103</text>
<text x="126.49" y="666.02" font-size="8.6" font-weight="bold" text-anchor="middle" fill="#111">21</text>
<text x="154.01" y="666.02" font-size="8.6" font-weight="bold" text-anchor="middle" fill="#111">25</text>
<text x="181.54" y="666.02" font-size="8.6" font-weight="bold" text-anchor="middle" fill="#111">31</text>
<text x="98.96" y="693.45" font-size="8.6" font-weight="bold" text-anchor="middle" fill="#111">112</text>
<text x="126.49" y="693.45" font-size="8.6" font-weight="bold" text-anchor="middle" fill="#111">20</text>
<text x="154.01" y="693.45" font-size="8.6" font-weight="bold" text-anchor="middle" fill="#111">25</text>
<text x="181.54" y="693.45" font-size="8.6" font-weight="bold" text-anchor="middle" fill="#111">32</text>
<text x="98.96" y="720.88" font-size="8.6" font-weight="bold" text-anchor="middle" fill="#111">90</text>
<text x="126.49" y="720.88" font-size="8.6" font-weight="bold" text-anchor="middle" fill="#111">17</text>
<text x="154.01" y="720.88" font-size="8.6" font-weight="bold" text-anchor="middle" fill="#111">23</text>
<text x="181.54" y="720.88" font-size="8.6" font-weight="bold" text-anchor="middle" fill="#111">31</text>
<text x="140.25" y="615.40" font-size="11.5" font-weight="bold" text-anchor="middle" fill="#231f20">H1792</text>
<line x1="82.00" y1="636.20" x2="85.20" y2="636.20" stroke="#231f20" stroke-width="0.9"/>
<text x="81.40" y="639.30" font-size="8.6" font-weight="bold" text-anchor="end" fill="#231f20">0</text>
<line x1="82.00" y1="662.92" x2="85.20" y2="662.92" stroke="#231f20" stroke-width="0.9"/>
<text x="81.40" y="666.02" font-size="8.6" font-weight="bold" text-anchor="end" fill="#231f20">0.5</text>
<line x1="82.00" y1="690.35" x2="85.20" y2="690.35" stroke="#231f20" stroke-width="0.9"/>
<text x="81.40" y="693.45" font-size="8.6" font-weight="bold" text-anchor="end" fill="#231f20">1</text>
<line x1="82.00" y1="717.78" x2="85.20" y2="717.78" stroke="#231f20" stroke-width="0.9"/>
<text x="81.40" y="720.88" font-size="8.6" font-weight="bold" text-anchor="end" fill="#231f20">5</text>
<line x1="98.96" y1="731.50" x2="98.96" y2="734.70" stroke="#231f20" stroke-width="0.9"/>
<text x="98.96" y="744.10" font-size="8.6" font-weight="bold" text-anchor="middle" fill="#231f20">0</text>
<line x1="126.49" y1="731.50" x2="126.49" y2="734.70" stroke="#231f20" stroke-width="0.9"/>
<text x="126.49" y="744.10" font-size="8.6" font-weight="bold" text-anchor="middle" fill="#231f20">0.625</text>
<line x1="154.01" y1="731.50" x2="154.01" y2="734.70" stroke="#231f20" stroke-width="0.9"/>
<text x="154.01" y="744.10" font-size="8.6" font-weight="bold" text-anchor="middle" fill="#231f20">1.25</text>
<line x1="181.54" y1="731.50" x2="181.54" y2="734.70" stroke="#231f20" stroke-width="0.9"/>
<text x="181.54" y="744.10" font-size="8.6" font-weight="bold" text-anchor="middle" fill="#231f20">2.5</text>
<text x="65.50" y="677.35" font-size="9.4" text-anchor="middle" fill="#231f20" transform="rotate(-90 65.5 677.35)">Trametinib (µM)</text>
<g shape-rendering="crispEdges">
<rect x="239.90" y="623.20" width="27.90" height="26.30" fill="#2a57a6"/>
<rect x="267.50" y="623.20" width="27.90" height="26.30" fill="#2b57a6"/>
<rect x="295.10" y="623.20" width="27.90" height="26.30" fill="#4d5eae"/>
<rect x="322.70" y="623.20" width="27.90" height="26.30" fill="#a8acd8"/>
<rect x="239.90" y="649.20" width="27.90" height="27.73" fill="#3658a8"/>
<rect x="267.50" y="649.20" width="27.90" height="27.73" fill="#d27f7f"/>
<rect x="295.10" y="649.20" width="27.90" height="27.73" fill="#dea3a3"/>
<rect x="322.70" y="649.20" width="27.90" height="27.73" fill="#e8c1c1"/>
<rect x="239.90" y="676.63" width="27.90" height="27.73" fill="#3158a7"/>
<rect x="267.50" y="676.63" width="27.90" height="27.73" fill="#cc6f6f"/>
<rect x="295.10" y="676.63" width="27.90" height="27.73" fill="#da9999"/>
<rect x="322.70" y="676.63" width="27.90" height="27.73" fill="#e8c1c1"/>
<rect x="239.90" y="704.07" width="27.90" height="27.73" fill="#3258a7"/>
<rect x="267.50" y="704.07" width="27.90" height="27.73" fill="#cc6f6f"/>
<rect x="295.10" y="704.07" width="27.90" height="27.73" fill="#dc9e9e"/>
<rect x="322.70" y="704.07" width="27.90" height="27.73" fill="#e4b6b6"/>
</g>
<rect x="239.9" y="623.2" width="110.40" height="108.30" fill="none" stroke="#111" stroke-width="1"/>
<text x="253.70" y="639.30" font-size="8.6" font-weight="bold" text-anchor="middle" fill="#111">100</text>
<text x="281.30" y="639.30" font-size="8.6" font-weight="bold" text-anchor="middle" fill="#111">99</text>
<text x="308.90" y="639.30" font-size="8.6" font-weight="bold" text-anchor="middle" fill="#111">81</text>
<text x="336.50" y="639.30" font-size="8.6" font-weight="bold" text-anchor="middle" fill="#111">64</text>
<text x="253.70" y="666.02" font-size="8.6" font-weight="bold" text-anchor="middle" fill="#111">90</text>
<text x="281.30" y="666.02" font-size="8.6" font-weight="bold" text-anchor="middle" fill="#111">26</text>
<text x="308.90" y="666.02" font-size="8.6" font-weight="bold" text-anchor="middle" fill="#111">33</text>
<text x="336.50" y="666.02" font-size="8.6" font-weight="bold" text-anchor="middle" fill="#111">39</text>
<text x="253.70" y="693.45" font-size="8.6" font-weight="bold" text-anchor="middle" fill="#111">94</text>
<text x="281.30" y="693.45" font-size="8.6" font-weight="bold" text-anchor="middle" fill="#111">23</text>
<text x="308.90" y="693.45" font-size="8.6" font-weight="bold" text-anchor="middle" fill="#111">31</text>
<text x="336.50" y="693.45" font-size="8.6" font-weight="bold" text-anchor="middle" fill="#111">39</text>
<text x="253.70" y="720.88" font-size="8.6" font-weight="bold" text-anchor="middle" fill="#111">93</text>
<text x="281.30" y="720.88" font-size="8.6" font-weight="bold" text-anchor="middle" fill="#111">23</text>
<text x="308.90" y="720.88" font-size="8.6" font-weight="bold" text-anchor="middle" fill="#111">32</text>
<text x="336.50" y="720.88" font-size="8.6" font-weight="bold" text-anchor="middle" fill="#111">37</text>
<text x="295.10" y="615.40" font-size="11.5" font-weight="bold" text-anchor="middle" fill="#231f20">H2009</text>
<line x1="236.70" y1="636.20" x2="239.90" y2="636.20" stroke="#231f20" stroke-width="0.9"/>
<text x="236.10" y="639.30" font-size="8.6" font-weight="bold" text-anchor="end" fill="#231f20">0</text>
<line x1="236.70" y1="662.92" x2="239.90" y2="662.92" stroke="#231f20" stroke-width="0.9"/>
<text x="236.10" y="666.02" font-size="8.6" font-weight="bold" text-anchor="end" fill="#231f20">0.5</text>
<line x1="236.70" y1="690.35" x2="239.90" y2="690.35" stroke="#231f20" stroke-width="0.9"/>
<text x="236.10" y="693.45" font-size="8.6" font-weight="bold" text-anchor="end" fill="#231f20">1</text>
<line x1="236.70" y1="717.78" x2="239.90" y2="717.78" stroke="#231f20" stroke-width="0.9"/>
<text x="236.10" y="720.88" font-size="8.6" font-weight="bold" text-anchor="end" fill="#231f20">5</text>
<line x1="253.70" y1="731.50" x2="253.70" y2="734.70" stroke="#231f20" stroke-width="0.9"/>
<text x="253.70" y="744.10" font-size="8.6" font-weight="bold" text-anchor="middle" fill="#231f20">0</text>
<line x1="281.30" y1="731.50" x2="281.30" y2="734.70" stroke="#231f20" stroke-width="0.9"/>
<text x="281.30" y="744.10" font-size="8.6" font-weight="bold" text-anchor="middle" fill="#231f20">0.625</text>
<line x1="308.90" y1="731.50" x2="308.90" y2="734.70" stroke="#231f20" stroke-width="0.9"/>
<text x="308.90" y="744.10" font-size="8.6" font-weight="bold" text-anchor="middle" fill="#231f20">1.25</text>
<line x1="336.50" y1="731.50" x2="336.50" y2="734.70" stroke="#231f20" stroke-width="0.9"/>
<text x="336.50" y="744.10" font-size="8.6" font-weight="bold" text-anchor="middle" fill="#231f20">2.5</text>
<text x="220.20" y="677.35" font-size="9.4" text-anchor="middle" fill="#231f20" transform="rotate(-90 220.20000000000002 677.35)">Trametinib (µM)</text>
<text x="142.00" y="761.00" font-size="9.5" text-anchor="middle" fill="#231f20">Adavosertib (µM)</text>
<text x="302.00" y="761.00" font-size="9.5" text-anchor="middle" fill="#231f20">Adavosertib (µM)</text>
<defs><linearGradient id="cbE" x1="0" x2="0" y1="1" y2="0"><stop offset="0.00" stop-color="#a3141c"/><stop offset="0.12" stop-color="#b43c3c"/><stop offset="0.19" stop-color="#c45a5a"/><stop offset="0.27" stop-color="#d48484"/><stop offset="0.32" stop-color="#dc9e9e"/><stop offset="0.37" stop-color="#e4b6b6"/><stop offset="0.45" stop-color="#f4e2e2"/><stop offset="0.50" stop-color="#ffffff"/><stop offset="0.55" stop-color="#dcdcee"/><stop offset="0.64" stop-color="#a8acd8"/><stop offset="0.76" stop-color="#6872b6"/><stop offset="0.81" stop-color="#4d5eae"/><stop offset="0.90" stop-color="#3658a8"/><stop offset="1.00" stop-color="#2a57a6"/></linearGradient></defs>
<rect x="364.1" y="623.2" width="13.80" height="108.60" fill="url(#cbE)" stroke="#111" stroke-width="1.1"/>
<text x="382.90" y="626.40" font-size="9" fill="#231f20">100</text>
<line x1="364.10" y1="644.92" x2="366.10" y2="644.92" stroke="#231f20" stroke-width="0.9"/>
<line x1="375.90" y1="644.92" x2="377.90" y2="644.92" stroke="#231f20" stroke-width="0.9"/>
<text x="382.90" y="648.12" font-size="9" fill="#231f20">80</text>
<line x1="364.10" y1="666.64" x2="366.10" y2="666.64" stroke="#231f20" stroke-width="0.9"/>
<line x1="375.90" y1="666.64" x2="377.90" y2="666.64" stroke="#231f20" stroke-width="0.9"/>
<text x="382.90" y="669.84" font-size="9" fill="#231f20">60</text>
<line x1="364.10" y1="688.36" x2="366.10" y2="688.36" stroke="#231f20" stroke-width="0.9"/>
<line x1="375.90" y1="688.36" x2="377.90" y2="688.36" stroke="#231f20" stroke-width="0.9"/>
<text x="382.90" y="691.56" font-size="9" fill="#231f20">40</text>
<line x1="364.10" y1="710.08" x2="366.10" y2="710.08" stroke="#231f20" stroke-width="0.9"/>
<line x1="375.90" y1="710.08" x2="377.90" y2="710.08" stroke="#231f20" stroke-width="0.9"/>
<text x="382.90" y="713.28" font-size="9" fill="#231f20">20</text>
<text x="382.90" y="735.00" font-size="9" fill="#231f20">0</text>
<text x="407.90" y="677.50" font-size="9.4" text-anchor="middle" fill="#231f20" transform="rotate(-90 407.9 677.5)">2D cell viability (%)</text>
<text x="127.00" y="789.70" font-size="16.6" font-weight="bold" fill="#231f20">F</text>
<g stroke="#e3e3e3" stroke-width="0.8">
<line x1="183.10" y1="783.3" x2="183.10" y2="901.3"/>
<line x1="199.50" y1="783.3" x2="199.50" y2="901.3"/>
<line x1="215.90" y1="783.3" x2="215.90" y2="901.3"/>
<line x1="232.30" y1="783.3" x2="232.30" y2="901.3"/>
<line x1="248.70" y1="783.3" x2="248.70" y2="901.3"/>
<line x1="265.10" y1="783.3" x2="265.10" y2="901.3"/>
<line x1="166.2" y1="883.70" x2="279.7" y2="883.70"/>
<line x1="166.2" y1="864.60" x2="279.7" y2="864.60"/>
<line x1="166.2" y1="845.50" x2="279.7" y2="845.50"/>
<line x1="166.2" y1="826.40" x2="279.7" y2="826.40"/>
<line x1="166.2" y1="807.30" x2="279.7" y2="807.30"/>
<line x1="166.2" y1="788.20" x2="279.7" y2="788.20"/>
</g>
<rect x="166.2" y="783.3" width="113.50" height="118.00" fill="none" stroke="#111" stroke-width="1.1"/>
<text x="163.60" y="790.70" font-size="9.2" text-anchor="end" fill="#333">100</text>
<text x="163.60" y="829.70" font-size="9.2" text-anchor="end" fill="#333">50</text>
<text x="163.60" y="867.90" font-size="9.2" text-anchor="end" fill="#333">0</text>
<text x="185.60" y="911.30" font-size="9.2" text-anchor="middle" fill="#333">−50</text>
<text x="215.90" y="911.30" font-size="9.2" text-anchor="middle" fill="#333">0</text>
<text x="248.70" y="911.30" font-size="9.2" text-anchor="middle" fill="#333">50</text>
<text x="220.60" y="920.80" font-size="9.6" text-anchor="middle" fill="#333">PC1</text>
<text x="148.20" y="844.70" font-size="9.6" text-anchor="middle" fill="#333" transform="rotate(-90 148.2 844.7)">PC2</text>
<circle cx="207.00" cy="789.90" r="2.1" fill="#17693a"/>
<text x="212.40" y="792.00" font-size="7.6" fill="#222">CTRL_2</text>
<circle cx="192.60" cy="818.40" r="2.1" fill="#17693a"/>
<text x="197.20" y="821.10" font-size="7.6" fill="#222">CTRL_1</text>
<circle cx="275.50" cy="847.80" r="2.1" fill="#1eaee8"/>
<text x="272.00" y="850.50" font-size="7.6" text-anchor="end" fill="#222">Tram_3</text>
<circle cx="266.10" cy="883.10" r="2.1" fill="#1eaee8"/>
<text x="262.30" y="885.80" font-size="7.6" text-anchor="end" fill="#222">Tram_2</text>
<circle cx="265.00" cy="894.50" r="2.1" fill="#1eaee8"/>
<text x="262.30" y="897.20" font-size="7.6" text-anchor="end" fill="#222">Tram_1</text>
<circle cx="180.20" cy="889.60" r="2.1" fill="#f39422"/>
<circle cx="175.50" cy="892.40" r="2.1" fill="#f39422"/>
<circle cx="177.80" cy="895.00" r="2.1" fill="#f39422"/>
<text x="184.80" y="888.60" font-size="7.6" fill="#222">Lest_3</text>
<text x="183.20" y="894.20" font-size="7.6" fill="#222">Lest_1</text>
<text x="184.80" y="900.00" font-size="7.6" fill="#222">Lest_2</text>
<circle cx="285.3" cy="830.40" r="1.5" fill="#17693a"/>
<text x="288.70" y="833.90" font-size="9.8" fill="#222">Ctrl</text>
<circle cx="285.3" cy="840.00" r="1.5" fill="#f39422"/>
<text x="288.70" y="843.50" font-size="9.8" fill="#222">Lest</text>
<circle cx="285.3" cy="849.60" r="1.5" fill="#1eaee8"/>
<text x="288.70" y="853.10" font-size="9.8" fill="#222">Tram</text>
<text x="421.50" y="444.00" font-size="16.6" font-weight="bold" fill="#231f20">G</text>
<text x="536.50" y="450.70" font-size="11.9" font-weight="bold" text-anchor="middle" fill="#231f20">iKRASsig</text>
<text x="499.30" y="471.10" font-size="10" fill="#222">Tram</text>
<text x="529.30" y="471.10" font-size="10" fill="#222">Lest</text>
<text x="555.90" y="471.10" font-size="10" fill="#222">Ctrl</text>
<rect x="499.30" y="476.20" width="28.60" height="7.60" fill="#1ba3dd"/>
<rect x="527.90" y="476.20" width="28.20" height="7.60" fill="#f29a2e"/>
<rect x="556.10" y="476.20" width="18.90" height="7.60" fill="#0f6b38"/>
<g shape-rendering="crispEdges">
<rect x="499.30" y="492.60" width="9.76" height="9.76" fill="#9a1a1a"/>
<rect x="508.76" y="492.60" width="9.76" height="9.76" fill="#901418"/>
<rect x="518.23" y="492.60" width="9.76" height="9.76" fill="#700a0c"/>
<rect x="527.69" y="492.60" width="9.76" height="9.76" fill="#050f0a"/>
<rect x="537.15" y="492.60" width="9.76" height="9.76" fill="#0c2e18"/>
<rect x="546.61" y="492.60" width="9.76" height="9.76" fill="#05080a"/>
<rect x="556.08" y="492.60" width="9.76" height="9.76" fill="#22a84a"/>
<rect x="565.54" y="492.60" width="9.76" height="9.76" fill="#239a48"/>
<rect x="499.30" y="502.06" width="9.76" height="9.76" fill="#c02020"/>
<rect x="508.76" y="502.06" width="9.76" height="9.76" fill="#5a0408"/>
<rect x="518.23" y="502.06" width="9.76" height="9.76" fill="#961a1a"/>
<rect x="527.69" y="502.06" width="9.76" height="9.76" fill="#0c2a14"/>
<rect x="537.15" y="502.06" width="9.76" height="9.76" fill="#0e3a1c"/>
<rect x="546.61" y="502.06" width="9.76" height="9.76" fill="#137a3a"/>
<rect x="556.08" y="502.06" width="9.76" height="9.76" fill="#0e5e2c"/>
<rect x="565.54" y="502.06" width="9.76" height="9.76" fill="#106a32"/>
<rect x="499.30" y="511.52" width="9.76" height="9.76" fill="#3a0410"/>
<rect x="508.76" y="511.52" width="9.76" height="9.76" fill="#a01c1c"/>
<rect x="518.23" y="511.52" width="9.76" height="9.76" fill="#a01c1c"/>
<rect x="527.69" y="511.52" width="9.76" height="9.76" fill="#137a3a"/>
<rect x="537.15" y="511.52" width="9.76" height="9.76" fill="#0e3a1c"/>
<rect x="546.61" y="511.52" width="9.76" height="9.76" fill="#0c2a14"/>
<rect x="556.08" y="511.52" width="9.76" height="9.76" fill="#22a04a"/>
<rect x="565.54" y="511.52" width="9.76" height="9.76" fill="#050a0a"/>
<rect x="499.30" y="520.97" width="9.76" height="9.76" fill="#c02020"/>
<rect x="508.76" y="520.97" width="9.76" height="9.76" fill="#700a0c"/>
<rect x="518.23" y="520.97" width="9.76" height="9.76" fill="#780c0e"/>
<rect x="527.69" y="520.97" width="9.76" height="9.76" fill="#0e3018"/>
<rect x="537.15" y="520.97" width="9.76" height="9.76" fill="#0e3a1c"/>
<rect x="546.61" y="520.97" width="9.76" height="9.76" fill="#0c2a14"/>
<rect x="556.08" y="520.97" width="9.76" height="9.76" fill="#4cb84a"/>
<rect x="565.54" y="520.97" width="9.76" height="9.76" fill="#050a0a"/>
<rect x="499.30" y="530.43" width="9.76" height="9.76" fill="#b81e22"/>
<rect x="508.76" y="530.43" width="9.76" height="9.76" fill="#8a1014"/>
<rect x="518.23" y="530.43" width="9.76" height="9.76" fill="#8a1014"/>
<rect x="527.69" y="530.43" width="9.76" height="9.76" fill="#1e9a48"/>
<rect x="537.15" y="530.43" width="9.76" height="9.76" fill="#051a0a"/>
<rect x="546.61" y="530.43" width="9.76" height="9.76" fill="#0c2a14"/>
<rect x="556.08" y="530.43" width="9.76" height="9.76" fill="#1e9a48"/>
<rect x="565.54" y="530.43" width="9.76" height="9.76" fill="#0a2a14"/>
<rect x="499.30" y="539.89" width="9.76" height="9.76" fill="#8a1014"/>
<rect x="508.76" y="539.89" width="9.76" height="9.76" fill="#2e0204"/>
<rect x="518.23" y="539.89" width="9.76" height="9.76" fill="#440610"/>
<rect x="527.69" y="539.89" width="9.76" height="9.76" fill="#5cbc4a"/>
<rect x="537.15" y="539.89" width="9.76" height="9.76" fill="#800a0a"/>
<rect x="546.61" y="539.89" width="9.76" height="9.76" fill="#137a3a"/>
<rect x="556.08" y="539.89" width="9.76" height="9.76" fill="#050f0a"/>
<rect x="565.54" y="539.89" width="9.76" height="9.76" fill="#050a0a"/>
<rect x="499.30" y="549.35" width="9.76" height="9.76" fill="#800c10"/>
<rect x="508.76" y="549.35" width="9.76" height="9.76" fill="#5e0408"/>
<rect x="518.23" y="549.35" width="9.76" height="9.76" fill="#8a1014"/>
<rect x="527.69" y="549.35" width="9.76" height="9.76" fill="#1e9a48"/>
<rect x="537.15" y="549.35" width="9.76" height="9.76" fill="#33b44e"/>
<rect x="546.61" y="549.35" width="9.76" height="9.76" fill="#137a3a"/>
<rect x="556.08" y="549.35" width="9.76" height="9.76" fill="#200004"/>
<rect x="565.54" y="549.35" width="9.76" height="9.76" fill="#280004"/>
<rect x="499.30" y="558.81" width="9.76" height="9.76" fill="#8a1014"/>
<rect x="508.76" y="558.81" width="9.76" height="9.76" fill="#5e0408"/>
<rect x="518.23" y="558.81" width="9.76" height="9.76" fill="#280004"/>
<rect x="527.69" y="558.81" width="9.76" height="9.76" fill="#2eb04e"/>
<rect x="537.15" y="558.81" width="9.76" height="9.76" fill="#33b44e"/>
<rect x="546.61" y="558.81" width="9.76" height="9.76" fill="#0c2a14"/>
<rect x="556.08" y="558.81" width="9.76" height="9.76" fill="#600a0c"/>
<rect x="565.54" y="558.81" width="9.76" height="9.76" fill="#050a0a"/>
<rect x="499.30" y="568.27" width="9.76" height="9.76" fill="#8a1014"/>
<rect x="508.76" y="568.27" width="9.76" height="9.76" fill="#8a1014"/>
<rect x="518.23" y="568.27" width="9.76" height="9.76" fill="#9a1a1a"/>
<rect x="527.69" y="568.27" width="9.76" height="9.76" fill="#144a20"/>
<rect x="537.15" y="568.27" width="9.76" height="9.76" fill="#138a3e"/>
<rect x="546.61" y="568.27" width="9.76" height="9.76" fill="#138a3e"/>
<rect x="556.08" y="568.27" width="9.76" height="9.76" fill="#104020"/>
<rect x="565.54" y="568.27" width="9.76" height="9.76" fill="#050a0a"/>
<rect x="499.30" y="577.72" width="9.76" height="9.76" fill="#c02020"/>
<rect x="508.76" y="577.72" width="9.76" height="9.76" fill="#5e0408"/>
<rect x="518.23" y="577.72" width="9.76" height="9.76" fill="#5e0408"/>
<rect x="527.69" y="577.72" width="9.76" height="9.76" fill="#2aac4e"/>
<rect x="537.15" y="577.72" width="9.76" height="9.76" fill="#0e5e2c"/>
<rect x="546.61" y="577.72" width="9.76" height="9.76" fill="#050f0a"/>
<rect x="556.08" y="577.72" width="9.76" height="9.76" fill="#137a3a"/>
<rect x="565.54" y="577.72" width="9.76" height="9.76" fill="#100004"/>
<rect x="499.30" y="587.18" width="9.76" height="9.76" fill="#0e6a30"/>
<rect x="508.76" y="587.18" width="9.76" height="9.76" fill="#c02020"/>
<rect x="518.23" y="587.18" width="9.76" height="9.76" fill="#050505"/>
<rect x="527.69" y="587.18" width="9.76" height="9.76" fill="#0e3a1c"/>
<rect x="537.15" y="587.18" width="9.76" height="9.76" fill="#3a0408"/>
<rect x="546.61" y="587.18" width="9.76" height="9.76" fill="#4a0610"/>
<rect x="556.08" y="587.18" width="9.76" height="9.76" fill="#050a08"/>
<rect x="565.54" y="587.18" width="9.76" height="9.76" fill="#4cb84a"/>
<rect x="499.30" y="596.64" width="9.76" height="9.76" fill="#4a0610"/>
<rect x="508.76" y="596.64" width="9.76" height="9.76" fill="#600808"/>
<rect x="518.23" y="596.64" width="9.76" height="9.76" fill="#22a84a"/>
<rect x="527.69" y="596.64" width="9.76" height="9.76" fill="#050505"/>
<rect x="537.15" y="596.64" width="9.76" height="9.76" fill="#050505"/>
<rect x="546.61" y="596.64" width="9.76" height="9.76" fill="#7a0a0c"/>
<rect x="556.08" y="596.64" width="9.76" height="9.76" fill="#300204"/>
<rect x="565.54" y="596.64" width="9.76" height="9.76" fill="#4cb84a"/>
<rect x="499.30" y="606.10" width="9.76" height="9.76" fill="#600810"/>
<rect x="508.76" y="606.10" width="9.76" height="9.76" fill="#600810"/>
<rect x="518.23" y="606.10" width="9.76" height="9.76" fill="#22a048"/>
<rect x="527.69" y="606.10" width="9.76" height="9.76" fill="#3a0408"/>
<rect x="537.15" y="606.10" width="9.76" height="9.76" fill="#0a0004"/>
<rect x="546.61" y="606.10" width="9.76" height="9.76" fill="#0a0004"/>
<rect x="556.08" y="606.10" width="9.76" height="9.76" fill="#5cbc4a"/>
<rect x="565.54" y="606.10" width="9.76" height="9.76" fill="#300404"/>
<rect x="499.30" y="615.56" width="9.76" height="9.76" fill="#600810"/>
<rect x="508.76" y="615.56" width="9.76" height="9.76" fill="#138a3e"/>
<rect x="518.23" y="615.56" width="9.76" height="9.76" fill="#0e3a1c"/>
<rect x="527.69" y="615.56" width="9.76" height="9.76" fill="#4a0610"/>
<rect x="537.15" y="615.56" width="9.76" height="9.76" fill="#c02020"/>
<rect x="546.61" y="615.56" width="9.76" height="9.76" fill="#300404"/>
<rect x="556.08" y="615.56" width="9.76" height="9.76" fill="#0e6a30"/>
<rect x="565.54" y="615.56" width="9.76" height="9.76" fill="#0e6a30"/>
<rect x="499.30" y="625.01" width="9.76" height="9.76" fill="#0f0206"/>
<rect x="508.76" y="625.01" width="9.76" height="9.76" fill="#0e2e18"/>
<rect x="518.23" y="625.01" width="9.76" height="9.76" fill="#050505"/>
<rect x="527.69" y="625.01" width="9.76" height="9.76" fill="#700810"/>
<rect x="537.15" y="625.01" width="9.76" height="9.76" fill="#a01c1c"/>
<rect x="546.61" y="625.01" width="9.76" height="9.76" fill="#6a0a0c"/>
<rect x="556.08" y="625.01" width="9.76" height="9.76" fill="#138a3e"/>
<rect x="565.54" y="625.01" width="9.76" height="9.76" fill="#4cb84a"/>
<rect x="499.30" y="634.47" width="9.76" height="9.76" fill="#050505"/>
<rect x="508.76" y="634.47" width="9.76" height="9.76" fill="#050505"/>
<rect x="518.23" y="634.47" width="9.76" height="9.76" fill="#050505"/>
<rect x="527.69" y="634.47" width="9.76" height="9.76" fill="#8a1014"/>
<rect x="537.15" y="634.47" width="9.76" height="9.76" fill="#901418"/>
<rect x="546.61" y="634.47" width="9.76" height="9.76" fill="#700a0c"/>
<rect x="556.08" y="634.47" width="9.76" height="9.76" fill="#4cb84a"/>
<rect x="565.54" y="634.47" width="9.76" height="9.76" fill="#138a3e"/>
<rect x="499.30" y="643.93" width="9.76" height="9.76" fill="#0e6a30"/>
<rect x="508.76" y="643.93" width="9.76" height="9.76" fill="#137a3a"/>
<rect x="518.23" y="643.93" width="9.76" height="9.76" fill="#200004"/>
<rect x="527.69" y="643.93" width="9.76" height="9.76" fill="#0a0004"/>
<rect x="537.15" y="643.93" width="9.76" height="9.76" fill="#3a0408"/>
<rect x="546.61" y="643.93" width="9.76" height="9.76" fill="#e0282a"/>
<rect x="556.08" y="643.93" width="9.76" height="9.76" fill="#0e5e2c"/>
<rect x="565.54" y="643.93" width="9.76" height="9.76" fill="#0e3a1c"/>
<rect x="499.30" y="653.39" width="9.76" height="9.76" fill="#138a3e"/>
<rect x="508.76" y="653.39" width="9.76" height="9.76" fill="#0e6a30"/>
<rect x="518.23" y="653.39" width="9.76" height="9.76" fill="#1e9a48"/>
<rect x="527.69" y="653.39" width="9.76" height="9.76" fill="#8a1014"/>
<rect x="537.15" y="653.39" width="9.76" height="9.76" fill="#8a1014"/>
<rect x="546.61" y="653.39" width="9.76" height="9.76" fill="#a01c1c"/>
<rect x="556.08" y="653.39" width="9.76" height="9.76" fill="#050505"/>
<rect x="565.54" y="653.39" width="9.76" height="9.76" fill="#050505"/>
<rect x="499.30" y="662.85" width="9.76" height="9.76" fill="#0e6a30"/>
<rect x="508.76" y="662.85" width="9.76" height="9.76" fill="#0e6a30"/>
<rect x="518.23" y="662.85" width="9.76" height="9.76" fill="#051005"/>
<rect x="527.69" y="662.85" width="9.76" height="9.76" fill="#b01e22"/>
<rect x="537.15" y="662.85" width="9.76" height="9.76" fill="#7a0a0c"/>
<rect x="546.61" y="662.85" width="9.76" height="9.76" fill="#8a1014"/>
<rect x="556.08" y="662.85" width="9.76" height="9.76" fill="#0e5e2c"/>
<rect x="565.54" y="662.85" width="9.76" height="9.76" fill="#0e3a1c"/>
<rect x="499.30" y="672.30" width="9.76" height="9.76" fill="#4a0610"/>
<rect x="508.76" y="672.30" width="9.76" height="9.76" fill="#4cb84a"/>
<rect x="518.23" y="672.30" width="9.76" height="9.76" fill="#22a048"/>
<rect x="527.69" y="672.30" width="9.76" height="9.76" fill="#3a0408"/>
<rect x="537.15" y="672.30" width="9.76" height="9.76" fill="#050505"/>
<rect x="546.61" y="672.30" width="9.76" height="9.76" fill="#0a2a14"/>
<rect x="556.08" y="672.30" width="9.76" height="9.76" fill="#8a1014"/>
<rect x="565.54" y="672.30" width="9.76" height="9.76" fill="#700a0c"/>
<rect x="499.30" y="681.76" width="9.76" height="9.76" fill="#b01e22"/>
<rect x="508.76" y="681.76" width="9.76" height="9.76" fill="#0e3a1c"/>
<rect x="518.23" y="681.76" width="9.76" height="9.76" fill="#4cb84a"/>
<rect x="527.69" y="681.76" width="9.76" height="9.76" fill="#051005"/>
<rect x="537.15" y="681.76" width="9.76" height="9.76" fill="#0a0004"/>
<rect x="546.61" y="681.76" width="9.76" height="9.76" fill="#051005"/>
<rect x="556.08" y="681.76" width="9.76" height="9.76" fill="#8a1014"/>
<rect x="565.54" y="681.76" width="9.76" height="9.76" fill="#050505"/>
<rect x="499.30" y="691.22" width="9.76" height="9.76" fill="#a01c1c"/>
<rect x="508.76" y="691.22" width="9.76" height="9.76" fill="#200004"/>
<rect x="518.23" y="691.22" width="9.76" height="9.76" fill="#050505"/>
<rect x="527.69" y="691.22" width="9.76" height="9.76" fill="#3a0408"/>
<rect x="537.15" y="691.22" width="9.76" height="9.76" fill="#050505"/>
<rect x="546.61" y="691.22" width="9.76" height="9.76" fill="#5cbc4a"/>
<rect x="556.08" y="691.22" width="9.76" height="9.76" fill="#400408"/>
<rect x="565.54" y="691.22" width="9.76" height="9.76" fill="#0e5e2c"/>
<rect x="499.30" y="700.68" width="9.76" height="9.76" fill="#0a0004"/>
<rect x="508.76" y="700.68" width="9.76" height="9.76" fill="#0a0004"/>
<rect x="518.23" y="700.68" width="9.76" height="9.76" fill="#600808"/>
<rect x="527.69" y="700.68" width="9.76" height="9.76" fill="#0e4a20"/>
<rect x="537.15" y="700.68" width="9.76" height="9.76" fill="#33b44e"/>
<rect x="546.61" y="700.68" width="9.76" height="9.76" fill="#138a3e"/>
<rect x="556.08" y="700.68" width="9.76" height="9.76" fill="#a01c1c"/>
<rect x="565.54" y="700.68" width="9.76" height="9.76" fill="#400408"/>
<rect x="499.30" y="710.14" width="9.76" height="9.76" fill="#050505"/>
<rect x="508.76" y="710.14" width="9.76" height="9.76" fill="#050505"/>
<rect x="518.23" y="710.14" width="9.76" height="9.76" fill="#050505"/>
<rect x="527.69" y="710.14" width="9.76" height="9.76" fill="#138a3e"/>
<rect x="537.15" y="710.14" width="9.76" height="9.76" fill="#051005"/>
<rect x="546.61" y="710.14" width="9.76" height="9.76" fill="#4cb84a"/>
<rect x="556.08" y="710.14" width="9.76" height="9.76" fill="#b01e22"/>
<rect x="565.54" y="710.14" width="9.76" height="9.76" fill="#6a0a0c"/>
<rect x="499.30" y="719.60" width="9.76" height="9.76" fill="#0e3a1c"/>
<rect x="508.76" y="719.60" width="9.76" height="9.76" fill="#33b44e"/>
<rect x="518.23" y="719.60" width="9.76" height="9.76" fill="#8a1014"/>
<rect x="527.69" y="719.60" width="9.76" height="9.76" fill="#138a3e"/>
<rect x="537.15" y="719.60" width="9.76" height="9.76" fill="#700a0c"/>
<rect x="546.61" y="719.60" width="9.76" height="9.76" fill="#0e3a1c"/>
<rect x="556.08" y="719.60" width="9.76" height="9.76" fill="#300404"/>
<rect x="565.54" y="719.60" width="9.76" height="9.76" fill="#6a0a0c"/>
<rect x="499.30" y="729.05" width="9.76" height="9.76" fill="#2aac4e"/>
<rect x="508.76" y="729.05" width="9.76" height="9.76" fill="#22a84a"/>
<rect x="518.23" y="729.05" width="9.76" height="9.76" fill="#0e5e2c"/>
<rect x="527.69" y="729.05" width="9.76" height="9.76" fill="#600808"/>
<rect x="537.15" y="729.05" width="9.76" height="9.76" fill="#3a0408"/>
<rect x="546.61" y="729.05" width="9.76" height="9.76" fill="#4a0610"/>
<rect x="556.08" y="729.05" width="9.76" height="9.76" fill="#500608"/>
<rect x="565.54" y="729.05" width="9.76" height="9.76" fill="#600808"/>
<rect x="499.30" y="738.51" width="9.76" height="9.76" fill="#2aac4e"/>
<rect x="508.76" y="738.51" width="9.76" height="9.76" fill="#33b44e"/>
<rect x="518.23" y="738.51" width="9.76" height="9.76" fill="#0e4a20"/>
<rect x="527.69" y="738.51" width="9.76" height="9.76" fill="#700a0c"/>
<rect x="537.15" y="738.51" width="9.76" height="9.76" fill="#4a0610"/>
<rect x="546.61" y="738.51" width="9.76" height="9.76" fill="#6a0a0c"/>
<rect x="556.08" y="738.51" width="9.76" height="9.76" fill="#3a0408"/>
<rect x="565.54" y="738.51" width="9.76" height="9.76" fill="#3a0408"/>
<rect x="499.30" y="747.97" width="9.76" height="9.76" fill="#137a3a"/>
<rect x="508.76" y="747.97" width="9.76" height="9.76" fill="#1e9a48"/>
<rect x="518.23" y="747.97" width="9.76" height="9.76" fill="#2aac4e"/>
<rect x="527.69" y="747.97" width="9.76" height="9.76" fill="#700a0c"/>
<rect x="537.15" y="747.97" width="9.76" height="9.76" fill="#7a0a0c"/>
<rect x="546.61" y="747.97" width="9.76" height="9.76" fill="#7a0a0c"/>
<rect x="556.08" y="747.97" width="9.76" height="9.76" fill="#4a0610"/>
<rect x="565.54" y="747.97" width="9.76" height="9.76" fill="#100004"/>
<rect x="499.30" y="757.43" width="9.76" height="9.76" fill="#2aac4e"/>
<rect x="508.76" y="757.43" width="9.76" height="9.76" fill="#22a048"/>
<rect x="518.23" y="757.43" width="9.76" height="9.76" fill="#137a3a"/>
<rect x="527.69" y="757.43" width="9.76" height="9.76" fill="#700a0c"/>
<rect x="537.15" y="757.43" width="9.76" height="9.76" fill="#800c0e"/>
<rect x="546.61" y="757.43" width="9.76" height="9.76" fill="#700a0c"/>
<rect x="556.08" y="757.43" width="9.76" height="9.76" fill="#200004"/>
<rect x="565.54" y="757.43" width="9.76" height="9.76" fill="#200004"/>
<rect x="499.30" y="766.89" width="9.76" height="9.76" fill="#137a3a"/>
<rect x="508.76" y="766.89" width="9.76" height="9.76" fill="#33b44e"/>
<rect x="518.23" y="766.89" width="9.76" height="9.76" fill="#138a3e"/>
<rect x="527.69" y="766.89" width="9.76" height="9.76" fill="#700a0c"/>
<rect x="537.15" y="766.89" width="9.76" height="9.76" fill="#600808"/>
<rect x="546.61" y="766.89" width="9.76" height="9.76" fill="#7a0a0c"/>
<rect x="556.08" y="766.89" width="9.76" height="9.76" fill="#280004"/>
<rect x="565.54" y="766.89" width="9.76" height="9.76" fill="#3a0408"/>
<rect x="499.30" y="776.34" width="9.76" height="9.76" fill="#0e5a2a"/>
<rect x="508.76" y="776.34" width="9.76" height="9.76" fill="#137a3a"/>
<rect x="518.23" y="776.34" width="9.76" height="9.76" fill="#44b44a"/>
<rect x="527.69" y="776.34" width="9.76" height="9.76" fill="#901418"/>
<rect x="537.15" y="776.34" width="9.76" height="9.76" fill="#4a0610"/>
<rect x="546.61" y="776.34" width="9.76" height="9.76" fill="#3a0408"/>
<rect x="556.08" y="776.34" width="9.76" height="9.76" fill="#600808"/>
<rect x="565.54" y="776.34" width="9.76" height="9.76" fill="#200004"/>
<rect x="499.30" y="785.80" width="9.76" height="9.76" fill="#0e5e2c"/>
<rect x="508.76" y="785.80" width="9.76" height="9.76" fill="#137a3a"/>
<rect x="518.23" y="785.80" width="9.76" height="9.76" fill="#44b44a"/>
<rect x="527.69" y="785.80" width="9.76" height="9.76" fill="#9a1818"/>
<rect x="537.15" y="785.80" width="9.76" height="9.76" fill="#9a1818"/>
<rect x="546.61" y="785.80" width="9.76" height="9.76" fill="#200004"/>
<rect x="556.08" y="785.80" width="9.76" height="9.76" fill="#200004"/>
<rect x="565.54" y="785.80" width="9.76" height="9.76" fill="#050505"/>
<rect x="499.30" y="795.26" width="9.76" height="9.76" fill="#0e4a20"/>
<rect x="508.76" y="795.26" width="9.76" height="9.76" fill="#22a048"/>
<rect x="518.23" y="795.26" width="9.76" height="9.76" fill="#44b44a"/>
<rect x="527.69" y="795.26" width="9.76" height="9.76" fill="#1a0004"/>
<rect x="537.15" y="795.26" width="9.76" height="9.76" fill="#280004"/>
<rect x="546.61" y="795.26" width="9.76" height="9.76" fill="#600808"/>
<rect x="556.08" y="795.26" width="9.76" height="9.76" fill="#7a0a0c"/>
<rect x="565.54" y="795.26" width="9.76" height="9.76" fill="#600808"/>
<rect x="499.30" y="804.72" width="9.76" height="9.76" fill="#1e9a48"/>
<rect x="508.76" y="804.72" width="9.76" height="9.76" fill="#22a048"/>
<rect x="518.23" y="804.72" width="9.76" height="9.76" fill="#22a048"/>
<rect x="527.69" y="804.72" width="9.76" height="9.76" fill="#4a0610"/>
<rect x="537.15" y="804.72" width="9.76" height="9.76" fill="#4a0610"/>
<rect x="546.61" y="804.72" width="9.76" height="9.76" fill="#4a0610"/>
<rect x="556.08" y="804.72" width="9.76" height="9.76" fill="#600808"/>
<rect x="565.54" y="804.72" width="9.76" height="9.76" fill="#600808"/>
<rect x="499.30" y="814.18" width="9.76" height="9.76" fill="#1e9a48"/>
<rect x="508.76" y="814.18" width="9.76" height="9.76" fill="#1e9a48"/>
<rect x="518.23" y="814.18" width="9.76" height="9.76" fill="#22a048"/>
<rect x="527.69" y="814.18" width="9.76" height="9.76" fill="#4a0610"/>
<rect x="537.15" y="814.18" width="9.76" height="9.76" fill="#600808"/>
<rect x="546.61" y="814.18" width="9.76" height="9.76" fill="#6a0a0c"/>
<rect x="556.08" y="814.18" width="9.76" height="9.76" fill="#4a0610"/>
<rect x="565.54" y="814.18" width="9.76" height="9.76" fill="#600808"/>
<rect x="499.30" y="823.63" width="9.76" height="9.76" fill="#1a9448"/>
<rect x="508.76" y="823.63" width="9.76" height="9.76" fill="#1e9a48"/>
<rect x="518.23" y="823.63" width="9.76" height="9.76" fill="#2aac4e"/>
<rect x="527.69" y="823.63" width="9.76" height="9.76" fill="#600808"/>
<rect x="537.15" y="823.63" width="9.76" height="9.76" fill="#600808"/>
<rect x="546.61" y="823.63" width="9.76" height="9.76" fill="#600808"/>
<rect x="556.08" y="823.63" width="9.76" height="9.76" fill="#4a0610"/>
<rect x="565.54" y="823.63" width="9.76" height="9.76" fill="#600808"/>
<rect x="499.30" y="833.09" width="9.76" height="9.76" fill="#2aac4e"/>
<rect x="508.76" y="833.09" width="9.76" height="9.76" fill="#0e6a30"/>
<rect x="518.23" y="833.09" width="9.76" height="9.76" fill="#2aac4e"/>
<rect x="527.69" y="833.09" width="9.76" height="9.76" fill="#4a0610"/>
<rect x="537.15" y="833.09" width="9.76" height="9.76" fill="#3a0408"/>
<rect x="546.61" y="833.09" width="9.76" height="9.76" fill="#3a0408"/>
<rect x="556.08" y="833.09" width="9.76" height="9.76" fill="#700a0c"/>
<rect x="565.54" y="833.09" width="9.76" height="9.76" fill="#700a0c"/>
<rect x="499.30" y="842.55" width="9.76" height="9.76" fill="#22a048"/>
<rect x="508.76" y="842.55" width="9.76" height="9.76" fill="#0e4a20"/>
<rect x="518.23" y="842.55" width="9.76" height="9.76" fill="#44b44a"/>
<rect x="527.69" y="842.55" width="9.76" height="9.76" fill="#600808"/>
<rect x="537.15" y="842.55" width="9.76" height="9.76" fill="#280004"/>
<rect x="546.61" y="842.55" width="9.76" height="9.76" fill="#600808"/>
<rect x="556.08" y="842.55" width="9.76" height="9.76" fill="#700a0c"/>
<rect x="565.54" y="842.55" width="9.76" height="9.76" fill="#4a0610"/>
<rect x="499.30" y="852.01" width="9.76" height="9.76" fill="#5cbc4a"/>
<rect x="508.76" y="852.01" width="9.76" height="9.76" fill="#082a14"/>
<rect x="518.23" y="852.01" width="9.76" height="9.76" fill="#137a3a"/>
<rect x="527.69" y="852.01" width="9.76" height="9.76" fill="#6a0a0c"/>
<rect x="537.15" y="852.01" width="9.76" height="9.76" fill="#100004"/>
<rect x="546.61" y="852.01" width="9.76" height="9.76" fill="#4a0610"/>
<rect x="556.08" y="852.01" width="9.76" height="9.76" fill="#600808"/>
<rect x="565.54" y="852.01" width="9.76" height="9.76" fill="#4a0610"/>
<rect x="499.30" y="861.47" width="9.76" height="9.76" fill="#6cc04a"/>
<rect x="508.76" y="861.47" width="9.76" height="9.76" fill="#0e3a1c"/>
<rect x="518.23" y="861.47" width="9.76" height="9.76" fill="#082a14"/>
<rect x="527.69" y="861.47" width="9.76" height="9.76" fill="#4a0610"/>
<rect x="537.15" y="861.47" width="9.76" height="9.76" fill="#4a0610"/>
<rect x="546.61" y="861.47" width="9.76" height="9.76" fill="#280004"/>
<rect x="556.08" y="861.47" width="9.76" height="9.76" fill="#300404"/>
<rect x="565.54" y="861.47" width="9.76" height="9.76" fill="#600808"/>
<rect x="499.30" y="870.93" width="9.76" height="9.76" fill="#1e9a48"/>
<rect x="508.76" y="870.93" width="9.76" height="9.76" fill="#082a14"/>
<rect x="518.23" y="870.93" width="9.76" height="9.76" fill="#5cbc4a"/>
<rect x="527.69" y="870.93" width="9.76" height="9.76" fill="#600808"/>
<rect x="537.15" y="870.93" width="9.76" height="9.76" fill="#3a0408"/>
<rect x="546.61" y="870.93" width="9.76" height="9.76" fill="#050505"/>
<rect x="556.08" y="870.93" width="9.76" height="9.76" fill="#700a0c"/>
<rect x="565.54" y="870.93" width="9.76" height="9.76" fill="#901418"/>
<rect x="499.30" y="880.38" width="9.76" height="9.76" fill="#0e6a30"/>
<rect x="508.76" y="880.38" width="9.76" height="9.76" fill="#1e9a48"/>
<rect x="518.23" y="880.38" width="9.76" height="9.76" fill="#22a048"/>
<rect x="527.69" y="880.38" width="9.76" height="9.76" fill="#100004"/>
<rect x="537.15" y="880.38" width="9.76" height="9.76" fill="#050505"/>
<rect x="546.61" y="880.38" width="9.76" height="9.76" fill="#200004"/>
<rect x="556.08" y="880.38" width="9.76" height="9.76" fill="#700a0c"/>
<rect x="565.54" y="880.38" width="9.76" height="9.76" fill="#c02020"/>
<rect x="499.30" y="889.84" width="9.76" height="9.76" fill="#137a3a"/>
<rect x="508.76" y="889.84" width="9.76" height="9.76" fill="#0e4a20"/>
<rect x="518.23" y="889.84" width="9.76" height="9.76" fill="#22a048"/>
<rect x="527.69" y="889.84" width="9.76" height="9.76" fill="#100004"/>
<rect x="537.15" y="889.84" width="9.76" height="9.76" fill="#050505"/>
<rect x="546.61" y="889.84" width="9.76" height="9.76" fill="#050505"/>
<rect x="556.08" y="889.84" width="9.76" height="9.76" fill="#9a1818"/>
<rect x="565.54" y="889.84" width="9.76" height="9.76" fill="#c02020"/>
</g>
<text x="579.10" y="501.33" font-size="8.6" fill="#222">ID3</text>
<text x="579.10" y="510.79" font-size="8.6" fill="#222">CLU</text>
<text x="579.10" y="520.25" font-size="8.6" fill="#222">CPE</text>
<text x="579.10" y="529.70" font-size="8.6" fill="#222">MYL9</text>
<text x="579.10" y="539.16" font-size="8.6" fill="#222">CNN1</text>
<text x="579.10" y="548.62" font-size="8.6" fill="#222">CDKN1C</text>
<text x="579.10" y="558.08" font-size="8.6" fill="#222">TNFSF10</text>
<text x="579.10" y="567.54" font-size="8.6" fill="#222">NOTCH3</text>
<text x="579.10" y="576.99" font-size="8.6" fill="#222">PTHLH</text>
<text x="579.10" y="586.45" font-size="8.6" fill="#222">FADS3</text>
<text x="579.10" y="595.91" font-size="8.6" fill="#222">HDAC9</text>
<text x="579.10" y="605.37" font-size="8.6" fill="#222">SLC9A3R1</text>
<text x="579.10" y="614.83" font-size="8.6" fill="#222">AOX1</text>
<text x="579.10" y="624.28" font-size="8.6" fill="#222">TCF4</text>
<text x="579.10" y="633.74" font-size="8.6" fill="#222">GADD45B</text>
<text x="579.10" y="643.20" font-size="8.6" fill="#222">LIMCH1</text>
<text x="579.10" y="652.66" font-size="8.6" fill="#222">ETS2</text>
<text x="579.10" y="662.12" font-size="8.6" fill="#222">GPRC5A</text>
<text x="579.10" y="671.58" font-size="8.6" fill="#222">MT1E</text>
<text x="579.10" y="681.03" font-size="8.6" fill="#222">BMP2</text>
<text x="579.10" y="690.49" font-size="8.6" fill="#222">KCNN4</text>
<text x="579.10" y="699.95" font-size="8.6" fill="#222">SOD3</text>
<text x="579.10" y="709.41" font-size="8.6" fill="#222">ABCA1</text>
<text x="579.10" y="718.87" font-size="8.6" fill="#222">LOX</text>
<text x="579.10" y="728.32" font-size="8.6" fill="#222">NT5DC2</text>
<text x="579.10" y="737.78" font-size="8.6" fill="#222">SPRY4</text>
<text x="579.10" y="747.24" font-size="8.6" fill="#222">AREG</text>
<text x="579.10" y="756.70" font-size="8.6" fill="#222">FOSL1</text>
<text x="579.10" y="766.16" font-size="8.6" fill="#222">CCND1</text>
<text x="579.10" y="775.62" font-size="8.6" fill="#222">SPRY2</text>
<text x="579.10" y="785.07" font-size="8.6" fill="#222">STC1</text>
<text x="579.10" y="794.53" font-size="8.6" fill="#222">LAMB3</text>
<text x="579.10" y="803.99" font-size="8.6" fill="#222">GLRX</text>
<text x="579.10" y="813.45" font-size="8.6" fill="#222">PHLDA1</text>
<text x="579.10" y="822.91" font-size="8.6" fill="#222">DUSP4</text>
<text x="579.10" y="832.36" font-size="8.6" fill="#222">DUSP6</text>
<text x="579.10" y="841.82" font-size="8.6" fill="#222">ETV5</text>
<text x="579.10" y="851.28" font-size="8.6" fill="#222">NAV3</text>
<text x="579.10" y="860.74" font-size="8.6" fill="#222">DAM19</text>
<text x="579.10" y="870.20" font-size="8.6" fill="#222">DOCK4</text>
<text x="579.10" y="879.65" font-size="8.6" fill="#222">PITPNC1</text>
<text x="579.10" y="889.11" font-size="8.6" fill="#222">CXCL1</text>
<text x="579.10" y="898.57" font-size="8.6" fill="#222">EREG</text>
<rect x="491.6" y="491.1" width="150.0" height="95.6" fill="none" stroke="#3bb8ea" stroke-width="1.1"/>
<rect x="491.9" y="587.5" width="151.0" height="141.5" fill="none" stroke="#f2aa4e" stroke-width="1.1"/>
<rect x="491.6" y="729.7" width="150.0" height="171.5" fill="none" stroke="#3bb8ea" stroke-width="1.1"/>
<defs><linearGradient id="cbG" x1="0" x2="0" y1="0" y2="1"><stop offset="0" stop-color="#ea2e2e"/><stop offset="0.12" stop-color="#d22626"/><stop offset="0.26" stop-color="#8a1818"/><stop offset="0.36" stop-color="#3a0808"/><stop offset="0.44" stop-color="#050505"/><stop offset="0.5" stop-color="#050a06"/><stop offset="0.58" stop-color="#0f3a1c"/><stop offset="0.7" stop-color="#148040"/><stop offset="0.82" stop-color="#26a84a"/><stop offset="1" stop-color="#62b84c"/></linearGradient></defs>
<rect x="460.90" y="490.50" width="12.20" height="178.00" fill="url(#cbG)"/>
<text x="489.00" y="500.50" font-size="10.5" text-anchor="end" fill="#222">2</text>
<text x="489.00" y="541.50" font-size="10.5" text-anchor="end" fill="#222">1</text>
<text x="489.00" y="582.40" font-size="10.5" text-anchor="end" fill="#222">0</text>
<text x="489.00" y="624.30" font-size="10.5" text-anchor="end" fill="#222">−1</text>
<text x="489.00" y="666.10" font-size="10.5" text-anchor="end" fill="#222">−2</text></svg></body></html>
